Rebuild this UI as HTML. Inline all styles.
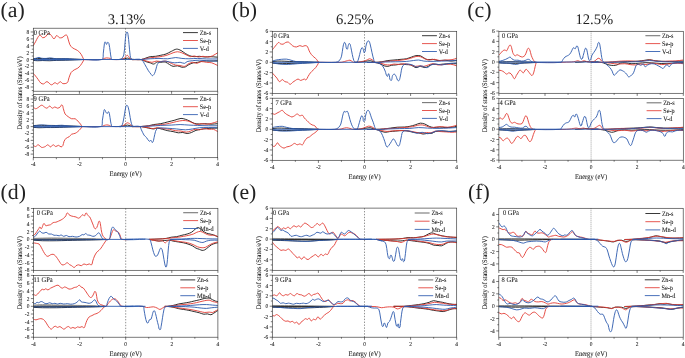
<!DOCTYPE html>
<html><head><meta charset="utf-8"><title>Density of states</title>
<style>html,body{margin:0;padding:0;background:#fff;}svg{display:block;will-change:transform;}text{text-rendering:geometricPrecision;}</style>
</head><body>
<svg width="685" height="358" viewBox="0 0 685 358" font-family='Liberation Serif, serif'>
<rect width="685" height="358" fill="#fff"/>
<g opacity="0.999">
<g id="panel-a">
<clipPath id="clip-a0"><rect x="33.3" y="28.2" width="184.4" height="63"/></clipPath>
<line x1="125.5" y1="28.2" x2="125.5" y2="91.2" stroke="#4a4a4a" stroke-width="0.6" stroke-dasharray="1.4 1.5"/>
<g clip-path="url(#clip-a0)" fill="none" stroke-width="0.9" stroke-linejoin="round" stroke-linecap="round">
<path d="M33.27 58.78C34.48 58.68 36.1 58.46 37.32 58.43C38.9 58.4 41.01 58.61 42.6 58.61C44.71 58.61 47.52 58.41 49.63 58.43C51.75 58.46 54.56 58.74 56.67 58.78C59.31 58.84 62.83 58.73 65.47 58.78C68.11 58.84 71.63 59.03 74.27 59.14C76.91 59.24 80.43 59.38 83.07 59.49" stroke="#151515"/>
<path d="M33.27 60.37C34.48 60.47 36.1 60.7 37.32 60.72C38.9 60.75 41.01 60.54 42.6 60.54C44.71 60.54 47.52 60.75 49.63 60.72C51.75 60.69 54.56 60.44 56.67 60.37C59.31 60.28 62.83 60.27 65.47 60.19C68.11 60.11 71.63 59.95 74.27 59.84C76.91 59.74 80.43 59.59 83.07 59.49" stroke="#151515"/>
<path d="M118.52 59.49C120.37 59.28 122.84 59.08 124.68 58.78C125.49 58.66 126.5 58.05 127.32 58.08C128.15 58.11 129.14 58.8 129.96 58.96C131.26 59.22 133.03 59.43 134.36 59.49C136.47 59.59 139.3 59.75 141.39 59.49C142.77 59.32 144.47 58.5 145.79 58.08C147.11 57.66 148.83 56.92 150.19 56.67C151.75 56.39 153.9 56.53 155.47 56.32C157.07 56.11 159.17 55.61 160.75 55.27C162.34 54.92 164.5 54.59 166.03 54.03C167.69 53.42 169.7 52.14 171.31 51.39C172.87 50.66 174.87 49.26 176.59 49.11C177.97 48.98 179.75 49.9 180.99 50.51C182.41 51.23 184.02 52.68 185.39 53.51C186.66 54.27 188.38 55.29 189.78 55.79C191.05 56.25 192.84 56.6 194.18 56.67C195.77 56.76 197.88 56.27 199.46 56.32C201.06 56.37 203.14 56.97 204.74 57.03C206.33 57.08 208.43 56.65 210.02 56.67C212.3 56.7 215.32 57.04 217.59 57.2" stroke="#151515"/>
<path d="M132.6 59.66C135.24 59.66 138.78 59.28 141.39 59.66C142.82 59.87 144.44 61.11 145.79 61.6C147.08 62.06 148.88 62.43 150.19 62.83C151.26 63.16 152.6 64.2 153.71 64.06C154.93 63.91 156.04 62.25 157.23 61.95C158.26 61.69 159.69 62.3 160.75 62.3C162.07 62.3 163.87 61.62 165.15 61.95C166.64 62.34 168.2 63.84 169.55 64.59C170.58 65.17 171.9 66.17 173.07 66.35C174.38 66.56 176.14 65.69 177.47 65.82C178.85 65.96 180.49 67.05 181.87 67.23C182.92 67.37 184.39 67.25 185.39 66.88C186.56 66.44 187.78 65.16 188.9 64.59C190.17 63.94 191.93 63.19 193.3 62.83C194.59 62.5 196.4 62.54 197.7 62.3C199.3 62.01 201.36 61.23 202.98 61.07C205.08 60.86 207.91 61.12 210.02 61.07C212.29 61.02 215.32 60.83 217.59 60.72" stroke="#151515"/>
<path d="M33.27 45.76C33.96 44.55 34.89 42.94 35.56 41.72C36.21 40.51 36.9 38.8 37.67 37.67C38.23 36.83 38.95 35.21 39.96 35.21C41.04 35.21 41.57 37.33 42.6 37.67C43.37 37.93 44.56 37.43 45.24 36.97C46.47 36.12 47.3 33.78 48.76 33.45C49.74 33.22 50.68 34.84 51.39 35.56C52.27 36.43 52.8 38.73 54.03 38.73C55.27 38.73 55.46 35.8 56.67 35.56C57.67 35.36 58.37 37.29 59.31 37.67C60.05 37.96 61.21 37.95 61.95 37.67C63.39 37.13 64.85 34.69 66.35 35.03C67.64 35.32 67.66 37.83 68.11 39.08C68.72 40.74 69.08 43.12 69.87 44.71C70.42 45.81 71.54 47.1 72.51 47.88C73.43 48.61 75 49.05 76.03 49.63C76.86 50.11 77.97 50.75 78.67 51.39C79.57 52.24 80.63 53.53 81.31 54.56C81.96 55.55 82.53 57.03 83.07 58.08C83.32 58.56 83.68 59.19 83.95 59.66" stroke="#e23a32"/>
<path d="M33.27 73.39C33.96 74.18 34.9 75.21 35.56 76.03C36.38 77.06 37.41 78.49 38.2 79.55C38.99 80.6 39.82 82.22 40.84 83.07C41.48 83.6 42.66 84.13 43.48 83.95C44.7 83.67 45.74 81.52 47 81.66C48.61 81.84 49.78 84.61 51.39 84.83C52.61 84.99 53.69 82.89 54.91 82.72C55.78 82.59 56.7 84.12 57.55 83.95C58.58 83.74 59.15 81.73 60.19 81.66C61.17 81.59 61.86 83.45 62.83 83.6C64.16 83.8 66.25 83.64 67.23 82.72C68.37 81.64 68.43 79.26 68.99 77.79C69.6 76.19 70.16 73.93 71.1 72.51C71.79 71.48 73.24 70.55 74.27 69.87C75.26 69.22 76.83 68.8 77.79 68.11C78.7 67.46 79.73 66.35 80.43 65.47C81.22 64.49 82.06 63.03 82.72 61.95C83.12 61.29 83.58 60.35 83.95 59.66" stroke="#e23a32"/>
<path d="M83.95 59.66C89.33 59.61 96.52 59.82 101.9 59.49C102.65 59.44 103.47 58.69 104.18 58.43C104.8 58.21 105.64 57.96 106.3 57.91C106.98 57.85 107.9 57.99 108.58 58.08C109.12 58.15 109.86 58.2 110.34 58.43C110.78 58.64 111.09 59.44 111.57 59.49C114.36 59.77 118.1 59.49 120.9 59.49" stroke="#e23a32"/>
<path d="M120.28 59.49C121.33 59.28 122.86 59.31 123.8 58.78C124.65 58.31 125.22 57.01 125.91 56.32C126.28 55.95 126.79 55.2 127.32 55.27C127.91 55.34 128.35 56.21 128.73 56.67C129.3 57.38 129.67 58.73 130.48 59.14C131.53 59.66 133.19 59.45 134.36 59.49C136.47 59.56 139.29 59.67 141.39 59.49C143 59.35 145.08 58.72 146.67 58.43C148.25 58.14 150.36 57.77 151.95 57.55C153.53 57.34 155.65 57.21 157.23 57.03C158.82 56.84 160.94 56.63 162.51 56.32C164.12 56 166.23 55.43 167.79 54.91C169.41 54.37 171.45 53.33 173.07 52.8C174.36 52.38 176.11 51.75 177.47 51.75C178.82 51.75 180.59 52.34 181.87 52.8C183.24 53.3 184.93 54.32 186.27 54.91C187.57 55.49 189.26 56.49 190.66 56.67C191.73 56.82 193.11 55.92 194.18 55.97C195.54 56.03 197.23 56.97 198.58 57.03C199.92 57.08 201.65 56.32 202.98 56.32C204.58 56.32 206.67 57.11 208.26 57.03C209.63 56.95 211.41 56.36 212.66 55.79C214.23 55.08 216.11 53.7 217.59 52.8" stroke="#e23a32"/>
<path d="M132.6 59.66C135.24 59.66 138.77 59.4 141.39 59.66C143.03 59.83 145.08 60.67 146.67 61.07C148.25 61.47 150.33 62.3 151.95 62.3C153.32 62.3 154.99 61.18 156.35 61.07C157.68 60.97 159.42 61.6 160.75 61.6C162.34 61.6 164.46 60.81 166.03 61.07C167.73 61.36 169.72 62.69 171.31 63.36C172.62 63.91 174.33 64.79 175.71 65.12C176.99 65.43 178.8 65.29 180.11 65.47C181.44 65.66 183.18 66.59 184.51 66.35C185.75 66.13 186.9 64.64 188.02 64.06C189.29 63.42 191.01 62.42 192.42 62.3C193.78 62.2 195.47 63.47 196.82 63.36C198.24 63.25 199.81 61.75 201.22 61.6C202.81 61.43 204.91 62.12 206.5 62.3C208.08 62.49 210.25 62.39 211.78 62.83C213.62 63.36 215.84 64.68 217.59 65.47" stroke="#e23a32"/>
<path d="M33.27 58.96C34.22 58.7 35.49 58.34 36.44 58.08C37.23 57.87 38.26 57.35 39.08 57.38C39.91 57.41 40.89 58.13 41.72 58.26C43.02 58.45 44.8 58.49 46.12 58.43C47.44 58.38 49.19 57.88 50.51 57.91C51.85 57.93 53.58 58.49 54.91 58.61C56.49 58.75 58.61 58.78 60.19 58.78C62.04 58.78 64.5 58.56 66.35 58.61C68.21 58.66 70.66 59.04 72.51 59.14C75.94 59.31 80.52 59.45 83.95 59.49C89.33 59.55 96.78 61.16 101.9 59.49C103.75 58.88 103 55.08 103.3 53.15C103.74 50.43 103.89 46.73 104.36 44C104.48 43.33 104.56 41.78 105.24 41.89C106.05 42.03 105.65 44.24 106.47 44.36C107.2 44.46 107 42.45 107.7 42.24C108.24 42.09 108.79 43.11 108.93 43.65C109.55 45.92 109.81 49.07 110.17 51.39C110.49 53.5 110.73 56.36 111.22 58.43C111.32 58.83 111.69 59.44 112.1 59.49C114.46 59.77 117.64 59.49 120.02 59.49" stroke="#2b59ad"/>
<path d="M33.27 60.02C36.07 60.07 39.8 60.19 42.6 60.19C47.88 60.19 54.91 60.08 60.19 60.02C67.32 59.93 76.82 59.77 83.95 59.66" stroke="#2b59ad"/>
<path d="M118.52 59.49C119.31 59.38 120.56 59.66 121.16 59.14C122.29 58.16 123.46 56.37 123.8 54.91C124.64 51.3 124.64 46.29 125.03 42.6C125.28 40.22 125.48 37.03 125.91 34.68C126.06 33.84 126.11 32.04 126.97 32.04C127.82 32.04 127.88 33.84 128.02 34.68C128.51 37.56 128.78 41.45 129.08 44.36C129.41 47.63 129.63 52.02 130.13 55.27C130.32 56.47 130.5 58.28 131.36 59.14C132 59.78 133.45 59.46 134.36 59.49C136.47 59.56 139.29 59.58 141.39 59.49C144.04 59.37 147.55 58.94 150.19 58.78C152.83 58.63 156.35 58.43 158.99 58.43C161.63 58.43 165.15 58.92 167.79 58.78C170.19 58.66 173.3 57.61 175.71 57.55C177.57 57.51 180.01 58.26 181.87 58.43C183.97 58.63 186.79 58.78 188.9 58.78C191.55 58.78 195.06 58.41 197.7 58.43C200.35 58.46 203.86 58.89 206.5 58.96C209.83 59.05 214.26 58.96 217.59 58.96" stroke="#2b59ad"/>
<path d="M132.6 59.49C135.24 59.54 138.96 58.65 141.39 59.66C143.07 60.36 143.94 63.06 144.91 64.59C146.05 66.39 147.29 68.96 148.43 70.75C149.14 71.86 150.23 73.25 151.07 74.27C151.45 74.73 151.9 75.82 152.48 75.68C153.39 75.45 154.16 74.22 154.59 73.39C155.24 72.16 155.6 70.32 156 68.99C156.39 67.68 156.67 65.84 157.23 64.59C157.58 63.8 158.22 62.69 158.99 62.3C160.45 61.58 162.64 61.13 164.27 61.07C165.87 61.02 167.96 61.69 169.55 61.95C171.13 62.22 173.22 62.78 174.83 62.83C176.42 62.89 178.52 62.22 180.11 62.3C181.46 62.38 183.16 63.5 184.51 63.36C185.45 63.27 186.24 61.9 187.14 61.6C188.67 61.09 190.83 60.9 192.42 60.72C194.53 60.48 197.34 60.19 199.46 60.19C201.58 60.19 204.39 60.6 206.5 60.72C209.82 60.91 214.26 61.09 217.59 61.25" stroke="#2b59ad"/>
<line x1="33.3" y1="59.5" x2="132.41" y2="59.5" stroke="#2b59ad"/>
</g>
<rect x="33.3" y="28.2" width="184.4" height="63" fill="none" stroke="#333" stroke-width="0.65"/>
<line x1="30.7" y1="87.02" x2="33.3" y2="87.02" stroke="#222" stroke-width="0.6"/>
<text transform="translate(29.2 89.02) scale(0.9 1)" font-size="6.04" text-anchor="end" fill="#1a1a1a" stroke="#1a1a1a" stroke-width="0.08">-8</text>
<line x1="30.7" y1="80.14" x2="33.3" y2="80.14" stroke="#222" stroke-width="0.6"/>
<text transform="translate(29.2 82.14) scale(0.9 1)" font-size="6.04" text-anchor="end" fill="#1a1a1a" stroke="#1a1a1a" stroke-width="0.08">-6</text>
<line x1="30.7" y1="73.26" x2="33.3" y2="73.26" stroke="#222" stroke-width="0.6"/>
<text transform="translate(29.2 75.26) scale(0.9 1)" font-size="6.04" text-anchor="end" fill="#1a1a1a" stroke="#1a1a1a" stroke-width="0.08">-4</text>
<line x1="30.7" y1="66.38" x2="33.3" y2="66.38" stroke="#222" stroke-width="0.6"/>
<text transform="translate(29.2 68.38) scale(0.9 1)" font-size="6.04" text-anchor="end" fill="#1a1a1a" stroke="#1a1a1a" stroke-width="0.08">-2</text>
<line x1="30.7" y1="59.5" x2="33.3" y2="59.5" stroke="#222" stroke-width="0.6"/>
<text transform="translate(29.2 61.5) scale(0.9 1)" font-size="6.04" text-anchor="end" fill="#1a1a1a" stroke="#1a1a1a" stroke-width="0.08">0</text>
<line x1="30.7" y1="52.62" x2="33.3" y2="52.62" stroke="#222" stroke-width="0.6"/>
<text transform="translate(29.2 54.62) scale(0.9 1)" font-size="6.04" text-anchor="end" fill="#1a1a1a" stroke="#1a1a1a" stroke-width="0.08">2</text>
<line x1="30.7" y1="45.74" x2="33.3" y2="45.74" stroke="#222" stroke-width="0.6"/>
<text transform="translate(29.2 47.74) scale(0.9 1)" font-size="6.04" text-anchor="end" fill="#1a1a1a" stroke="#1a1a1a" stroke-width="0.08">4</text>
<line x1="30.7" y1="38.86" x2="33.3" y2="38.86" stroke="#222" stroke-width="0.6"/>
<text transform="translate(29.2 40.86) scale(0.9 1)" font-size="6.04" text-anchor="end" fill="#1a1a1a" stroke="#1a1a1a" stroke-width="0.08">6</text>
<line x1="30.7" y1="31.98" x2="33.3" y2="31.98" stroke="#222" stroke-width="0.6"/>
<text transform="translate(29.2 33.98) scale(0.9 1)" font-size="6.04" text-anchor="end" fill="#1a1a1a" stroke="#1a1a1a" stroke-width="0.08">8</text>
<line x1="31.8" y1="83.58" x2="33.3" y2="83.58" stroke="#222" stroke-width="0.6"/>
<line x1="31.8" y1="76.7" x2="33.3" y2="76.7" stroke="#222" stroke-width="0.6"/>
<line x1="31.8" y1="69.82" x2="33.3" y2="69.82" stroke="#222" stroke-width="0.6"/>
<line x1="31.8" y1="62.94" x2="33.3" y2="62.94" stroke="#222" stroke-width="0.6"/>
<line x1="31.8" y1="56.06" x2="33.3" y2="56.06" stroke="#222" stroke-width="0.6"/>
<line x1="31.8" y1="49.18" x2="33.3" y2="49.18" stroke="#222" stroke-width="0.6"/>
<line x1="31.8" y1="42.3" x2="33.3" y2="42.3" stroke="#222" stroke-width="0.6"/>
<line x1="31.8" y1="35.42" x2="33.3" y2="35.42" stroke="#222" stroke-width="0.6"/>
<line x1="31.8" y1="90.46" x2="33.3" y2="90.46" stroke="#222" stroke-width="0.6"/>
<line x1="33.3" y1="91.2" x2="33.3" y2="93.8" stroke="#222" stroke-width="0.6"/>
<line x1="56.35" y1="91.2" x2="56.35" y2="92.7" stroke="#222" stroke-width="0.6"/>
<line x1="79.4" y1="91.2" x2="79.4" y2="93.8" stroke="#222" stroke-width="0.6"/>
<line x1="102.45" y1="91.2" x2="102.45" y2="92.7" stroke="#222" stroke-width="0.6"/>
<line x1="125.5" y1="91.2" x2="125.5" y2="93.8" stroke="#222" stroke-width="0.6"/>
<line x1="148.55" y1="91.2" x2="148.55" y2="92.7" stroke="#222" stroke-width="0.6"/>
<line x1="171.6" y1="91.2" x2="171.6" y2="93.8" stroke="#222" stroke-width="0.6"/>
<line x1="194.65" y1="91.2" x2="194.65" y2="92.7" stroke="#222" stroke-width="0.6"/>
<line x1="217.7" y1="91.2" x2="217.7" y2="93.8" stroke="#222" stroke-width="0.6"/>
<text transform="translate(33.7 35.1) scale(0.9 1)" font-size="7.22" text-anchor="start" fill="#1a1a1a" stroke="#1a1a1a" stroke-width="0.08">0 GPa</text>
<line x1="183" y1="32.6" x2="197.9" y2="32.6" stroke="#151515" stroke-width="0.85"/>
<text transform="translate(199.7 35) scale(0.9 1)" font-size="6.9" text-anchor="start" fill="#1a1a1a" stroke="#1a1a1a" stroke-width="0.08">Zn-s</text>
<line x1="183" y1="40.5" x2="197.9" y2="40.5" stroke="#e23a32" stroke-width="0.85"/>
<text transform="translate(199.7 42.9) scale(0.9 1)" font-size="6.9" text-anchor="start" fill="#1a1a1a" stroke="#1a1a1a" stroke-width="0.08">Se-p</text>
<line x1="183" y1="48.4" x2="197.9" y2="48.4" stroke="#2b59ad" stroke-width="0.85"/>
<text transform="translate(199.7 50.8) scale(0.9 1)" font-size="6.9" text-anchor="start" fill="#1a1a1a" stroke="#1a1a1a" stroke-width="0.08">V-d</text>
<clipPath id="clip-a1"><rect x="33.3" y="94.4" width="184.4" height="63.3"/></clipPath>
<line x1="125.5" y1="94.4" x2="125.5" y2="157.7" stroke="#4a4a4a" stroke-width="0.6" stroke-dasharray="1.4 1.5"/>
<g clip-path="url(#clip-a1)" fill="none" stroke-width="0.9" stroke-linejoin="round" stroke-linecap="round">
<path d="M33.27 125.61C35.01 125.5 37.33 125.28 39.08 125.26C40.66 125.23 42.77 125.41 44.36 125.43C46.47 125.46 49.28 125.41 51.39 125.43C54.03 125.46 57.55 125.53 60.19 125.61C62.83 125.69 66.35 125.86 68.99 125.96C71.63 126.07 75.15 126.21 77.79 126.31C79.11 126.37 80.87 126.44 82.19 126.49" stroke="#151515"/>
<path d="M33.27 127.37C35.01 127.47 37.33 127.7 39.08 127.72C41.19 127.75 44 127.57 46.12 127.54C48.75 127.52 52.27 127.6 54.91 127.54C57.55 127.49 61.07 127.3 63.71 127.19C66.35 127.09 69.87 126.94 72.51 126.84C75.41 126.73 79.28 126.59 82.19 126.49" stroke="#151515"/>
<path d="M118.52 126.49C120.1 126.33 122.23 126.21 123.8 125.96C124.87 125.79 126.23 125.08 127.32 125.08C128.41 125.08 129.77 125.75 130.84 125.96C131.88 126.17 133.29 126.44 134.36 126.49C136.46 126.59 139.29 126.59 141.39 126.49C143.51 126.38 146.34 126.11 148.43 125.78C150.04 125.53 152.11 124.83 153.71 124.55C155.81 124.19 158.66 124.07 160.75 123.67C162.89 123.27 165.68 122.44 167.79 121.91C169.9 121.39 172.72 120.71 174.83 120.15C176.68 119.66 179.07 118.55 180.99 118.39C182.33 118.28 184.1 118.89 185.39 119.27C186.75 119.68 188.49 120.44 189.78 121.03C191.14 121.66 192.76 122.88 194.18 123.32C195.71 123.79 197.87 123.97 199.46 124.03C201.05 124.08 203.15 123.65 204.74 123.67C206.6 123.7 209.05 124.2 210.9 124.2C212.91 124.2 215.58 123.83 217.59 123.67" stroke="#151515"/>
<path d="M132.6 126.66C135.24 126.66 138.77 126.43 141.39 126.66C143.54 126.86 146.32 127.68 148.43 128.07C150.01 128.37 152.11 128.95 153.71 128.95C154.8 128.95 156.14 128.03 157.23 128.07C158.86 128.14 160.93 128.91 162.51 129.3C164.1 129.7 166.19 130.36 167.79 130.71C169.36 131.05 171.49 131.28 173.07 131.59C174.66 131.91 176.73 132.68 178.35 132.82C179.67 132.94 181.43 132.37 182.75 132.47C184.1 132.58 185.79 133.53 187.14 133.53C188.5 133.53 190.27 132.93 191.54 132.47C192.92 131.98 194.55 130.82 195.94 130.36C197.48 129.86 199.63 129.57 201.22 129.3C202.8 129.04 204.91 128.76 206.5 128.6C208.08 128.44 210.19 128.32 211.78 128.25C213.52 128.17 215.84 128.13 217.59 128.07" stroke="#151515"/>
<path d="M33.27 106.96C33.96 107.48 34.7 108.62 35.56 108.72C36.43 108.81 37.44 107.92 38.2 107.48C39.29 106.86 40.46 105.3 41.72 105.2C42.66 105.12 43.53 106.49 44.36 106.96C45.12 107.39 46.13 108.33 47 108.19C48 108.02 48.62 106.08 49.63 106.08C50.65 106.08 51.27 108.02 52.27 108.19C53.14 108.33 54.04 106.96 54.91 106.96C55.79 106.96 56.68 108.19 57.55 108.19C58.43 108.19 59.5 107.49 60.19 106.96C60.85 106.46 61.23 104.44 61.95 104.85C63.03 105.45 62.96 107.55 63.36 108.72C63.91 110.29 64.26 112.56 65.12 114C65.74 115.02 67.14 115.93 68.11 116.63C69.11 117.36 70.45 118.39 71.63 118.75C72.64 119.05 74.16 118.38 75.15 118.75C76.13 119.11 77.05 120.29 77.79 121.03C78.64 121.88 79.69 123.08 80.43 124.03C81.01 124.78 81.66 125.87 82.19 126.66" stroke="#e23a32"/>
<path d="M33.27 145.32C33.96 145.69 34.78 146.63 35.56 146.55C36.5 146.45 37.26 144.65 38.2 144.79C39.5 144.98 40.44 147.11 41.72 147.43C42.77 147.69 44.24 146.98 45.24 146.55C46.11 146.17 46.93 144.73 47.88 144.79C48.89 144.86 49.5 146.9 50.51 146.9C51.53 146.9 52.14 144.86 53.15 144.79C54.1 144.73 54.85 146.45 55.79 146.55C56.66 146.64 57.56 145.26 58.43 145.32C59.35 145.38 60.15 146.83 61.07 146.9C61.71 146.95 62.53 146.24 62.83 145.67C63.48 144.46 63.49 142.51 64.06 141.27C64.56 140.21 65.48 138.88 66.35 138.1C67 137.52 68.29 137.39 68.99 136.87C69.89 136.21 70.66 134.79 71.63 134.23C72.58 133.69 74.15 133.78 75.15 133.35C76.02 132.98 77.06 132.2 77.79 131.59C78.65 130.87 79.68 129.79 80.43 128.95C81.01 128.31 81.66 127.35 82.19 126.66" stroke="#e23a32"/>
<path d="M82.19 126.66C88.1 126.61 95.99 126.82 101.9 126.49C102.65 126.45 103.46 125.66 104.18 125.43C104.95 125.19 106.02 124.91 106.82 124.91C107.63 124.91 108.7 125.18 109.46 125.43C110.13 125.66 110.87 126.42 111.57 126.49C114.36 126.75 118.1 126.49 120.9 126.49" stroke="#e23a32"/>
<path d="M120.28 126.49C121.07 126.28 122.18 126.13 122.92 125.78C123.68 125.43 124.52 124.67 125.21 124.2C125.84 123.77 126.56 122.89 127.32 122.79C128 122.71 128.86 123.29 129.43 123.67C130.2 124.2 130.95 125.25 131.72 125.78C132.18 126.11 132.91 126.45 133.48 126.49C135.85 126.66 139.02 126.59 141.39 126.49C144.04 126.38 147.56 126.05 150.19 125.78C151.78 125.63 153.88 125.24 155.47 125.08C157.58 124.87 160.41 124.82 162.51 124.55C164.64 124.29 167.45 123.77 169.55 123.32C171.68 122.87 174.46 122.02 176.59 121.56C178.42 121.17 180.87 120.59 182.75 120.51C184.34 120.43 186.48 120.67 188.02 121.03C189.41 121.36 191.1 122.27 192.42 122.79C193.74 123.32 195.41 124.41 196.82 124.55C198.16 124.69 199.88 123.72 201.22 123.67C202.81 123.62 204.91 124.25 206.5 124.2C208.11 124.15 210.22 123.69 211.78 123.32C213.55 122.9 215.84 122.09 217.59 121.56" stroke="#e23a32"/>
<path d="M132.6 126.66C135.24 126.66 138.76 126.49 141.39 126.66C143.52 126.81 146.33 127.36 148.43 127.72C149.76 127.95 151.49 128.6 152.83 128.6C154.18 128.6 155.89 127.72 157.23 127.72C159.1 127.72 161.54 128.36 163.39 128.6C165.23 128.84 167.72 128.99 169.55 129.3C171.42 129.62 173.83 130.42 175.71 130.71C177.28 130.95 179.41 130.85 180.99 131.06C182.59 131.28 184.65 132.12 186.27 132.12C187.62 132.12 189.37 131.48 190.66 131.06C192.02 130.63 193.66 129.5 195.06 129.3C196.38 129.12 198.14 129.94 199.46 129.83C200.83 129.72 202.49 128.68 203.86 128.6C205.46 128.51 207.55 129.19 209.14 129.3C210.46 129.4 212.27 128.96 213.54 129.3C214.89 129.67 216.37 130.91 217.59 131.59" stroke="#e23a32"/>
<path d="M33.27 125.78C34.48 125.68 36.1 125.55 37.32 125.43C38.9 125.28 41 124.91 42.6 124.91C44.19 124.91 46.29 125.34 47.88 125.43C49.98 125.55 52.8 125.64 54.91 125.61C57.03 125.58 59.84 125.2 61.95 125.26C64.07 125.31 66.87 125.83 68.99 125.96C72.95 126.2 78.23 126.42 82.19 126.49C87.84 126.58 95.63 128.18 101.02 126.49C102.87 125.91 102.07 122.07 102.42 120.15C102.91 117.53 103.31 113.98 103.83 111.36C103.94 110.8 104.01 109.38 104.54 109.6C105.36 109.94 105.42 111.51 105.94 112.24C106.27 112.69 106.8 113.59 107.35 113.47C107.95 113.34 107.81 111.56 108.41 111.71C109.14 111.89 109.3 113.26 109.46 114C109.93 116.08 110.14 118.93 110.52 121.03C110.78 122.47 111.09 124.41 111.57 125.78C111.69 126.1 112.12 126.46 112.45 126.49C114.72 126.68 117.75 126.49 120.02 126.49" stroke="#2b59ad"/>
<path d="M33.27 127.02C36.07 127.07 39.8 127.19 42.6 127.19C47.88 127.19 54.91 127.09 60.19 127.02C66.79 126.93 75.59 126.77 82.19 126.66" stroke="#2b59ad"/>
<path d="M118.52 126.49C119.31 126.49 120.55 127 121.16 126.49C122.1 125.7 122.61 123.98 122.92 122.79C123.67 119.94 124.15 116.02 124.68 113.12C125.04 111.11 125.34 108.39 125.91 106.43C126.04 105.96 126.54 104.96 126.97 105.2C127.74 105.64 128.12 106.98 128.37 107.84C128.91 109.64 129.26 112.14 129.6 114C130 116.1 130.39 118.94 130.84 121.03C131.13 122.37 131.54 124.17 132.07 125.43C132.24 125.85 132.68 126.43 133.12 126.49C135.06 126.76 137.68 126.53 139.63 126.49C142.8 126.42 147.03 126.3 150.19 126.14C153.36 125.98 157.58 125.59 160.75 125.43C163.92 125.27 168.14 125.23 171.31 125.08C173.95 124.96 177.46 124.55 180.11 124.55C182.75 124.55 186.26 124.95 188.9 125.08C191.54 125.21 195.06 125.34 197.7 125.43C200.87 125.55 205.09 125.73 208.26 125.78C211.06 125.83 214.79 125.78 217.59 125.78" stroke="#2b59ad"/>
<path d="M132.6 126.49C134.71 126.49 137.66 125.74 139.63 126.49C140.69 126.89 140.88 128.82 141.39 129.83C142.2 131.41 143.05 133.64 144.03 135.11C144.66 136.04 145.94 136.9 146.67 137.75C147.53 138.75 148.18 140.59 149.31 141.27C149.82 141.57 150.52 140.18 151.07 140.39C151.78 140.67 151.91 143.01 152.48 142.5C153.61 141.51 153.67 139.2 154.06 137.75C154.57 135.92 154.85 133.38 155.47 131.59C155.81 130.61 156.38 129.2 157.23 128.6C158.11 127.98 159.67 127.93 160.75 127.9C162.86 127.83 165.68 128.11 167.79 128.25C170.43 128.42 173.95 128.71 176.59 128.95C179.23 129.19 182.73 129.83 185.39 129.83C187.51 129.83 190.32 129.27 192.42 128.95C194.54 128.63 197.33 127.91 199.46 127.72C202.09 127.49 205.62 127.54 208.26 127.54C211.06 127.54 214.79 127.67 217.59 127.72" stroke="#2b59ad"/>
<line x1="33.3" y1="126.6" x2="132.41" y2="126.6" stroke="#2b59ad"/>
</g>
<rect x="33.3" y="94.4" width="184.4" height="63.3" fill="none" stroke="#333" stroke-width="0.65"/>
<line x1="30.7" y1="154.12" x2="33.3" y2="154.12" stroke="#222" stroke-width="0.6"/>
<text transform="translate(29.2 156.12) scale(0.9 1)" font-size="6.04" text-anchor="end" fill="#1a1a1a" stroke="#1a1a1a" stroke-width="0.08">-8</text>
<line x1="30.7" y1="147.24" x2="33.3" y2="147.24" stroke="#222" stroke-width="0.6"/>
<text transform="translate(29.2 149.24) scale(0.9 1)" font-size="6.04" text-anchor="end" fill="#1a1a1a" stroke="#1a1a1a" stroke-width="0.08">-6</text>
<line x1="30.7" y1="140.36" x2="33.3" y2="140.36" stroke="#222" stroke-width="0.6"/>
<text transform="translate(29.2 142.36) scale(0.9 1)" font-size="6.04" text-anchor="end" fill="#1a1a1a" stroke="#1a1a1a" stroke-width="0.08">-4</text>
<line x1="30.7" y1="133.48" x2="33.3" y2="133.48" stroke="#222" stroke-width="0.6"/>
<text transform="translate(29.2 135.48) scale(0.9 1)" font-size="6.04" text-anchor="end" fill="#1a1a1a" stroke="#1a1a1a" stroke-width="0.08">-2</text>
<line x1="30.7" y1="126.6" x2="33.3" y2="126.6" stroke="#222" stroke-width="0.6"/>
<text transform="translate(29.2 128.6) scale(0.9 1)" font-size="6.04" text-anchor="end" fill="#1a1a1a" stroke="#1a1a1a" stroke-width="0.08">0</text>
<line x1="30.7" y1="119.72" x2="33.3" y2="119.72" stroke="#222" stroke-width="0.6"/>
<text transform="translate(29.2 121.72) scale(0.9 1)" font-size="6.04" text-anchor="end" fill="#1a1a1a" stroke="#1a1a1a" stroke-width="0.08">2</text>
<line x1="30.7" y1="112.84" x2="33.3" y2="112.84" stroke="#222" stroke-width="0.6"/>
<text transform="translate(29.2 114.84) scale(0.9 1)" font-size="6.04" text-anchor="end" fill="#1a1a1a" stroke="#1a1a1a" stroke-width="0.08">4</text>
<line x1="30.7" y1="105.96" x2="33.3" y2="105.96" stroke="#222" stroke-width="0.6"/>
<text transform="translate(29.2 107.96) scale(0.9 1)" font-size="6.04" text-anchor="end" fill="#1a1a1a" stroke="#1a1a1a" stroke-width="0.08">6</text>
<line x1="30.7" y1="99.08" x2="33.3" y2="99.08" stroke="#222" stroke-width="0.6"/>
<text transform="translate(29.2 101.08) scale(0.9 1)" font-size="6.04" text-anchor="end" fill="#1a1a1a" stroke="#1a1a1a" stroke-width="0.08">8</text>
<line x1="31.8" y1="150.68" x2="33.3" y2="150.68" stroke="#222" stroke-width="0.6"/>
<line x1="31.8" y1="143.8" x2="33.3" y2="143.8" stroke="#222" stroke-width="0.6"/>
<line x1="31.8" y1="136.92" x2="33.3" y2="136.92" stroke="#222" stroke-width="0.6"/>
<line x1="31.8" y1="130.04" x2="33.3" y2="130.04" stroke="#222" stroke-width="0.6"/>
<line x1="31.8" y1="123.16" x2="33.3" y2="123.16" stroke="#222" stroke-width="0.6"/>
<line x1="31.8" y1="116.28" x2="33.3" y2="116.28" stroke="#222" stroke-width="0.6"/>
<line x1="31.8" y1="109.4" x2="33.3" y2="109.4" stroke="#222" stroke-width="0.6"/>
<line x1="31.8" y1="102.52" x2="33.3" y2="102.52" stroke="#222" stroke-width="0.6"/>
<line x1="31.8" y1="95.64" x2="33.3" y2="95.64" stroke="#222" stroke-width="0.6"/>
<line x1="33.3" y1="157.7" x2="33.3" y2="160.3" stroke="#222" stroke-width="0.6"/>
<line x1="56.35" y1="157.7" x2="56.35" y2="159.2" stroke="#222" stroke-width="0.6"/>
<line x1="79.4" y1="157.7" x2="79.4" y2="160.3" stroke="#222" stroke-width="0.6"/>
<line x1="102.45" y1="157.7" x2="102.45" y2="159.2" stroke="#222" stroke-width="0.6"/>
<line x1="125.5" y1="157.7" x2="125.5" y2="160.3" stroke="#222" stroke-width="0.6"/>
<line x1="148.55" y1="157.7" x2="148.55" y2="159.2" stroke="#222" stroke-width="0.6"/>
<line x1="171.6" y1="157.7" x2="171.6" y2="160.3" stroke="#222" stroke-width="0.6"/>
<line x1="194.65" y1="157.7" x2="194.65" y2="159.2" stroke="#222" stroke-width="0.6"/>
<line x1="217.7" y1="157.7" x2="217.7" y2="160.3" stroke="#222" stroke-width="0.6"/>
<text transform="translate(33.6 101.3) scale(0.9 1)" font-size="7.22" text-anchor="start" fill="#1a1a1a" stroke="#1a1a1a" stroke-width="0.08">9 GPa</text>
<line x1="183" y1="98.8" x2="197.9" y2="98.8" stroke="#151515" stroke-width="0.85"/>
<text transform="translate(199.7 101.2) scale(0.9 1)" font-size="6.9" text-anchor="start" fill="#1a1a1a" stroke="#1a1a1a" stroke-width="0.08">Zn-s</text>
<line x1="183" y1="106.7" x2="197.9" y2="106.7" stroke="#e23a32" stroke-width="0.85"/>
<text transform="translate(199.7 109.1) scale(0.9 1)" font-size="6.9" text-anchor="start" fill="#1a1a1a" stroke="#1a1a1a" stroke-width="0.08">Se-p</text>
<line x1="183" y1="114.6" x2="197.9" y2="114.6" stroke="#2b59ad" stroke-width="0.85"/>
<text transform="translate(199.7 117) scale(0.9 1)" font-size="6.9" text-anchor="start" fill="#1a1a1a" stroke="#1a1a1a" stroke-width="0.08">V-d</text>
<text transform="translate(33.3 166.2) scale(0.9 1)" font-size="6.04" text-anchor="middle" fill="#1a1a1a" stroke="#1a1a1a" stroke-width="0.08">-4</text>
<text transform="translate(79.4 166.2) scale(0.9 1)" font-size="6.04" text-anchor="middle" fill="#1a1a1a" stroke="#1a1a1a" stroke-width="0.08">-2</text>
<text transform="translate(125.5 166.2) scale(0.9 1)" font-size="6.04" text-anchor="middle" fill="#1a1a1a" stroke="#1a1a1a" stroke-width="0.08">0</text>
<text transform="translate(171.6 166.2) scale(0.9 1)" font-size="6.04" text-anchor="middle" fill="#1a1a1a" stroke="#1a1a1a" stroke-width="0.08">2</text>
<text transform="translate(217.7 166.2) scale(0.9 1)" font-size="6.04" text-anchor="middle" fill="#1a1a1a" stroke="#1a1a1a" stroke-width="0.08">4</text>
<text transform="translate(125.5 176.3) scale(0.9 1)" font-size="7.22" text-anchor="middle" fill="#1a1a1a" stroke="#1a1a1a" stroke-width="0.08">Energy (eV)</text>
<text transform="translate(21.7 92.95) rotate(-90) scale(0.9 1)" font-size="7.11" text-anchor="middle" fill="#1a1a1a" stroke="#1a1a1a" stroke-width="0.08">Density of states (States/eV)</text>
<text x="0.5" y="16.9" font-size="21.8" fill="#222">(a)</text>
<text x="126.6" y="24.4" font-size="14.6" text-anchor="middle" fill="#222">3.13%</text>
</g>
<g id="panel-b">
<clipPath id="clip-b0"><rect x="272.3" y="31.3" width="184.4" height="62.1"/></clipPath>
<line x1="364.5" y1="31.3" x2="364.5" y2="93.4" stroke="#4a4a4a" stroke-width="0.6" stroke-dasharray="1.4 1.5"/>
<g clip-path="url(#clip-b0)" fill="none" stroke-width="0.9" stroke-linejoin="round" stroke-linecap="round">
<path d="M272.21 61.61C273.9 61.45 276.14 61.13 277.84 61.08C279.95 61.02 282.76 61.19 284.88 61.26C287.52 61.35 291.03 61.54 293.67 61.61C296.84 61.7 301.06 61.7 304.23 61.78C306.87 61.86 310.39 62.04 313.03 62.14C314.72 62.2 316.97 62.26 318.66 62.31" stroke="#151515"/>
<path d="M272.21 63.02C273.9 63.18 276.14 63.48 277.84 63.54C280.47 63.64 284 63.59 286.63 63.54C289.8 63.49 294.03 63.3 297.19 63.19C300.36 63.09 304.58 62.97 307.75 62.84C311.02 62.71 315.39 62.47 318.66 62.31" stroke="#151515"/>
<path d="M355.28 62.31C356.86 62.21 358.98 62.12 360.56 61.96C362.15 61.8 364.25 61.46 365.84 61.26C367.16 61.09 368.91 60.64 370.24 60.73C371.34 60.8 372.71 61.44 373.76 61.78C374.14 61.91 374.58 62.31 374.99 62.31C377 62.31 379.68 62.06 381.67 61.78C383.54 61.53 385.97 60.82 387.83 60.55C389.67 60.29 392.14 60.2 393.99 60.03C396.1 59.83 398.92 59.53 401.03 59.32C402.61 59.16 404.75 59.13 406.31 58.79C407.94 58.44 410 57.55 411.59 57.03C412.9 56.6 414.61 55.82 415.99 55.63C417.29 55.44 419.12 55.44 420.39 55.8C421.57 56.14 422.83 57.32 423.9 57.91C424.94 58.48 426.26 59.49 427.42 59.67C428.99 59.92 431.12 59.19 432.7 59.32C434.32 59.46 436.36 60.44 437.98 60.55C440.09 60.7 442.91 60.12 445.02 60.2C446.89 60.28 449.31 61.02 451.18 61.08C452.82 61.13 455 60.71 456.63 60.55" stroke="#151515"/>
<path d="M367.6 62.49C369.81 62.49 372.78 62.27 374.99 62.49C376.5 62.64 378.48 63.21 379.91 63.72C381.29 64.21 382.92 65.37 384.31 65.83C385.33 66.17 386.77 66.44 387.83 66.36C388.93 66.28 390.27 65.5 391.35 65.3C392.65 65.07 394.44 65.12 395.75 64.95C397.34 64.75 399.42 64.13 401.03 64.07C402.62 64.02 404.72 64.46 406.31 64.6C407.63 64.72 409.44 64.56 410.71 64.95C412.4 65.48 414.23 67.34 415.99 67.59C417.34 67.79 419.01 66.36 420.39 66.36C421.76 66.36 423.41 67.59 424.78 67.59C425.9 67.59 427.28 66.81 428.3 66.36C429.66 65.76 431.24 64.34 432.7 64.07C434.27 63.79 436.39 64.6 437.98 64.6C439.57 64.6 441.67 64.19 443.26 64.07C445.37 63.92 448.19 63.78 450.3 63.72C452.2 63.67 454.73 63.72 456.63 63.72" stroke="#151515"/>
<path d="M272.21 50C272.84 49.2 273.68 48.15 274.32 47.36C274.95 46.56 275.75 45.47 276.43 44.72C277.08 43.99 277.77 42.64 278.72 42.43C279.38 42.29 279.85 43.59 280.48 43.84C281.22 44.13 282.34 44.39 283.12 44.19C284.04 43.94 284.87 42.78 285.76 42.43C286.5 42.13 287.63 41.85 288.39 42.08C289.19 42.31 289.89 43.29 290.51 43.84C291.21 44.45 291.97 45.5 292.79 45.95C293.76 46.48 295.21 47.06 296.31 47C297.45 46.95 298.7 45.69 299.83 45.6C300.66 45.53 301.64 46.48 302.47 46.48C303.31 46.48 304.28 45.6 305.11 45.6C305.85 45.6 306.95 45.89 307.4 46.48C308.26 47.6 308.53 49.6 309.16 50.88C309.7 51.98 310.52 53.42 311.27 54.39C311.95 55.28 313.09 56.27 313.91 57.03C314.68 57.75 315.88 58.52 316.55 59.32C317.22 60.12 317.78 61.42 318.31 62.31" stroke="#e23a32"/>
<path d="M272.21 72.87C272.84 73.56 273.69 74.46 274.32 75.16C275.12 76.05 276.2 77.22 276.96 78.15C277.79 79.17 278.32 81.33 279.6 81.67C280.58 81.93 281.22 79.56 282.24 79.56C283.25 79.56 283.97 81.22 284.88 81.67C285.6 82.03 286.79 81.84 287.51 82.2C288.42 82.65 289.14 84.31 290.15 84.31C291.17 84.31 291.98 82.8 292.79 82.2C293.56 81.63 294.62 80.93 295.43 80.44C296.2 79.98 297.18 79.03 298.07 79.03C298.97 79.03 299.81 80.44 300.71 80.44C301.85 80.44 303.1 79.14 304.23 79.03C304.82 78.97 305.5 80.24 305.99 79.91C307.01 79.22 307.45 77.43 308.1 76.39C308.77 75.32 309.6 73.85 310.39 72.87C311.09 72 312.24 71.02 313.03 70.23C313.82 69.44 314.97 68.47 315.67 67.59C316.46 66.61 317.34 65.17 317.96 64.07C318.24 63.58 318.45 62.84 318.66 62.31" stroke="#e23a32"/>
<path d="M318.66 62.31C325.42 62.31 334.43 62.54 341.18 62.31C342.27 62.28 343.65 61.7 344.7 61.43C345.5 61.23 346.54 60.92 347.34 60.73C348.13 60.55 349.18 60.08 349.98 60.2C350.71 60.31 351.46 61.06 352.09 61.43C352.52 61.69 353.01 62.24 353.5 62.31C354.81 62.51 356.58 62.31 357.9 62.31" stroke="#e23a32"/>
<path d="M355.28 62.31C356.33 62.26 357.75 62.27 358.8 62.14C359.87 62 361.27 61.67 362.32 61.43C363.38 61.19 364.82 60.94 365.84 60.55C366.94 60.14 368.19 58.96 369.36 58.79C370.18 58.68 371.27 59.26 372 59.67C372.88 60.17 373.78 61.24 374.63 61.78C375.11 62.09 375.83 62.49 376.39 62.49C378.52 62.49 381.32 62 383.43 61.78C385.54 61.57 388.36 61.27 390.47 61.08C392.58 60.9 395.4 60.76 397.51 60.55C399.63 60.34 402.45 60.04 404.55 59.67C406.42 59.35 408.88 58.77 410.71 58.27C412.32 57.82 414.34 56.78 415.99 56.51C417.29 56.29 419.11 56.35 420.39 56.68C421.8 57.05 423.42 58.27 424.78 58.79C426.07 59.28 427.82 59.95 429.18 60.03C430.78 60.11 432.87 59.24 434.46 59.32C436.09 59.4 438.12 60.45 439.74 60.55C441.59 60.67 444.05 60.16 445.9 60.03C447.75 59.89 450.23 59.97 452.06 59.67C453.48 59.44 455.26 58.69 456.63 58.27" stroke="#e23a32"/>
<path d="M367.6 62.49C369.81 62.49 372.77 62.37 374.99 62.49C376.74 62.58 379.08 62.84 380.79 63.19C382.15 63.47 383.83 64.33 385.19 64.6C386.49 64.86 388.27 65.03 389.59 64.95C390.94 64.87 392.65 64.15 393.99 64.07C395.58 63.99 397.68 64.48 399.27 64.42C400.87 64.37 402.95 63.65 404.55 63.72C406.43 63.81 408.88 64.5 410.71 64.95C412.05 65.29 413.73 66.22 415.11 66.36C416.43 66.49 418.18 65.83 419.51 65.83C420.83 65.83 422.58 66.49 423.9 66.36C425.28 66.22 426.98 65.35 428.3 64.95C429.62 64.56 431.33 63.72 432.7 63.72C434.33 63.72 436.36 64.82 437.98 64.95C439.56 65.08 441.68 64.71 443.26 64.6C445.37 64.45 448.19 63.88 450.3 64.07C452.26 64.25 454.73 65.3 456.63 65.83" stroke="#e23a32"/>
<path d="M272.21 61.08C273.37 60.76 274.89 60.25 276.08 60.03C277.65 59.72 279.76 59.45 281.36 59.32C282.94 59.19 285.06 59 286.63 59.15C287.99 59.27 289.72 59.86 291.03 60.2C292.36 60.55 294.08 61.25 295.43 61.43C297.53 61.72 300.36 61.69 302.47 61.78C305.11 61.9 308.63 62.05 311.27 62.14C313.38 62.21 316.2 62.3 318.31 62.31C323.59 62.35 330.64 62.75 335.9 62.31C337.08 62.21 338.63 61.42 339.42 60.55C340.41 59.47 341.16 57.57 341.54 56.15C342.22 53.57 342.41 49.97 342.94 47.36C343.25 45.85 343.43 43.66 344.35 42.43C344.69 41.98 345.38 43.31 345.58 43.84C346.18 45.36 345.63 48.21 346.99 49.12C347.92 49.74 347.77 46.62 348.22 45.6C348.52 44.92 348.84 43.08 349.45 43.48C350.48 44.17 350.55 46.16 350.86 47.36C351.4 49.44 351.79 52.29 352.27 54.39C352.69 56.26 353.18 58.77 353.85 60.55C354.09 61.19 354.67 61.98 355.26 62.31C355.72 62.57 356.49 62.31 357.02 62.31" stroke="#2b59ad"/>
<path d="M272.21 62.84C274.42 63.21 277.36 63.85 279.6 64.07C282.23 64.33 285.75 64.48 288.39 64.42C291.04 64.37 294.55 63.91 297.19 63.72C300.36 63.49 304.58 63.2 307.75 63.02C310.92 62.83 315.14 62.65 318.31 62.49" stroke="#2b59ad"/>
<path d="M355.28 62.31C355.81 62.31 356.71 62.73 357.04 62.31C357.93 61.2 358.38 59.27 358.8 57.91C359.44 55.83 359.91 52.95 360.56 50.88C360.87 49.88 361.1 48.28 361.97 47.71C362.43 47.4 362.95 48.61 363.2 49.12C363.7 50.12 363.64 53.43 364.43 52.63C365.77 51.29 365.36 48.31 365.84 46.48C366.21 45.04 366.58 43.05 367.24 41.73C367.47 41.28 368.25 40.55 368.65 40.85C369.45 41.44 369.79 42.88 370.06 43.84C370.8 46.44 371.38 50 372 52.63C372.49 54.75 373.11 57.59 373.76 59.67C374.01 60.51 374.13 62.14 374.99 62.31C377.99 62.91 382.13 62.04 385.19 61.96C388.36 61.88 392.58 61.86 395.75 61.78C398.92 61.71 403.15 61.65 406.31 61.43C408.43 61.28 411.23 60.79 413.35 60.55C414.93 60.37 417.04 59.95 418.63 60.03C420.24 60.11 422.3 60.9 423.9 61.08C426.01 61.32 428.83 61.43 430.94 61.43C434.11 61.43 438.33 61.18 441.5 61.08C443.61 61.02 446.43 61.03 448.54 60.91C450.97 60.76 454.21 60.41 456.63 60.2" stroke="#2b59ad"/>
<path d="M367.6 62.49C369.81 62.49 372.77 62.35 374.99 62.49C376.22 62.56 377.91 62.69 379.03 63.19C380.24 63.73 381.74 64.79 382.55 65.83C383.64 67.23 384.47 69.5 385.19 71.11C385.89 72.67 385.94 75.37 387.3 76.39C388.02 76.93 388.12 73.07 388.71 73.75C390.09 75.34 388.91 79.57 390.82 80.44C392.25 81.09 391.82 76.88 392.58 75.51C392.91 74.92 393.69 73.94 394.34 74.1C395.18 74.31 395.65 75.65 396.1 76.39C396.87 77.66 396.94 80.47 398.39 80.79C399.54 81.04 399.83 78.41 400.15 77.27C400.73 75.21 400.9 72.32 401.38 70.23C401.69 68.88 402.03 66.99 402.79 65.83C403.31 65.04 404.49 64.2 405.43 64.07C407.26 63.82 409.79 64.13 411.59 64.6C413.28 65.04 415.14 66.82 416.87 67.06C417.97 67.22 419.27 65.89 420.39 65.83C421.47 65.78 422.85 66.45 423.9 66.71C424.96 66.98 426.37 67.86 427.42 67.59C428.7 67.27 429.72 65.44 430.94 64.95C432.43 64.36 434.62 64.07 436.22 64.07C437.83 64.07 439.9 65.02 441.5 64.95C443.65 64.86 446.41 63.84 448.54 63.54C450.95 63.21 454.21 63.05 456.63 62.84" stroke="#2b59ad"/>
<line x1="272.3" y1="62.3" x2="371.42" y2="62.3" stroke="#2b59ad"/>
</g>
<rect x="272.3" y="31.3" width="184.4" height="62.1" fill="none" stroke="#333" stroke-width="0.65"/>
<line x1="269.7" y1="93.32" x2="272.3" y2="93.32" stroke="#222" stroke-width="0.6"/>
<text transform="translate(268.2 95.32) scale(0.9 1)" font-size="6.04" text-anchor="end" fill="#1a1a1a" stroke="#1a1a1a" stroke-width="0.08">-6</text>
<line x1="269.7" y1="82.98" x2="272.3" y2="82.98" stroke="#222" stroke-width="0.6"/>
<text transform="translate(268.2 84.98) scale(0.9 1)" font-size="6.04" text-anchor="end" fill="#1a1a1a" stroke="#1a1a1a" stroke-width="0.08">-4</text>
<line x1="269.7" y1="72.64" x2="272.3" y2="72.64" stroke="#222" stroke-width="0.6"/>
<text transform="translate(268.2 74.64) scale(0.9 1)" font-size="6.04" text-anchor="end" fill="#1a1a1a" stroke="#1a1a1a" stroke-width="0.08">-2</text>
<line x1="269.7" y1="62.3" x2="272.3" y2="62.3" stroke="#222" stroke-width="0.6"/>
<text transform="translate(268.2 64.3) scale(0.9 1)" font-size="6.04" text-anchor="end" fill="#1a1a1a" stroke="#1a1a1a" stroke-width="0.08">0</text>
<line x1="269.7" y1="51.96" x2="272.3" y2="51.96" stroke="#222" stroke-width="0.6"/>
<text transform="translate(268.2 53.96) scale(0.9 1)" font-size="6.04" text-anchor="end" fill="#1a1a1a" stroke="#1a1a1a" stroke-width="0.08">2</text>
<line x1="269.7" y1="41.62" x2="272.3" y2="41.62" stroke="#222" stroke-width="0.6"/>
<text transform="translate(268.2 43.62) scale(0.9 1)" font-size="6.04" text-anchor="end" fill="#1a1a1a" stroke="#1a1a1a" stroke-width="0.08">4</text>
<line x1="269.7" y1="31.28" x2="272.3" y2="31.28" stroke="#222" stroke-width="0.6"/>
<text transform="translate(268.2 33.28) scale(0.9 1)" font-size="6.04" text-anchor="end" fill="#1a1a1a" stroke="#1a1a1a" stroke-width="0.08">6</text>
<line x1="270.8" y1="88.15" x2="272.3" y2="88.15" stroke="#222" stroke-width="0.6"/>
<line x1="270.8" y1="77.81" x2="272.3" y2="77.81" stroke="#222" stroke-width="0.6"/>
<line x1="270.8" y1="67.47" x2="272.3" y2="67.47" stroke="#222" stroke-width="0.6"/>
<line x1="270.8" y1="57.13" x2="272.3" y2="57.13" stroke="#222" stroke-width="0.6"/>
<line x1="270.8" y1="46.79" x2="272.3" y2="46.79" stroke="#222" stroke-width="0.6"/>
<line x1="270.8" y1="36.45" x2="272.3" y2="36.45" stroke="#222" stroke-width="0.6"/>
<line x1="272.3" y1="93.4" x2="272.3" y2="96" stroke="#222" stroke-width="0.6"/>
<line x1="295.35" y1="93.4" x2="295.35" y2="94.9" stroke="#222" stroke-width="0.6"/>
<line x1="318.4" y1="93.4" x2="318.4" y2="96" stroke="#222" stroke-width="0.6"/>
<line x1="341.45" y1="93.4" x2="341.45" y2="94.9" stroke="#222" stroke-width="0.6"/>
<line x1="364.5" y1="93.4" x2="364.5" y2="96" stroke="#222" stroke-width="0.6"/>
<line x1="387.55" y1="93.4" x2="387.55" y2="94.9" stroke="#222" stroke-width="0.6"/>
<line x1="410.6" y1="93.4" x2="410.6" y2="96" stroke="#222" stroke-width="0.6"/>
<line x1="433.65" y1="93.4" x2="433.65" y2="94.9" stroke="#222" stroke-width="0.6"/>
<line x1="456.7" y1="93.4" x2="456.7" y2="96" stroke="#222" stroke-width="0.6"/>
<text transform="translate(273.4 38.2) scale(0.9 1)" font-size="7.22" text-anchor="start" fill="#1a1a1a" stroke="#1a1a1a" stroke-width="0.08">0 GPa</text>
<line x1="422" y1="35.7" x2="436.9" y2="35.7" stroke="#151515" stroke-width="0.85"/>
<text transform="translate(438.7 38.1) scale(0.9 1)" font-size="6.9" text-anchor="start" fill="#1a1a1a" stroke="#1a1a1a" stroke-width="0.08">Zn-s</text>
<line x1="422" y1="43.6" x2="436.9" y2="43.6" stroke="#e23a32" stroke-width="0.85"/>
<text transform="translate(438.7 46) scale(0.9 1)" font-size="6.9" text-anchor="start" fill="#1a1a1a" stroke="#1a1a1a" stroke-width="0.08">Se-p</text>
<line x1="422" y1="51.5" x2="436.9" y2="51.5" stroke="#2b59ad" stroke-width="0.85"/>
<text transform="translate(438.7 53.9) scale(0.9 1)" font-size="6.9" text-anchor="start" fill="#1a1a1a" stroke="#1a1a1a" stroke-width="0.08">V-d</text>
<clipPath id="clip-b1"><rect x="272.3" y="98.2" width="184.4" height="62.1"/></clipPath>
<line x1="364.5" y1="98.2" x2="364.5" y2="160.3" stroke="#4a4a4a" stroke-width="0.6" stroke-dasharray="1.4 1.5"/>
<g clip-path="url(#clip-b1)" fill="none" stroke-width="0.9" stroke-linejoin="round" stroke-linecap="round">
<path d="M272.21 128.61C273.9 128.45 276.14 128.13 277.84 128.08C279.95 128.02 282.76 128.19 284.88 128.26C287.52 128.35 291.03 128.54 293.67 128.61C296.84 128.7 301.06 128.7 304.23 128.78C306.87 128.86 310.39 129.04 313.03 129.14C314.61 129.2 316.72 129.26 318.31 129.31" stroke="#151515"/>
<path d="M272.21 130.02C273.9 130.18 276.14 130.48 277.84 130.54C280.47 130.64 284 130.59 286.63 130.54C289.8 130.49 294.03 130.3 297.19 130.19C300.36 130.09 304.58 129.97 307.75 129.84C310.92 129.71 315.14 129.47 318.31 129.31" stroke="#151515"/>
<path d="M355.28 129.31C356.86 129.21 358.98 129.12 360.56 128.96C362.15 128.8 364.25 128.46 365.84 128.26C367.16 128.09 368.91 127.64 370.24 127.73C371.34 127.8 372.69 128.49 373.76 128.78C374.43 128.97 375.34 129.3 376.04 129.31C378.26 129.35 381.22 129.15 383.43 128.96C385.55 128.78 388.36 128.35 390.47 128.08C392.58 127.82 395.39 127.36 397.51 127.2C399.62 127.04 402.44 127.18 404.55 127.03C406.14 126.91 408.26 126.63 409.83 126.32C411.43 126 413.54 125.38 415.11 124.91C416.71 124.43 418.72 123.31 420.39 123.15C421.73 123.03 423.52 123.58 424.78 124.03C426.18 124.54 427.8 125.77 429.18 126.32C430.46 126.83 432.22 127.46 433.58 127.55C435.43 127.68 437.89 127.03 439.74 127.03C441.6 127.03 444.05 127.53 445.9 127.55C447.75 127.58 450.22 127.41 452.06 127.2C453.45 127.04 455.26 126.59 456.63 126.32" stroke="#151515"/>
<path d="M367.6 129.49C370.13 129.49 373.53 129.19 376.04 129.49C377.53 129.67 379.36 130.63 380.79 131.07C382.1 131.48 383.82 132.22 385.19 132.3C386.53 132.38 388.26 131.76 389.59 131.6C391.43 131.39 393.9 131.22 395.75 131.07C397.86 130.9 400.67 130.54 402.79 130.54C404.38 130.54 406.5 130.81 408.07 131.07C409.67 131.34 411.74 132.04 413.35 132.3C414.92 132.57 417.06 132.55 418.63 132.83C419.97 133.08 421.66 133.98 423.02 134.06C424.36 134.14 426.09 133.47 427.42 133.36C428.74 133.25 430.53 133.65 431.82 133.36C432.98 133.1 434.19 131.87 435.34 131.6C437.15 131.17 439.65 131.1 441.5 131.07C443.61 131.04 446.43 131.42 448.54 131.42C450.97 131.42 454.21 131.18 456.63 131.07" stroke="#151515"/>
<path d="M272.21 113.12C272.84 113.49 273.58 114.36 274.32 114.36C275.19 114.36 276.18 113.52 276.96 113.12C277.76 112.72 278.8 112.14 279.6 111.72C280.39 111.29 281.34 110.2 282.24 110.31C283.01 110.4 283.42 111.71 284 112.24C284.74 112.93 285.79 113.79 286.63 114.36C287.38 114.85 288.47 115.36 289.27 115.76C290.06 116.15 291.04 117 291.91 117C292.79 117 293.79 116.19 294.55 115.76C295.38 115.29 296.24 114 297.19 114C298.14 114 298.91 115.55 299.83 115.76C300.62 115.95 301.74 114.89 302.47 115.24C303.33 115.65 303.62 117.14 304.23 117.88C304.95 118.74 306.08 119.72 306.87 120.51C307.66 121.31 308.65 122.44 309.51 123.15C310.24 123.76 311.3 124.49 312.15 124.91C312.9 125.29 314.12 125.3 314.79 125.79C315.6 126.4 316.2 127.7 316.9 128.43C317.26 128.82 317.89 129.17 318.31 129.49" stroke="#e23a32"/>
<path d="M272.21 145.15C272.73 145.57 273.29 146.56 273.97 146.56C274.64 146.56 275.26 145.64 275.73 145.15C276.32 144.52 276.62 142.86 277.48 142.86C278.35 142.86 278.65 144.52 279.24 145.15C279.81 145.75 280.66 146.47 281.36 146.91C282.1 147.37 283.12 148.14 284 148.14C284.87 148.14 285.81 147.19 286.63 146.91C287.4 146.65 288.51 146.64 289.27 146.38C290.1 146.1 291.15 145.58 291.91 145.15C292.74 144.68 293.6 143.45 294.55 143.39C295.45 143.33 296.3 144.71 297.19 144.8C298.02 144.88 299 143.92 299.83 143.92C300.67 143.92 301.73 145.18 302.47 144.8C303.44 144.3 303.63 142.54 304.23 141.63C304.96 140.53 305.89 138.99 306.87 138.11C307.52 137.53 308.78 137.36 309.51 136.88C310.38 136.3 311.32 135.23 312.15 134.59C312.9 134.01 314.02 133.4 314.79 132.83C315.45 132.34 316.3 131.64 316.9 131.07C317.36 130.63 317.89 129.96 318.31 129.49" stroke="#e23a32"/>
<path d="M318.31 129.49C324.64 129.44 333.09 129.58 339.42 129.31C340.51 129.27 341.88 128.67 342.94 128.43C343.99 128.2 345.39 127.73 346.46 127.73C347.54 127.73 348.94 128.16 349.98 128.43C350.79 128.64 351.79 129.22 352.62 129.31C354.2 129.49 356.32 129.31 357.9 129.31" stroke="#e23a32"/>
<path d="M355.28 129.31C356.23 129.31 357.5 129.43 358.45 129.31C359.63 129.17 361.17 128.76 362.32 128.43C363.39 128.13 364.79 127.59 365.84 127.2C366.64 126.9 367.63 126.23 368.48 126.15C369.38 126.06 370.62 126.34 371.47 126.67C372.39 127.04 373.43 127.91 374.28 128.43C374.81 128.76 375.43 129.47 376.04 129.49C378.79 129.58 382.45 128.96 385.19 128.78C387.3 128.65 390.12 128.56 392.23 128.43C394.34 128.3 397.16 128.06 399.27 127.91C401.38 127.75 404.2 127.57 406.31 127.38C408.16 127.2 410.64 127.01 412.47 126.67C414.08 126.38 416.13 125.56 417.75 125.27C419.05 125.03 420.83 124.78 422.14 124.91C423.51 125.05 425.23 125.75 426.54 126.15C427.87 126.54 429.56 127.43 430.94 127.55C432.53 127.7 434.64 127.16 436.22 127.03C437.8 126.89 439.91 126.65 441.5 126.67C443.36 126.7 445.81 127.26 447.66 127.2C449.26 127.15 451.37 126.66 452.94 126.32C454.07 126.08 455.53 125.58 456.63 125.27" stroke="#e23a32"/>
<path d="M367.6 129.49C370.13 129.49 373.52 129.3 376.04 129.49C377.76 129.62 379.98 130.24 381.67 130.54C383.25 130.83 385.35 131.37 386.95 131.42C388.54 131.48 390.64 131.01 392.23 130.9C394.34 130.75 397.16 130.57 399.27 130.54C401.38 130.52 404.2 130.57 406.31 130.72C407.9 130.83 410.01 131.16 411.59 131.42C413.18 131.69 415.27 132.21 416.87 132.48C418.44 132.74 420.55 133.18 422.14 133.18C423.48 133.18 425.21 132.53 426.54 132.48C427.87 132.43 429.64 133.04 430.94 132.83C432.35 132.61 433.93 131.25 435.34 131.07C436.92 130.87 439.03 131.48 440.62 131.6C442.47 131.74 444.93 131.84 446.78 131.95C448.36 132.05 450.47 132.3 452.06 132.3C453.44 132.3 455.26 132.06 456.63 131.95" stroke="#e23a32"/>
<path d="M272.21 127.55C273.63 127.29 275.52 126.85 276.96 126.67C278.53 126.48 280.65 126.21 282.24 126.32C283.59 126.42 285.31 127.09 286.63 127.38C288.21 127.72 290.31 128.25 291.91 128.43C294.54 128.73 298.07 128.87 300.71 128.96C305.99 129.14 313.03 129.26 318.31 129.31C323.32 129.36 330.03 129.75 335.02 129.31C336.2 129.21 337.67 128.35 338.54 127.55C339.48 126.71 340.41 125.22 340.83 124.03C341.64 121.74 341.95 118.46 342.59 116.12C343.01 114.6 343.36 112.4 344.35 111.19C344.69 110.78 345.23 112.24 345.76 112.24C346.29 112.24 346.74 110.87 347.17 111.19C348 111.81 348.25 113.37 348.57 114.36C349.09 115.91 349.51 118.06 349.98 119.63C350.46 121.23 351.1 123.37 351.74 124.91C352.16 125.92 352.87 127.2 353.5 128.08C353.83 128.54 354.38 129.13 354.91 129.31C355.51 129.52 356.39 129.31 357.02 129.31" stroke="#2b59ad"/>
<path d="M272.21 129.84C274.42 130.16 277.36 130.73 279.6 130.9C282.23 131.1 285.76 131.13 288.39 131.07C291.04 131.02 294.55 130.69 297.19 130.54C300.36 130.37 304.58 130.18 307.75 130.02C310.92 129.86 315.14 129.65 318.31 129.49" stroke="#2b59ad"/>
<path d="M355.28 129.31C355.81 129.31 356.69 129.71 357.04 129.31C357.8 128.47 358.09 126.87 358.45 125.79C359.04 123.97 359.63 121.47 360.21 119.63C360.58 118.46 360.74 116.64 361.61 115.76C361.98 115.39 362.64 116.52 362.85 117C363.39 118.25 362.78 121.83 364.08 121.39C365.63 120.88 365.05 117.7 365.48 116.12C365.89 114.63 366.22 112.57 366.89 111.19C367.11 110.74 367.85 110.09 368.3 110.31C369.02 110.67 369.4 111.85 369.71 112.6C370.35 114.14 370.9 116.31 371.47 117.88C371.95 119.21 372.75 120.94 373.23 122.27C373.7 123.58 374.12 125.39 374.63 126.67C374.97 127.51 375.16 129.17 376.04 129.31C379.8 129.92 384.91 129.08 388.71 128.96C391.88 128.86 396.1 128.69 399.27 128.61C402.44 128.53 406.66 128.61 409.83 128.43C412.48 128.29 415.97 127.61 418.63 127.55C421.27 127.5 424.78 127.96 427.42 128.08C430.59 128.23 434.81 128.43 437.98 128.43C441.15 128.43 445.37 128.23 448.54 128.08C450.97 127.97 454.21 127.71 456.63 127.55" stroke="#2b59ad"/>
<path d="M367.6 129.49C370.13 129.49 373.53 129.17 376.04 129.49C377.29 129.65 378.99 130.22 379.91 131.07C381.05 132.11 381.9 134.08 382.55 135.47C383.39 137.26 384.13 139.79 384.84 141.63C385.45 143.22 385.64 145.82 386.95 146.91C387.59 147.44 388.54 145.78 389.06 145.15C389.87 144.18 390.62 142.65 391.35 141.63C391.94 140.81 392.46 138.87 393.46 138.99C394.63 139.13 395.08 141.2 395.75 142.16C396.56 143.31 396.99 145.92 398.39 146.03C399.57 146.12 399.81 143.64 400.15 142.51C400.77 140.45 401.05 137.56 401.56 135.47C401.84 134.29 401.93 132.46 402.79 131.6C403.56 130.83 405.22 130.72 406.31 130.72C407.91 130.72 410.03 131.21 411.59 131.6C413.21 132.01 415.2 133.25 416.87 133.36C418.48 133.47 420.53 132.25 422.14 132.3C423.78 132.36 425.79 133.62 427.42 133.71C428.77 133.79 430.53 133.22 431.82 132.83C433.18 132.42 434.82 131.33 436.22 131.07C438.3 130.69 441.15 130.64 443.26 130.72C445.39 130.8 448.17 131.6 450.3 131.6C452.22 131.6 454.73 130.98 456.63 130.72" stroke="#2b59ad"/>
<line x1="272.3" y1="129.3" x2="371.42" y2="129.3" stroke="#2b59ad"/>
</g>
<rect x="272.3" y="98.2" width="184.4" height="62.1" fill="none" stroke="#333" stroke-width="0.65"/>
<line x1="269.7" y1="160.32" x2="272.3" y2="160.32" stroke="#222" stroke-width="0.6"/>
<text transform="translate(268.2 162.32) scale(0.9 1)" font-size="6.04" text-anchor="end" fill="#1a1a1a" stroke="#1a1a1a" stroke-width="0.08">-6</text>
<line x1="269.7" y1="149.98" x2="272.3" y2="149.98" stroke="#222" stroke-width="0.6"/>
<text transform="translate(268.2 151.98) scale(0.9 1)" font-size="6.04" text-anchor="end" fill="#1a1a1a" stroke="#1a1a1a" stroke-width="0.08">-4</text>
<line x1="269.7" y1="139.64" x2="272.3" y2="139.64" stroke="#222" stroke-width="0.6"/>
<text transform="translate(268.2 141.64) scale(0.9 1)" font-size="6.04" text-anchor="end" fill="#1a1a1a" stroke="#1a1a1a" stroke-width="0.08">-2</text>
<line x1="269.7" y1="129.3" x2="272.3" y2="129.3" stroke="#222" stroke-width="0.6"/>
<text transform="translate(268.2 131.3) scale(0.9 1)" font-size="6.04" text-anchor="end" fill="#1a1a1a" stroke="#1a1a1a" stroke-width="0.08">0</text>
<line x1="269.7" y1="118.96" x2="272.3" y2="118.96" stroke="#222" stroke-width="0.6"/>
<text transform="translate(268.2 120.96) scale(0.9 1)" font-size="6.04" text-anchor="end" fill="#1a1a1a" stroke="#1a1a1a" stroke-width="0.08">2</text>
<line x1="269.7" y1="108.62" x2="272.3" y2="108.62" stroke="#222" stroke-width="0.6"/>
<text transform="translate(268.2 110.62) scale(0.9 1)" font-size="6.04" text-anchor="end" fill="#1a1a1a" stroke="#1a1a1a" stroke-width="0.08">4</text>
<line x1="269.7" y1="98.28" x2="272.3" y2="98.28" stroke="#222" stroke-width="0.6"/>
<text transform="translate(268.2 100.28) scale(0.9 1)" font-size="6.04" text-anchor="end" fill="#1a1a1a" stroke="#1a1a1a" stroke-width="0.08">6</text>
<line x1="270.8" y1="155.15" x2="272.3" y2="155.15" stroke="#222" stroke-width="0.6"/>
<line x1="270.8" y1="144.81" x2="272.3" y2="144.81" stroke="#222" stroke-width="0.6"/>
<line x1="270.8" y1="134.47" x2="272.3" y2="134.47" stroke="#222" stroke-width="0.6"/>
<line x1="270.8" y1="124.13" x2="272.3" y2="124.13" stroke="#222" stroke-width="0.6"/>
<line x1="270.8" y1="113.79" x2="272.3" y2="113.79" stroke="#222" stroke-width="0.6"/>
<line x1="270.8" y1="103.45" x2="272.3" y2="103.45" stroke="#222" stroke-width="0.6"/>
<line x1="272.3" y1="160.3" x2="272.3" y2="162.9" stroke="#222" stroke-width="0.6"/>
<line x1="295.35" y1="160.3" x2="295.35" y2="161.8" stroke="#222" stroke-width="0.6"/>
<line x1="318.4" y1="160.3" x2="318.4" y2="162.9" stroke="#222" stroke-width="0.6"/>
<line x1="341.45" y1="160.3" x2="341.45" y2="161.8" stroke="#222" stroke-width="0.6"/>
<line x1="364.5" y1="160.3" x2="364.5" y2="162.9" stroke="#222" stroke-width="0.6"/>
<line x1="387.55" y1="160.3" x2="387.55" y2="161.8" stroke="#222" stroke-width="0.6"/>
<line x1="410.6" y1="160.3" x2="410.6" y2="162.9" stroke="#222" stroke-width="0.6"/>
<line x1="433.65" y1="160.3" x2="433.65" y2="161.8" stroke="#222" stroke-width="0.6"/>
<line x1="456.7" y1="160.3" x2="456.7" y2="162.9" stroke="#222" stroke-width="0.6"/>
<text transform="translate(275.5 105.1) scale(0.9 1)" font-size="7.22" text-anchor="start" fill="#1a1a1a" stroke="#1a1a1a" stroke-width="0.08">7 GPa</text>
<line x1="422" y1="102.6" x2="436.9" y2="102.6" stroke="#777" stroke-width="1.1"/>
<text transform="translate(438.7 105) scale(0.9 1)" font-size="6.9" text-anchor="start" fill="#1a1a1a" stroke="#1a1a1a" stroke-width="0.08">Zn-s</text>
<line x1="422" y1="110.5" x2="436.9" y2="110.5" stroke="#e23a32" stroke-width="0.85"/>
<text transform="translate(438.7 112.9) scale(0.9 1)" font-size="6.9" text-anchor="start" fill="#1a1a1a" stroke="#1a1a1a" stroke-width="0.08">Se-p</text>
<line x1="422" y1="118.4" x2="436.9" y2="118.4" stroke="#2b59ad" stroke-width="0.85"/>
<text transform="translate(438.7 120.8) scale(0.9 1)" font-size="6.9" text-anchor="start" fill="#1a1a1a" stroke="#1a1a1a" stroke-width="0.08">V-d</text>
<text transform="translate(272.3 168.8) scale(0.9 1)" font-size="6.04" text-anchor="middle" fill="#1a1a1a" stroke="#1a1a1a" stroke-width="0.08">-4</text>
<text transform="translate(318.4 168.8) scale(0.9 1)" font-size="6.04" text-anchor="middle" fill="#1a1a1a" stroke="#1a1a1a" stroke-width="0.08">-2</text>
<text transform="translate(364.5 168.8) scale(0.9 1)" font-size="6.04" text-anchor="middle" fill="#1a1a1a" stroke="#1a1a1a" stroke-width="0.08">0</text>
<text transform="translate(410.6 168.8) scale(0.9 1)" font-size="6.04" text-anchor="middle" fill="#1a1a1a" stroke="#1a1a1a" stroke-width="0.08">2</text>
<text transform="translate(456.7 168.8) scale(0.9 1)" font-size="6.04" text-anchor="middle" fill="#1a1a1a" stroke="#1a1a1a" stroke-width="0.08">4</text>
<text transform="translate(364.5 178.9) scale(0.9 1)" font-size="7.22" text-anchor="middle" fill="#1a1a1a" stroke="#1a1a1a" stroke-width="0.08">Energy (eV)</text>
<text transform="translate(260.7 95.8) rotate(-90) scale(0.9 1)" font-size="7.11" text-anchor="middle" fill="#1a1a1a" stroke="#1a1a1a" stroke-width="0.08">Density of states (States/eV)</text>
<text x="231.7" y="16.9" font-size="21.8" fill="#222">(b)</text>
<text x="354.9" y="24.4" font-size="14.6" text-anchor="middle" fill="#222">6.25%</text>
</g>
<g id="panel-c">
<clipPath id="clip-c0"><rect x="498.9" y="31.3" width="184.4" height="62"/></clipPath>
<line x1="591.1" y1="31.3" x2="591.1" y2="93.3" stroke="#888" stroke-width="0.8" stroke-dasharray="1 1"/>
<g clip-path="url(#clip-c0)" fill="none" stroke-width="0.9" stroke-linejoin="round" stroke-linecap="round">
<path d="M498.68 61.96C501.05 61.91 504.22 61.81 506.6 61.78C509.24 61.76 512.76 61.76 515.39 61.78C518.03 61.81 521.55 61.89 524.19 61.96C527.78 62.05 532.57 62.21 536.16 62.31" stroke="#151515"/>
<path d="M498.68 62.84C501.05 62.95 504.22 63.12 506.6 63.19C509.24 63.28 512.75 63.4 515.39 63.37C518.04 63.34 521.55 63.13 524.19 63.02C527.78 62.86 532.57 62.65 536.16 62.49" stroke="#151515"/>
<path d="M575.56 62.31C577.67 62.21 580.49 62.14 582.6 61.96C583.66 61.87 585.05 61.43 586.12 61.43C587.18 61.43 588.57 61.93 589.63 61.96C591.75 62.03 594.56 61.69 596.67 61.78C598.27 61.85 600.39 62.15 601.95 62.49C603.04 62.73 604.42 63.35 605.47 63.72C606.53 64.09 607.9 64.71 608.99 64.95C610.29 65.24 612.06 65.48 613.39 65.48C614.46 65.48 615.89 65.28 616.91 64.95C618.03 64.59 619.29 63.5 620.43 63.19C621.71 62.85 623.51 62.78 624.83 62.84C626.95 62.94 629.74 63.67 631.87 63.72C633.98 63.77 636.79 63.35 638.9 63.19C641.02 63.03 643.83 62.66 645.94 62.66C649.11 62.66 653.33 63.03 656.5 63.19C659.67 63.35 663.89 63.78 667.06 63.72C669.71 63.67 673.21 63.01 675.86 62.84C678.07 62.7 681.03 62.72 683.25 62.66" stroke="#151515"/>
<path d="M604.24 62.31C607.25 62.26 611.26 62.22 614.27 62.14C616.91 62.06 620.43 61.89 623.07 61.78C625.71 61.68 629.23 61.55 631.87 61.43C633.98 61.34 636.8 61.26 638.9 61.08C640.5 60.94 642.6 60.59 644.18 60.38C645.77 60.17 647.86 59.67 649.46 59.67C650.54 59.67 651.92 60.21 652.98 60.38C654.56 60.63 656.67 60.94 658.26 61.08C660.37 61.26 663.19 61.39 665.3 61.43C667.94 61.49 671.46 61.48 674.1 61.43C676.84 61.38 680.5 61.19 683.25 61.08" stroke="#151515"/>
<path d="M498.68 55.27C499.21 54.75 499.93 54.06 500.44 53.51C501.15 52.74 501.91 51.53 502.73 50.88C503.26 50.45 504.15 50 504.84 50C505.43 50 506.12 51.23 506.6 50.88C507.54 50.17 507.74 48.37 508.36 47.36C508.8 46.62 509.25 45.07 510.12 45.07C510.92 45.07 511.26 46.6 511.52 47.36C512.06 48.89 512.13 51.13 512.76 52.63C513.21 53.72 513.99 55.3 515.04 55.8C515.68 56.11 516.45 54.69 517.15 54.75C518.05 54.81 518.97 55.8 519.79 56.15C520.56 56.49 521.61 57.17 522.43 57.03C523.37 56.88 524.52 56.05 525.07 55.27C525.9 54.12 526.25 52.17 526.83 50.88C527.2 50.06 527.38 48.49 528.24 48.24C528.92 48.04 529.55 49.34 529.82 50C530.46 51.5 530.7 53.72 531.23 55.27C531.66 56.53 532.36 58.16 532.99 59.32C533.42 60.12 534.11 61.14 534.75 61.78C535.08 62.12 535.74 62.28 536.16 62.49" stroke="#e23a32"/>
<path d="M498.68 70.23C499.47 70.34 500.56 70.33 501.32 70.58C502.17 70.87 503.21 71.49 503.96 71.99C504.8 72.55 505.6 73.92 506.6 74.1C507.32 74.24 507.98 72.93 508.71 72.87C509.44 72.81 510.44 73.27 511 73.75C511.71 74.37 512.2 75.62 512.76 76.39C513.26 77.09 513.67 78.89 514.51 78.68C515.57 78.41 515.71 76.44 516.27 75.51C516.77 74.7 517.51 73.66 518.03 72.87C518.56 72.08 518.94 70.66 519.79 70.23C520.32 69.97 521.08 70.76 521.55 71.11C522.15 71.56 522.62 73.15 523.31 72.87C524.54 72.38 524.71 69.81 525.95 69.35C526.73 69.07 527.5 70.51 528.06 71.11C528.83 71.94 529.59 73.27 530.35 74.1C530.81 74.6 531.53 75.86 532.11 75.51C533.12 74.9 533.49 73.11 533.87 71.99C534.39 70.45 534.72 68.29 535.1 66.71C535.41 65.44 535.84 63.76 536.16 62.49" stroke="#e23a32"/>
<path d="M536.16 62.49C543.13 62.49 552.42 62.57 559.39 62.49C561.5 62.46 564.31 62.23 566.42 62.14C568.01 62.07 570.12 62.09 571.7 61.96C572.77 61.88 574.18 61.64 575.22 61.43C576.03 61.27 577.04 60.67 577.86 60.73C578.71 60.79 579.71 61.47 580.5 61.78" stroke="#e23a32"/>
<path d="M581.72 61.43C582.51 61.22 583.54 60.67 584.36 60.73C585.21 60.79 586.16 61.62 587 61.78C587.77 61.94 588.84 61.78 589.63 61.78C590.69 61.78 592.13 62.05 593.15 61.78C594.05 61.56 595.04 60.74 595.79 60.2C596.53 59.68 597.23 58.56 598.08 58.27C598.6 58.08 599.41 58.45 599.84 58.79C600.52 59.33 600.96 60.5 601.6 61.08C602.14 61.57 602.98 62.27 603.71 62.31C606.35 62.48 609.87 61.97 612.51 61.78C615.15 61.6 618.66 61.21 621.31 61.08C623.94 60.95 627.47 60.85 630.11 60.91C632.22 60.95 635.03 61.46 637.14 61.43C639.27 61.41 642.07 60.95 644.18 60.73C646.03 60.53 648.48 60.03 650.34 60.03C651.68 60.03 653.41 60.57 654.74 60.73C656.85 60.99 659.66 61.38 661.78 61.43C663.89 61.49 666.71 61.16 668.82 61.08C670.93 61 673.75 61.06 675.86 60.91C678.08 60.74 681.03 60.29 683.25 60.03" stroke="#e23a32"/>
<path d="M591.39 62.49C595.25 62.49 600.39 62.35 604.24 62.49C606.2 62.56 608.8 62.96 610.75 63.19C612.86 63.44 615.66 63.99 617.79 64.07C619.9 64.15 622.72 63.63 624.83 63.72C626.43 63.79 628.51 64.41 630.11 64.6C631.68 64.78 633.8 65.03 635.39 64.95C636.99 64.87 639.06 64.13 640.66 64.07C642.25 64.02 644.36 64.73 645.94 64.6C647.58 64.46 649.59 63.33 651.22 63.19C652.81 63.06 654.92 63.51 656.5 63.72C658.09 63.93 660.18 64.55 661.78 64.6C663.37 64.65 665.48 64.23 667.06 64.07C668.64 63.91 670.75 63.68 672.34 63.54C673.92 63.41 676.03 63.17 677.62 63.19C679.31 63.22 681.56 63.56 683.25 63.72" stroke="#e23a32"/>
<path d="M498.68 61.43C499.73 61.17 501.15 60.87 502.2 60.55C503.27 60.23 504.69 59.76 505.72 59.32C506.54 58.97 507.56 58.33 508.36 57.91C508.88 57.64 509.54 56.89 510.12 57.03C510.84 57.22 511.27 58.36 511.88 58.79C512.6 59.32 513.64 60 514.51 60.2C515.54 60.44 516.99 60.07 518.03 60.2C519.11 60.34 520.47 61.03 521.55 61.08C522.62 61.13 524.05 60.85 525.07 60.55C525.91 60.31 526.86 59.49 527.71 59.32C528.24 59.22 529.01 59.4 529.47 59.67C530.11 60.06 530.63 60.99 531.23 61.43C531.7 61.79 532.4 62.3 532.99 62.31C541.43 62.56 552.73 63.06 561.14 62.31C562.09 62.23 562.34 60.44 562.9 59.67C563.5 58.86 564.25 57.7 565.02 57.03C565.6 56.52 566.63 56.19 567.3 55.8C568 55.4 569.05 55 569.59 54.39C570.41 53.48 571.09 51.94 571.7 50.88C572.25 49.93 572.53 48.27 573.46 47.71C573.99 47.39 574.67 49.04 575.22 48.76C576.11 48.32 575.99 45.84 576.98 45.95C578.02 46.06 578.09 48.12 578.39 49.12C578.94 50.93 579.26 53.46 579.8 55.27C580.16 56.53 580.43 58.43 581.38 59.32C581.79 59.71 582.24 58.34 582.61 57.91" stroke="#2b59ad"/>
<path d="M498.68 62.66C500 62.82 501.75 63.12 503.08 63.19C504.66 63.28 506.78 63.05 508.36 63.19C509.7 63.31 511.43 63.87 512.76 64.07C513.8 64.24 515.22 64.5 516.27 64.42C517.36 64.34 518.73 63.76 519.79 63.54C521.1 63.28 522.86 62.96 524.19 62.84C525.77 62.7 527.89 62.73 529.47 62.66C530.53 62.62 531.94 62.54 532.99 62.49" stroke="#2b59ad"/>
<path d="M582.6 57.91C583.02 56.33 583.55 54.21 584 52.63C584.39 51.3 584.58 49.34 585.41 48.24C585.68 47.87 586.49 48.69 586.64 49.12C587.27 50.89 587.45 53.44 587.88 55.27C588.24 56.87 588.4 59.17 589.28 60.55C589.55 60.97 590.47 60.12 590.69 59.67C591.3 58.45 591.39 56.54 591.92 55.27C592.29 54.4 593.15 53.43 593.68 52.63C594.21 51.84 594.97 50.82 595.44 50C596.03 48.97 596.75 47.57 597.2 46.48C597.7 45.29 597.54 43.14 598.61 42.43C599.26 42 599.67 43.96 599.84 44.72C600.47 47.58 600.77 51.5 601.25 54.39C601.56 56.25 601.81 58.79 602.48 60.55C602.74 61.25 603.5 62.2 604.24 62.31C606.69 62.7 610.03 62.18 612.51 62.14C615.68 62.08 619.9 62.01 623.07 61.96C626.76 61.9 631.69 61.94 635.39 61.78C638.03 61.67 641.55 61.31 644.18 61.08C645.77 60.94 647.87 60.55 649.46 60.55C651.05 60.55 653.16 60.94 654.74 61.08C657.38 61.31 660.89 61.66 663.54 61.78C666.7 61.93 670.93 61.96 674.1 61.96C676.84 61.96 680.5 61.84 683.25 61.78" stroke="#2b59ad"/>
<path d="M591.39 62.49C595.25 62.49 600.45 61.81 604.24 62.49C605.45 62.7 606.32 64.48 607.23 65.3C608.01 66.01 609.19 66.79 609.87 67.59C610.69 68.55 611.56 70 612.16 71.11C612.78 72.28 612.91 74.3 613.92 75.16C614.39 75.56 615.22 74.51 615.68 74.1C616.29 73.55 616.85 72.57 617.44 71.99C618.13 71.3 618.97 70.16 619.9 69.88C620.59 69.68 621.54 70.28 622.19 70.58C622.92 70.92 623.85 71.49 624.48 71.99C625.18 72.55 626 73.42 626.59 74.1C627.27 74.9 627.74 76.48 628.7 76.92C629.26 77.17 629.95 76.21 630.46 75.86C631.17 75.37 632.24 74.81 632.75 74.1C633.49 73.07 634.05 71.42 634.51 70.23C635 68.94 635.23 67.04 635.91 65.83C636.32 65.12 637.21 64.16 638.02 64.07C638.89 63.98 639.79 65.3 640.66 65.3C641.54 65.3 642.47 63.81 643.3 64.07C644.21 64.36 644.13 66.53 645.06 66.71C646 66.9 646.85 65.37 647.7 64.95C648.71 64.46 650.11 63.86 651.22 63.72C652.27 63.59 653.73 63.77 654.74 64.07C655.87 64.41 657.22 65.28 658.26 65.83C659.22 66.34 660.47 67.08 661.43 67.59C661.95 67.87 662.65 68.72 663.19 68.47C664.11 68.05 664.52 66.48 665.3 65.83C665.83 65.39 666.74 64.8 667.41 64.95C668.14 65.12 668.44 66.87 669.17 66.71C670.19 66.49 670.61 64.68 671.46 64.07C672.14 63.59 673.28 63.34 674.1 63.19C675.4 62.96 677.17 62.84 678.5 62.84C679.93 62.84 681.82 63.09 683.25 63.19" stroke="#2b59ad"/>
<line x1="498.9" y1="62" x2="598.01" y2="62" stroke="#2b59ad"/>
</g>
<rect x="498.9" y="31.3" width="184.4" height="62" fill="none" stroke="#333" stroke-width="0.65"/>
<line x1="496.3" y1="92.9" x2="498.9" y2="92.9" stroke="#222" stroke-width="0.6"/>
<text transform="translate(494.8 94.9) scale(0.9 1)" font-size="6.04" text-anchor="end" fill="#1a1a1a" stroke="#1a1a1a" stroke-width="0.08">-6</text>
<line x1="496.3" y1="82.6" x2="498.9" y2="82.6" stroke="#222" stroke-width="0.6"/>
<text transform="translate(494.8 84.6) scale(0.9 1)" font-size="6.04" text-anchor="end" fill="#1a1a1a" stroke="#1a1a1a" stroke-width="0.08">-4</text>
<line x1="496.3" y1="72.3" x2="498.9" y2="72.3" stroke="#222" stroke-width="0.6"/>
<text transform="translate(494.8 74.3) scale(0.9 1)" font-size="6.04" text-anchor="end" fill="#1a1a1a" stroke="#1a1a1a" stroke-width="0.08">-2</text>
<line x1="496.3" y1="62" x2="498.9" y2="62" stroke="#222" stroke-width="0.6"/>
<text transform="translate(494.8 64) scale(0.9 1)" font-size="6.04" text-anchor="end" fill="#1a1a1a" stroke="#1a1a1a" stroke-width="0.08">0</text>
<line x1="496.3" y1="51.7" x2="498.9" y2="51.7" stroke="#222" stroke-width="0.6"/>
<text transform="translate(494.8 53.7) scale(0.9 1)" font-size="6.04" text-anchor="end" fill="#1a1a1a" stroke="#1a1a1a" stroke-width="0.08">2</text>
<line x1="496.3" y1="41.4" x2="498.9" y2="41.4" stroke="#222" stroke-width="0.6"/>
<text transform="translate(494.8 43.4) scale(0.9 1)" font-size="6.04" text-anchor="end" fill="#1a1a1a" stroke="#1a1a1a" stroke-width="0.08">4</text>
<line x1="496.3" y1="31.1" x2="498.9" y2="31.1" stroke="#222" stroke-width="0.6"/>
<text transform="translate(494.8 33.1) scale(0.9 1)" font-size="6.04" text-anchor="end" fill="#1a1a1a" stroke="#1a1a1a" stroke-width="0.08">6</text>
<line x1="497.4" y1="87.75" x2="498.9" y2="87.75" stroke="#222" stroke-width="0.6"/>
<line x1="497.4" y1="77.45" x2="498.9" y2="77.45" stroke="#222" stroke-width="0.6"/>
<line x1="497.4" y1="67.15" x2="498.9" y2="67.15" stroke="#222" stroke-width="0.6"/>
<line x1="497.4" y1="56.85" x2="498.9" y2="56.85" stroke="#222" stroke-width="0.6"/>
<line x1="497.4" y1="46.55" x2="498.9" y2="46.55" stroke="#222" stroke-width="0.6"/>
<line x1="497.4" y1="36.25" x2="498.9" y2="36.25" stroke="#222" stroke-width="0.6"/>
<line x1="498.9" y1="93.3" x2="498.9" y2="95.9" stroke="#222" stroke-width="0.6"/>
<line x1="521.95" y1="93.3" x2="521.95" y2="94.8" stroke="#222" stroke-width="0.6"/>
<line x1="545" y1="93.3" x2="545" y2="95.9" stroke="#222" stroke-width="0.6"/>
<line x1="568.05" y1="93.3" x2="568.05" y2="94.8" stroke="#222" stroke-width="0.6"/>
<line x1="591.1" y1="93.3" x2="591.1" y2="95.9" stroke="#222" stroke-width="0.6"/>
<line x1="614.15" y1="93.3" x2="614.15" y2="94.8" stroke="#222" stroke-width="0.6"/>
<line x1="637.2" y1="93.3" x2="637.2" y2="95.9" stroke="#222" stroke-width="0.6"/>
<line x1="660.25" y1="93.3" x2="660.25" y2="94.8" stroke="#222" stroke-width="0.6"/>
<line x1="683.3" y1="93.3" x2="683.3" y2="95.9" stroke="#222" stroke-width="0.6"/>
<text transform="translate(501.9 38.2) scale(0.9 1)" font-size="7.22" text-anchor="start" fill="#1a1a1a" stroke="#1a1a1a" stroke-width="0.08">0 GPa</text>
<line x1="645.4" y1="35.7" x2="660.3" y2="35.7" stroke="#777" stroke-width="1.1"/>
<text transform="translate(662.1 38.1) scale(0.9 1)" font-size="6.9" text-anchor="start" fill="#1a1a1a" stroke="#1a1a1a" stroke-width="0.08">Zn-s</text>
<line x1="645.4" y1="43.6" x2="660.3" y2="43.6" stroke="#e23a32" stroke-width="0.85"/>
<text transform="translate(662.1 46) scale(0.9 1)" font-size="6.9" text-anchor="start" fill="#1a1a1a" stroke="#1a1a1a" stroke-width="0.08">Se-p</text>
<line x1="645.4" y1="51.5" x2="660.3" y2="51.5" stroke="#2b59ad" stroke-width="0.85"/>
<text transform="translate(662.1 53.9) scale(0.9 1)" font-size="6.9" text-anchor="start" fill="#1a1a1a" stroke="#1a1a1a" stroke-width="0.08">V-d</text>
<clipPath id="clip-c1"><rect x="498.9" y="98.4" width="184.4" height="61.8"/></clipPath>
<line x1="591.1" y1="98.4" x2="591.1" y2="160.2" stroke="#888" stroke-width="0.8" stroke-dasharray="1 1"/>
<g clip-path="url(#clip-c1)" fill="none" stroke-width="0.9" stroke-linejoin="round" stroke-linecap="round">
<path d="M498.68 128.96C501.05 128.91 504.22 128.81 506.6 128.78C509.24 128.76 512.76 128.76 515.39 128.78C518.03 128.81 521.55 128.89 524.19 128.96C527.36 129.05 531.58 129.21 534.75 129.31" stroke="#151515"/>
<path d="M498.68 129.84C501.05 129.95 504.22 130.12 506.6 130.19C509.24 130.28 512.75 130.4 515.39 130.37C518.04 130.34 521.55 130.14 524.19 130.02C527.36 129.87 531.58 129.65 534.75 129.49" stroke="#151515"/>
<path d="M575.56 129.31C577.67 129.21 580.49 129.14 582.6 128.96C583.66 128.87 585.05 128.43 586.12 128.43C587.18 128.43 588.57 128.91 589.63 128.96C591.74 129.07 594.56 128.86 596.67 128.96C597.74 129.01 599.14 129.32 600.19 129.49C601.51 129.69 603.29 129.9 604.59 130.19C605.67 130.43 607.06 130.93 608.11 131.25C609.17 131.57 610.53 132.25 611.63 132.3C612.71 132.36 614.12 131.91 615.15 131.6C616.24 131.27 617.55 130.4 618.67 130.19C620.49 129.86 622.98 129.84 624.83 129.84C626.94 129.84 629.75 130.19 631.87 130.19C633.98 130.19 636.79 129.9 638.9 129.84C642.07 129.75 646.3 129.61 649.46 129.66C652.63 129.72 656.85 130.11 660.02 130.19C663.19 130.27 667.41 130.26 670.58 130.19C674.38 130.11 679.45 129.82 683.25 129.66" stroke="#151515"/>
<path d="M604.77 129.31C608.15 129.21 612.65 129.11 616.03 128.96C618.67 128.85 622.19 128.57 624.83 128.43C627.47 128.3 630.99 128.2 633.63 128.08C635.74 127.99 638.56 127.88 640.66 127.73C642.25 127.62 644.36 127.31 645.94 127.2C647.52 127.1 649.64 126.97 651.22 127.03C652.81 127.08 654.92 127.42 656.5 127.55C658.61 127.73 661.42 128.01 663.54 128.08C666.18 128.17 669.7 128.13 672.34 128.08C675.61 128.02 679.97 127.83 683.25 127.73" stroke="#151515"/>
<path d="M498.68 118.76C499.21 118.49 499.85 117.79 500.44 117.88C501.11 117.98 501.54 119.43 502.2 119.28C503.15 119.08 503.9 117.77 504.48 117C505.23 116.01 505.5 114.03 506.6 113.48C507.2 113.17 507.73 114.62 508 115.24C508.69 116.76 509.03 119.01 509.76 120.51C510.21 121.43 510.92 122.8 511.88 123.15C512.66 123.44 513.68 122.21 514.51 122.27C515.29 122.33 516.07 123.24 516.8 123.51C517.51 123.77 518.51 124.03 519.27 124.03C520.13 124.03 521.46 124.1 522.08 123.51C523 122.62 523.31 120.8 523.84 119.63C524.37 118.47 524.62 116.58 525.6 115.76C526.03 115.4 526.77 116.49 527.01 117C527.7 118.5 528.05 120.71 528.59 122.27C529.06 123.62 529.68 125.42 530.35 126.67C530.74 127.4 531.51 128.22 532.11 128.78C532.42 129.08 532.97 129.28 533.34 129.49" stroke="#e23a32"/>
<path d="M498.68 137.23C499.36 137.5 500.39 137.65 500.97 138.11C501.76 138.74 502.08 140.54 503.08 140.75C503.88 140.92 504.48 139.42 505.19 138.99C505.82 138.61 506.79 137.85 507.48 138.11C508.45 138.49 509.13 139.92 509.76 140.75C510.34 141.51 510.6 143.18 511.52 143.39C512.33 143.57 513.12 142.27 513.63 141.63C514.4 140.67 515.02 139.1 515.75 138.11C516.19 137.51 516.78 136.53 517.51 136.35C518.08 136.21 518.77 136.91 519.27 137.23C519.83 137.6 520.39 138.86 521.03 138.64C522.05 138.28 522.42 136.44 523.31 135.82C523.88 135.43 525.04 135.07 525.6 135.47C526.6 136.19 527.02 137.98 527.71 138.99C528.29 139.83 528.83 141.41 529.82 141.63C530.55 141.8 531.25 140.54 531.58 139.87C532.33 138.38 532.78 136.16 533.34 134.59C533.73 133.52 534.29 132.11 534.75 131.07C534.97 130.58 535.37 129.96 535.63 129.49" stroke="#e23a32"/>
<path d="M535.63 129.49C542.76 129.49 552.26 129.53 559.39 129.49C561.5 129.48 564.32 129.43 566.42 129.31C568.01 129.22 570.12 128.99 571.7 128.78C573.03 128.62 574.77 128.08 576.1 128.08C577.18 128.08 578.57 128.57 579.62 128.78" stroke="#e23a32"/>
<path d="M579.96 128.78C581.01 128.57 582.4 128.05 583.48 128.08C584.56 128.11 585.91 128.86 587 128.96C588.31 129.08 590.08 128.93 591.39 128.78C592.46 128.67 593.91 128.48 594.91 128.08C595.8 127.73 596.73 126.79 597.55 126.32C598.21 125.95 599.09 125.19 599.84 125.27C600.44 125.32 600.86 126.22 601.25 126.67C601.76 127.28 602.2 128.31 602.83 128.78C603.31 129.15 604.17 129.3 604.77 129.31C607.09 129.36 610.19 129.08 612.51 128.96C615.15 128.82 618.67 128.51 621.31 128.43C623.95 128.35 627.47 128.43 630.11 128.43C632.22 128.43 635.03 128.51 637.14 128.43C639.26 128.35 642.07 128.06 644.18 127.91C646.3 127.75 649.1 127.38 651.22 127.38C652.81 127.38 654.92 127.77 656.5 127.91C658.61 128.09 661.42 128.41 663.54 128.43C665.65 128.46 668.47 128.19 670.58 128.08C672.69 127.98 675.51 127.88 677.62 127.73C679.31 127.61 681.56 127.36 683.25 127.2" stroke="#e23a32"/>
<path d="M591.39 129.49C595.41 129.49 600.76 129.34 604.77 129.49C606.57 129.55 608.95 130.02 610.75 130.19C612.86 130.39 615.67 130.72 617.79 130.72C619.91 130.72 622.71 130.14 624.83 130.19C626.69 130.24 629.12 130.98 630.99 131.07C632.31 131.14 634.07 130.84 635.39 130.72C636.97 130.58 639.07 130.17 640.66 130.19C642.26 130.22 644.35 130.92 645.94 130.9C647.55 130.87 649.62 130.07 651.22 130.02C652.81 129.96 654.92 130.33 656.5 130.54C658.09 130.76 660.18 131.34 661.78 131.42C663.37 131.5 665.48 131.2 667.06 131.07C668.64 130.94 670.75 130.68 672.34 130.54C673.92 130.41 676.03 130.19 677.62 130.19C679.31 130.19 681.56 130.44 683.25 130.54" stroke="#e23a32"/>
<path d="M498.68 127.55C499.73 127.39 501.2 127.4 502.2 127.03C503.09 126.69 504.02 125.76 504.84 125.27C505.34 124.96 506.01 124.3 506.6 124.39C507.26 124.49 507.78 125.45 508.36 125.79C509.11 126.24 510.14 126.83 511 127.03C512.03 127.26 513.46 127.08 514.51 127.2C515.84 127.35 517.59 127.76 518.91 127.91C519.96 128.02 521.41 128.34 522.43 128.08C523.35 127.84 524.17 126.61 525.07 126.32C525.59 126.16 526.37 126.4 526.83 126.67C527.47 127.06 527.99 127.99 528.59 128.43C529.06 128.79 529.76 129.3 530.35 129.31C539.32 129.56 551.31 129.96 560.27 129.31C561.13 129.25 561.5 127.71 562.02 127.03C562.71 126.13 563.5 124.82 564.31 124.03C564.84 123.53 565.75 123.08 566.42 122.8C567.03 122.55 568.03 122.69 568.54 122.27C569.27 121.67 569.82 120.46 570.3 119.63C570.88 118.61 571.37 117.07 572.05 116.12C572.35 115.71 572.99 115.08 573.46 115.24C574.07 115.44 574.11 117.27 574.69 117C575.59 116.58 575.16 114.3 576.1 114C576.83 113.78 577.22 115.41 577.51 116.12C578.13 117.65 578.61 119.81 579.09 121.39C579.5 122.72 579.64 124.71 580.5 125.79C580.81 126.18 581.49 125.18 581.91 124.91" stroke="#2b59ad"/>
<path d="M498.68 129.66C500.53 129.82 502.99 130.01 504.84 130.19C506.16 130.32 507.92 130.54 509.24 130.72C510.29 130.86 511.69 131.25 512.76 131.25C513.82 131.25 515.22 130.86 516.27 130.72C517.59 130.54 519.35 130.31 520.67 130.19C522.25 130.05 524.37 129.92 525.95 129.84C527.53 129.76 529.65 129.72 531.23 129.66" stroke="#2b59ad"/>
<path d="M581.54 124.91C581.96 123.59 582.51 121.83 582.95 120.51C583.35 119.3 583.58 117.5 584.36 116.47C584.6 116.15 585.43 116.63 585.59 117C586.22 118.49 586.43 120.7 586.82 122.27C587.22 123.86 587.39 126.14 588.23 127.55C588.46 127.94 589.39 127.41 589.63 127.03C590.3 125.98 590.5 124.27 591.04 123.15C591.46 122.3 592.21 121.26 592.8 120.51C593.27 119.93 594.03 119.28 594.56 118.76C595.09 118.23 595.94 117.64 596.32 117C596.91 116.02 597.29 114.52 597.73 113.48C598.13 112.52 598.15 110.64 599.14 110.31C599.88 110.06 600.2 111.84 600.37 112.6C600.95 115.2 601.14 118.77 601.6 121.39C601.93 123.26 602.3 125.79 603.01 127.55C603.29 128.25 604.03 129.21 604.77 129.31C607.59 129.71 611.42 129.19 614.27 129.14C617.44 129.08 621.66 129.07 624.83 128.96C628 128.86 632.22 128.65 635.39 128.43C637.5 128.28 640.31 127.91 642.42 127.73C644.53 127.54 647.34 127.2 649.46 127.2C651.58 127.2 654.39 127.56 656.5 127.73C659.14 127.93 662.65 128.33 665.3 128.43C667.94 128.54 671.46 128.43 674.1 128.43C676.84 128.43 680.5 128.43 683.25 128.43" stroke="#2b59ad"/>
<path d="M591.39 129.49C595.41 129.49 600.8 128.87 604.77 129.49C605.8 129.65 606.49 131.21 607.23 131.95C608.02 132.74 609.28 133.64 609.87 134.59C610.62 135.8 611.05 137.69 611.63 138.99C612.11 140.07 612.48 141.76 613.39 142.51C613.89 142.92 614.96 142.51 615.5 142.16C616.25 141.67 616.84 140.54 617.44 139.87C618.06 139.17 618.76 138.08 619.55 137.58C620.24 137.15 621.37 136.88 622.19 136.88C623.01 136.88 624.08 137.25 624.83 137.58C625.52 137.89 626.49 138.38 626.94 138.99C627.69 140.02 628.07 141.75 628.7 142.86C629.18 143.72 629.66 145.6 630.63 145.5C631.64 145.4 631.84 143.45 632.22 142.51C632.84 140.96 633.46 138.82 633.98 137.23C634.41 135.91 634.78 134.08 635.39 132.83C635.75 132.09 636.41 131.09 637.14 130.72C638.1 130.24 639.6 130.14 640.66 130.19C641.75 130.25 643.16 130.69 644.18 131.07C644.87 131.33 645.56 132.3 646.3 132.3C647.07 132.3 647.85 131.34 648.58 131.07C649.61 130.7 651.01 130.24 652.1 130.19C653.43 130.13 655.2 130.46 656.5 130.72C657.84 130.99 659.65 131.39 660.9 131.95C661.69 132.31 662.62 133.06 663.19 133.71C663.8 134.41 663.85 136.46 664.77 136.35C665.76 136.24 665.54 134.12 666.18 133.36C666.8 132.64 667.89 131.81 668.82 131.6C669.85 131.36 671.28 132.08 672.34 131.95C673.45 131.81 674.77 130.99 675.86 130.72C676.89 130.46 678.31 130.27 679.38 130.19C680.53 130.11 682.09 130.19 683.25 130.19" stroke="#2b59ad"/>
<line x1="498.9" y1="129.2" x2="598.01" y2="129.2" stroke="#2b59ad"/>
</g>
<rect x="498.9" y="98.4" width="184.4" height="61.8" fill="none" stroke="#333" stroke-width="0.65"/>
<line x1="496.3" y1="160.1" x2="498.9" y2="160.1" stroke="#222" stroke-width="0.6"/>
<text transform="translate(494.8 162.1) scale(0.9 1)" font-size="6.04" text-anchor="end" fill="#1a1a1a" stroke="#1a1a1a" stroke-width="0.08">-6</text>
<line x1="496.3" y1="149.8" x2="498.9" y2="149.8" stroke="#222" stroke-width="0.6"/>
<text transform="translate(494.8 151.8) scale(0.9 1)" font-size="6.04" text-anchor="end" fill="#1a1a1a" stroke="#1a1a1a" stroke-width="0.08">-4</text>
<line x1="496.3" y1="139.5" x2="498.9" y2="139.5" stroke="#222" stroke-width="0.6"/>
<text transform="translate(494.8 141.5) scale(0.9 1)" font-size="6.04" text-anchor="end" fill="#1a1a1a" stroke="#1a1a1a" stroke-width="0.08">-2</text>
<line x1="496.3" y1="129.2" x2="498.9" y2="129.2" stroke="#222" stroke-width="0.6"/>
<text transform="translate(494.8 131.2) scale(0.9 1)" font-size="6.04" text-anchor="end" fill="#1a1a1a" stroke="#1a1a1a" stroke-width="0.08">0</text>
<line x1="496.3" y1="118.9" x2="498.9" y2="118.9" stroke="#222" stroke-width="0.6"/>
<text transform="translate(494.8 120.9) scale(0.9 1)" font-size="6.04" text-anchor="end" fill="#1a1a1a" stroke="#1a1a1a" stroke-width="0.08">2</text>
<line x1="496.3" y1="108.6" x2="498.9" y2="108.6" stroke="#222" stroke-width="0.6"/>
<text transform="translate(494.8 110.6) scale(0.9 1)" font-size="6.04" text-anchor="end" fill="#1a1a1a" stroke="#1a1a1a" stroke-width="0.08">4</text>
<line x1="496.3" y1="98.3" x2="498.9" y2="98.3" stroke="#222" stroke-width="0.6"/>
<text transform="translate(494.8 100.3) scale(0.9 1)" font-size="6.04" text-anchor="end" fill="#1a1a1a" stroke="#1a1a1a" stroke-width="0.08">6</text>
<line x1="497.4" y1="154.95" x2="498.9" y2="154.95" stroke="#222" stroke-width="0.6"/>
<line x1="497.4" y1="144.65" x2="498.9" y2="144.65" stroke="#222" stroke-width="0.6"/>
<line x1="497.4" y1="134.35" x2="498.9" y2="134.35" stroke="#222" stroke-width="0.6"/>
<line x1="497.4" y1="124.05" x2="498.9" y2="124.05" stroke="#222" stroke-width="0.6"/>
<line x1="497.4" y1="113.75" x2="498.9" y2="113.75" stroke="#222" stroke-width="0.6"/>
<line x1="497.4" y1="103.45" x2="498.9" y2="103.45" stroke="#222" stroke-width="0.6"/>
<line x1="498.9" y1="160.2" x2="498.9" y2="162.8" stroke="#222" stroke-width="0.6"/>
<line x1="521.95" y1="160.2" x2="521.95" y2="161.7" stroke="#222" stroke-width="0.6"/>
<line x1="545" y1="160.2" x2="545" y2="162.8" stroke="#222" stroke-width="0.6"/>
<line x1="568.05" y1="160.2" x2="568.05" y2="161.7" stroke="#222" stroke-width="0.6"/>
<line x1="591.1" y1="160.2" x2="591.1" y2="162.8" stroke="#222" stroke-width="0.6"/>
<line x1="614.15" y1="160.2" x2="614.15" y2="161.7" stroke="#222" stroke-width="0.6"/>
<line x1="637.2" y1="160.2" x2="637.2" y2="162.8" stroke="#222" stroke-width="0.6"/>
<line x1="660.25" y1="160.2" x2="660.25" y2="161.7" stroke="#222" stroke-width="0.6"/>
<line x1="683.3" y1="160.2" x2="683.3" y2="162.8" stroke="#222" stroke-width="0.6"/>
<text transform="translate(499.6 105.3) scale(0.9 1)" font-size="7.22" text-anchor="start" fill="#1a1a1a" stroke="#1a1a1a" stroke-width="0.08">4 GPa</text>
<line x1="646.6" y1="102.8" x2="661.5" y2="102.8" stroke="#777" stroke-width="1.1"/>
<text transform="translate(663.3 105.2) scale(0.9 1)" font-size="6.9" text-anchor="start" fill="#1a1a1a" stroke="#1a1a1a" stroke-width="0.08">Zn-s</text>
<line x1="646.6" y1="110.7" x2="661.5" y2="110.7" stroke="#e23a32" stroke-width="0.85"/>
<text transform="translate(663.3 113.1) scale(0.9 1)" font-size="6.9" text-anchor="start" fill="#1a1a1a" stroke="#1a1a1a" stroke-width="0.08">Se-p</text>
<line x1="646.6" y1="118.6" x2="661.5" y2="118.6" stroke="#2b59ad" stroke-width="0.85"/>
<text transform="translate(663.3 121) scale(0.9 1)" font-size="6.9" text-anchor="start" fill="#1a1a1a" stroke="#1a1a1a" stroke-width="0.08">V-d</text>
<text transform="translate(498.9 168.7) scale(0.9 1)" font-size="6.04" text-anchor="middle" fill="#1a1a1a" stroke="#1a1a1a" stroke-width="0.08">-4</text>
<text transform="translate(545 168.7) scale(0.9 1)" font-size="6.04" text-anchor="middle" fill="#1a1a1a" stroke="#1a1a1a" stroke-width="0.08">-2</text>
<text transform="translate(591.1 168.7) scale(0.9 1)" font-size="6.04" text-anchor="middle" fill="#1a1a1a" stroke="#1a1a1a" stroke-width="0.08">0</text>
<text transform="translate(637.2 168.7) scale(0.9 1)" font-size="6.04" text-anchor="middle" fill="#1a1a1a" stroke="#1a1a1a" stroke-width="0.08">2</text>
<text transform="translate(683.3 168.7) scale(0.9 1)" font-size="6.04" text-anchor="middle" fill="#1a1a1a" stroke="#1a1a1a" stroke-width="0.08">4</text>
<text transform="translate(591.1 178.8) scale(0.9 1)" font-size="7.22" text-anchor="middle" fill="#1a1a1a" stroke="#1a1a1a" stroke-width="0.08">Energy (eV)</text>
<text transform="translate(487.3 95.75) rotate(-90) scale(0.9 1)" font-size="7.11" text-anchor="middle" fill="#1a1a1a" stroke="#1a1a1a" stroke-width="0.08">Density of states (States/eV)</text>
<text x="467.3" y="16.9" font-size="21.8" fill="#222">(c)</text>
<text x="594.3" y="24.4" font-size="14.6" text-anchor="middle" fill="#222">12.5%</text>
</g>
<g id="panel-d">
<clipPath id="clip-d0"><rect x="33.5" y="208.3" width="184.4" height="62"/></clipPath>
<line x1="125.7" y1="208.3" x2="125.7" y2="270.3" stroke="#4a4a4a" stroke-width="0.6" stroke-dasharray="1.4 1.5"/>
<g clip-path="url(#clip-d0)" fill="none" stroke-width="0.9" stroke-linejoin="round" stroke-linecap="round">
<path d="M33.45 238.43C36.19 238.33 39.85 238.15 42.6 238.08C45.76 238 49.99 237.88 53.15 237.91C57.91 237.94 64.24 238.16 68.99 238.26C74.27 238.37 81.31 238.46 86.59 238.61C92.4 238.77 100.14 239.1 105.94 239.31" stroke="#8a8a8a"/>
<path d="M33.45 238.96C37.25 238.86 42.31 238.63 46.12 238.61C52.98 238.58 62.13 238.71 68.99 238.78C76.91 238.87 87.47 239.03 95.39 239.14" stroke="#8a8a8a"/>
<path d="M33.45 240.19C36.19 240.35 39.85 240.66 42.6 240.72C46.82 240.82 52.45 240.78 56.67 240.72C63.01 240.63 71.45 240.34 77.79 240.19C83.07 240.07 90.11 239.97 95.39 239.84C98.82 239.76 103.39 239.59 106.82 239.49" stroke="#151515"/>
<path d="M149.31 239.31C152.22 239.21 156.09 239.11 158.99 238.96C161.11 238.85 163.93 238.73 166.03 238.43C167.64 238.2 169.7 237.47 171.31 237.2C172.88 236.94 175.02 236.96 176.59 236.67C178.2 236.38 180.28 235.66 181.87 235.27C183.44 234.87 185.59 234.51 187.14 234.03C188.5 233.61 190.33 233.01 191.54 232.27C192.73 231.56 193.97 230.13 195.06 229.28C195.82 228.7 196.76 227.62 197.7 227.52C198.57 227.44 199.62 228.27 200.34 228.76C201.21 229.34 202.13 230.43 202.98 231.04C203.98 231.76 205.37 232.67 206.5 233.15C207.5 233.58 208.96 233.77 210.02 234.03C211.08 234.3 212.51 234.56 213.54 234.91C214.79 235.35 216.37 236.15 217.59 236.67" stroke="#151515"/>
<path d="M149.31 239.49C150.63 239.7 152.39 239.98 153.71 240.19C155.3 240.45 157.39 241.02 158.99 241.07C160.58 241.13 162.68 240.68 164.27 240.54C165.85 240.41 167.96 240.1 169.55 240.19C170.63 240.26 172 240.86 173.07 241.07C174.64 241.39 176.76 241.69 178.35 241.95C179.93 242.22 182.06 242.49 183.63 242.83C184.96 243.12 186.73 243.62 188.02 244.06C189.37 244.52 191.16 245.18 192.42 245.82C193.55 246.4 194.82 247.55 195.94 248.11C196.94 248.61 198.41 248.95 199.46 249.34C200.26 249.64 201.25 250.31 202.1 250.4C202.91 250.48 204.02 250.24 204.74 249.87C205.91 249.27 207.2 248.02 208.26 247.23C209.32 246.44 210.62 245.23 211.78 244.59C212.76 244.05 214.23 243.68 215.3 243.36C215.97 243.16 216.9 242.99 217.59 242.83" stroke="#151515"/>
<path d="M33.45 239.4 L105.94 239.4" stroke="#151515"/>
<path d="M33.45 235.79C33.97 235.27 34.74 234.62 35.21 234.03C35.8 233.29 36.44 232.19 36.97 231.39C37.49 230.6 38.19 229.54 38.73 228.76C39.09 228.22 39.31 227 39.96 227C40.6 227 40.58 228.96 41.19 228.76C42.04 228.47 42.17 226.91 42.6 226.12C43.02 225.32 43.11 223.58 44 223.48C44.86 223.38 44.98 225.41 45.76 225.76C46.36 226.03 47.24 225.38 47.88 225.24C48.66 225.06 49.79 225.07 50.51 224.71C51.42 224.25 52.24 223.03 53.15 222.6C53.88 222.26 55.02 222.45 55.79 222.24C56.62 222.02 57.65 221.53 58.43 221.19C59.23 220.84 60.31 220.39 61.07 219.96C61.9 219.49 62.99 218.81 63.71 218.2C64.42 217.59 65.31 216.69 65.82 215.91C66.37 215.08 66.31 213.28 67.23 212.92C67.93 212.65 68.4 214.22 68.99 214.68C69.57 215.13 70.42 215.64 71.1 215.91C71.76 216.17 72.7 216.29 73.39 216.44C74.18 216.61 75.26 216.71 76.03 216.97C76.86 217.24 77.8 218.29 78.67 218.2C79.53 218.11 80.3 217.01 80.96 216.44C81.52 215.95 81.98 214.79 82.72 214.68C83.35 214.58 83.91 216.21 84.48 215.91C85.37 215.44 85.07 213.14 86.06 212.92C86.87 212.74 87.08 214.59 87.64 215.21C88.2 215.81 89.29 216.29 89.75 216.97C90.48 218.02 91.01 219.66 91.51 220.84C92.07 222.14 92.7 223.94 93.27 225.24C93.75 226.31 94.04 228.11 95.03 228.76C95.57 229.11 96.46 228.08 96.79 227.52C97.45 226.42 97.73 224.67 98.2 223.48C98.47 222.77 98.5 221.19 99.26 221.19C100.01 221.19 100.14 222.74 100.31 223.48C100.73 225.3 100.85 227.8 101.19 229.63C101.49 231.23 101.85 233.39 102.42 234.91C102.76 235.8 103.55 236.84 104.18 237.55C104.73 238.17 105.66 238.78 106.3 239.31" stroke="#e23a32"/>
<path d="M33.45 242.83C34.34 242.99 35.55 243.17 36.44 243.36C37.24 243.54 38.44 243.55 39.08 244.06C39.96 244.79 40.61 246.24 41.19 247.23C41.94 248.52 42.73 250.34 43.48 251.63C44.11 252.72 44.91 254.23 45.76 255.15C46.26 255.69 47.14 256.44 47.88 256.38C48.8 256.31 49.66 255.14 50.51 254.8C51.26 254.5 52.36 254.12 53.15 254.27C53.9 254.41 54.73 255.14 55.27 255.68C56.06 256.48 56.9 257.74 57.55 258.67C58.28 259.7 59.11 261.16 59.84 262.19C60.43 263.01 61.04 264.39 61.95 264.83C62.67 265.17 63.85 264.77 64.59 264.48C65.48 264.12 66.28 262.72 67.23 262.72C68.06 262.72 68.66 264.01 69.34 264.48C69.99 264.91 70.96 265.3 71.63 265.71C72.44 266.2 73.32 267.47 74.27 267.47C75.02 267.47 75.39 266.09 76.03 265.71C76.75 265.28 77.83 264.83 78.67 264.83C79.5 264.83 80.48 265.84 81.31 265.71C82.25 265.55 83.01 264.1 83.95 263.95C84.77 263.81 85.75 264.83 86.59 264.83C87.42 264.83 88.39 263.95 89.23 263.95C89.96 263.95 90.95 265.3 91.51 264.83C92.44 264.04 92.35 262.11 92.75 260.96C93.25 259.47 93.85 257.46 94.51 256.03C95.07 254.8 95.96 253.22 96.79 252.16C97.3 251.51 98.31 250.97 98.9 250.4C99.58 249.75 100.45 248.86 101.02 248.11C101.78 247.11 102.61 245.64 103.3 244.59C103.83 243.8 104.54 242.74 105.06 241.95C105.59 241.16 106.3 240.1 106.82 239.31" stroke="#e23a32"/>
<path d="M106.82 239.49C107.51 239.44 108.6 239.78 109.11 239.31C109.98 238.52 110.41 236.88 110.87 235.79C111.42 234.5 111.84 232.66 112.45 231.39C112.75 230.79 113.19 229.71 113.86 229.63C114.53 229.56 115.02 230.74 115.62 231.04C116.1 231.28 116.92 231.12 117.38 231.39C118.02 231.78 118.76 232.51 119.14 233.15C119.73 234.13 120.1 235.63 120.55 236.67C120.89 237.48 120.94 239.08 121.78 239.31C124.32 240.03 127.94 239.44 130.58 239.49" stroke="#e23a32"/>
<path d="M149.31 239.31C152.74 239.21 157.32 239.12 160.75 238.96C162.87 238.86 165.68 238.64 167.79 238.43C169.38 238.27 171.48 237.91 173.07 237.73C174.65 237.54 176.77 237.41 178.35 237.2C179.94 236.99 182.05 236.61 183.63 236.32C185.21 236.03 187.33 235.64 188.9 235.27C190.24 234.95 192.02 234.52 193.3 234.03C194.41 233.62 195.72 232.69 196.82 232.27C197.84 231.89 199.26 231.31 200.34 231.39C201.48 231.48 202.82 232.34 203.86 232.8C204.94 233.29 206.27 234.17 207.38 234.56C208.4 234.92 209.83 235.16 210.9 235.27C211.95 235.37 213.39 235.05 214.42 235.27C215.44 235.48 216.64 236.25 217.59 236.67" stroke="#e23a32"/>
<path d="M149.31 239.49C150.9 239.81 153 240.28 154.59 240.54C155.9 240.76 157.66 241.04 158.99 241.07C160.05 241.1 161.49 240.43 162.51 240.72C163.49 241 164.14 242.76 165.15 242.83C165.97 242.89 166.58 241.54 167.26 241.07C167.91 240.63 168.77 239.88 169.55 239.84C171.15 239.77 173.24 240.46 174.83 240.72C176.41 240.98 178.52 241.36 180.11 241.6C181.69 241.84 183.81 242.02 185.39 242.3C186.72 242.55 188.49 242.95 189.78 243.36C191.14 243.79 192.88 244.54 194.18 245.12C195.26 245.6 196.58 246.51 197.7 246.88C198.98 247.3 200.76 247.7 202.1 247.76C203.17 247.81 204.62 247.61 205.62 247.23C206.77 246.8 208.06 245.71 209.14 245.12C210.17 244.55 211.55 243.77 212.66 243.36C214.1 242.82 216.11 242.37 217.59 241.95" stroke="#e23a32"/>
<path d="M33.45 237.55C33.97 237.18 34.75 236.78 35.21 236.32C35.82 235.71 36.44 234.72 36.97 234.03C37.49 233.35 38.11 232.36 38.73 231.75C39.03 231.45 39.56 230.9 39.96 231.04C40.66 231.29 41.05 232.46 41.72 232.8C42.33 233.12 43.31 233.24 44 233.15C44.69 233.07 45.44 232.15 46.12 232.27C47.05 232.45 47.85 233.73 48.76 234.03C49.51 234.28 50.62 233.85 51.39 234.03C52.25 234.23 53.18 235.07 54.03 235.27C54.81 235.45 55.89 235.19 56.67 235.27C57.48 235.35 58.51 235.86 59.31 235.79C59.9 235.75 60.49 234.84 61.07 234.91C61.96 235.02 62.82 236.23 63.71 236.32C64.54 236.4 65.52 235.39 66.35 235.44C67.22 235.5 68.13 236.55 68.99 236.67C70.04 236.82 71.45 236.27 72.51 236.32C73.59 236.38 74.95 237.03 76.03 237.03C77.11 237.03 78.55 236.72 79.55 236.32C80.43 235.97 81.28 234.85 82.19 234.56C82.7 234.4 83.43 235.07 83.95 234.91C84.6 234.72 85.03 233.51 85.71 233.51C86.38 233.51 86.84 234.66 87.47 234.91C88.21 235.21 89.33 235.06 90.11 235.27C90.93 235.49 91.9 236.24 92.75 236.32C93.55 236.4 94.69 236.21 95.39 235.79C96.19 235.32 96.79 234.11 97.5 233.51C97.86 233.2 98.46 232.64 98.9 232.8C99.54 233.04 99.97 233.98 100.31 234.56C100.82 235.42 101.19 236.71 101.72 237.55C102.1 238.15 102.61 239.15 103.3 239.31C105 239.72 107.63 240.24 109.11 239.31C110.27 238.59 110.03 236.25 110.34 234.91C110.77 233.08 110.98 230.54 111.57 228.76C111.79 228.11 112.31 227 112.98 227C113.66 227 113.94 228.25 114.39 228.76C114.89 229.31 115.62 229.99 116.15 230.51C116.68 231.04 117.49 231.65 117.91 232.27C118.56 233.26 119.14 234.74 119.67 235.79C120.2 236.85 120.26 239.15 121.43 239.31C128.43 240.29 137.93 239.31 145.01 239.31" stroke="#2b59ad"/>
<path d="M33.45 239.84C38.83 239.89 46.01 240.02 51.39 240.02C59.31 240.02 69.87 239.92 77.79 239.84C86.5 239.76 98.11 239.59 106.82 239.49" stroke="#2b59ad"/>
<path d="M125.56 239.31C132.68 239.31 142.25 238.34 149.31 239.31C150.48 239.47 150.7 241.71 151.07 242.83C151.76 244.9 152.23 247.78 152.83 249.87C153.29 251.48 153.89 253.63 154.59 255.15C154.81 255.62 155.3 256.38 155.82 256.38C156.47 256.38 157.24 255.7 157.58 255.15C158.34 253.94 158.76 252.05 159.34 250.75C159.71 249.93 159.89 248.38 160.75 248.11C161.4 247.91 161.94 249.23 162.16 249.87C162.75 251.66 163.04 254.18 163.39 256.03C163.78 258.14 164.18 260.97 164.62 263.07C164.87 264.25 165.1 265.88 165.68 266.94C165.81 267.19 166.49 266.86 166.56 266.59C167.05 264.52 167.23 261.67 167.44 259.55C167.75 256.39 168 252.15 168.32 248.99C168.53 246.87 168.73 244.03 169.2 241.95C169.37 241.19 169.66 239.77 170.43 239.66C174.87 239.04 180.9 239.57 185.39 239.66C188.03 239.72 191.57 239.77 194.18 240.19C195.83 240.46 197.85 241.53 199.46 241.95C200.5 242.22 201.92 242.61 202.98 242.48C204.11 242.34 205.41 241.39 206.5 241.07C207.79 240.7 209.56 240.3 210.9 240.19C212.9 240.03 215.58 240.19 217.59 240.19" stroke="#2b59ad"/>
<path d="M170.43 239.31C173.86 239.21 178.44 239.11 181.87 238.96C184.51 238.85 188.02 238.52 190.66 238.43C192.77 238.36 195.59 238.39 197.7 238.43C200.34 238.49 203.86 238.71 206.5 238.78C209.83 238.87 214.26 238.91 217.59 238.96" stroke="#2b59ad"/>
<line x1="102.65" y1="239.4" x2="132.62" y2="239.4" stroke="#2b59ad"/>
</g>
<rect x="33.5" y="208.3" width="184.4" height="62" fill="none" stroke="#333" stroke-width="0.65"/>
<line x1="30.9" y1="270.28" x2="33.5" y2="270.28" stroke="#222" stroke-width="0.6"/>
<text transform="translate(29.4 272.28) scale(0.9 1)" font-size="6.04" text-anchor="end" fill="#1a1a1a" stroke="#1a1a1a" stroke-width="0.08">-8</text>
<line x1="30.9" y1="262.56" x2="33.5" y2="262.56" stroke="#222" stroke-width="0.6"/>
<text transform="translate(29.4 264.56) scale(0.9 1)" font-size="6.04" text-anchor="end" fill="#1a1a1a" stroke="#1a1a1a" stroke-width="0.08">-6</text>
<line x1="30.9" y1="254.84" x2="33.5" y2="254.84" stroke="#222" stroke-width="0.6"/>
<text transform="translate(29.4 256.84) scale(0.9 1)" font-size="6.04" text-anchor="end" fill="#1a1a1a" stroke="#1a1a1a" stroke-width="0.08">-4</text>
<line x1="30.9" y1="247.12" x2="33.5" y2="247.12" stroke="#222" stroke-width="0.6"/>
<text transform="translate(29.4 249.12) scale(0.9 1)" font-size="6.04" text-anchor="end" fill="#1a1a1a" stroke="#1a1a1a" stroke-width="0.08">-2</text>
<line x1="30.9" y1="239.4" x2="33.5" y2="239.4" stroke="#222" stroke-width="0.6"/>
<text transform="translate(29.4 241.4) scale(0.9 1)" font-size="6.04" text-anchor="end" fill="#1a1a1a" stroke="#1a1a1a" stroke-width="0.08">0</text>
<line x1="30.9" y1="231.68" x2="33.5" y2="231.68" stroke="#222" stroke-width="0.6"/>
<text transform="translate(29.4 233.68) scale(0.9 1)" font-size="6.04" text-anchor="end" fill="#1a1a1a" stroke="#1a1a1a" stroke-width="0.08">2</text>
<line x1="30.9" y1="223.96" x2="33.5" y2="223.96" stroke="#222" stroke-width="0.6"/>
<text transform="translate(29.4 225.96) scale(0.9 1)" font-size="6.04" text-anchor="end" fill="#1a1a1a" stroke="#1a1a1a" stroke-width="0.08">4</text>
<line x1="30.9" y1="216.24" x2="33.5" y2="216.24" stroke="#222" stroke-width="0.6"/>
<text transform="translate(29.4 218.24) scale(0.9 1)" font-size="6.04" text-anchor="end" fill="#1a1a1a" stroke="#1a1a1a" stroke-width="0.08">6</text>
<line x1="30.9" y1="208.52" x2="33.5" y2="208.52" stroke="#222" stroke-width="0.6"/>
<text transform="translate(29.4 210.52) scale(0.9 1)" font-size="6.04" text-anchor="end" fill="#1a1a1a" stroke="#1a1a1a" stroke-width="0.08">8</text>
<line x1="32" y1="266.42" x2="33.5" y2="266.42" stroke="#222" stroke-width="0.6"/>
<line x1="32" y1="258.7" x2="33.5" y2="258.7" stroke="#222" stroke-width="0.6"/>
<line x1="32" y1="250.98" x2="33.5" y2="250.98" stroke="#222" stroke-width="0.6"/>
<line x1="32" y1="243.26" x2="33.5" y2="243.26" stroke="#222" stroke-width="0.6"/>
<line x1="32" y1="235.54" x2="33.5" y2="235.54" stroke="#222" stroke-width="0.6"/>
<line x1="32" y1="227.82" x2="33.5" y2="227.82" stroke="#222" stroke-width="0.6"/>
<line x1="32" y1="220.1" x2="33.5" y2="220.1" stroke="#222" stroke-width="0.6"/>
<line x1="32" y1="212.38" x2="33.5" y2="212.38" stroke="#222" stroke-width="0.6"/>
<line x1="33.5" y1="270.3" x2="33.5" y2="272.9" stroke="#222" stroke-width="0.6"/>
<line x1="56.55" y1="270.3" x2="56.55" y2="271.8" stroke="#222" stroke-width="0.6"/>
<line x1="79.6" y1="270.3" x2="79.6" y2="272.9" stroke="#222" stroke-width="0.6"/>
<line x1="102.65" y1="270.3" x2="102.65" y2="271.8" stroke="#222" stroke-width="0.6"/>
<line x1="125.7" y1="270.3" x2="125.7" y2="272.9" stroke="#222" stroke-width="0.6"/>
<line x1="148.75" y1="270.3" x2="148.75" y2="271.8" stroke="#222" stroke-width="0.6"/>
<line x1="171.8" y1="270.3" x2="171.8" y2="272.9" stroke="#222" stroke-width="0.6"/>
<line x1="194.85" y1="270.3" x2="194.85" y2="271.8" stroke="#222" stroke-width="0.6"/>
<line x1="217.9" y1="270.3" x2="217.9" y2="272.9" stroke="#222" stroke-width="0.6"/>
<text transform="translate(36.7 215.2) scale(0.9 1)" font-size="7.22" text-anchor="start" fill="#1a1a1a" stroke="#1a1a1a" stroke-width="0.08">0 GPa</text>
<line x1="183.2" y1="212.7" x2="198.1" y2="212.7" stroke="#777" stroke-width="1.1"/>
<text transform="translate(199.9 215.1) scale(0.9 1)" font-size="6.9" text-anchor="start" fill="#1a1a1a" stroke="#1a1a1a" stroke-width="0.08">Zn-s</text>
<line x1="183.2" y1="220.6" x2="198.1" y2="220.6" stroke="#e23a32" stroke-width="0.85"/>
<text transform="translate(199.9 223) scale(0.9 1)" font-size="6.9" text-anchor="start" fill="#1a1a1a" stroke="#1a1a1a" stroke-width="0.08">Se-p</text>
<line x1="183.2" y1="228.5" x2="198.1" y2="228.5" stroke="#2b59ad" stroke-width="0.85"/>
<text transform="translate(199.9 230.9) scale(0.9 1)" font-size="6.9" text-anchor="start" fill="#1a1a1a" stroke="#1a1a1a" stroke-width="0.08">Mn-d</text>
<clipPath id="clip-d1"><rect x="33.5" y="275.5" width="184.4" height="61.7"/></clipPath>
<line x1="125.7" y1="275.5" x2="125.7" y2="337.2" stroke="#4a4a4a" stroke-width="0.6" stroke-dasharray="1.4 1.5"/>
<g clip-path="url(#clip-d1)" fill="none" stroke-width="0.9" stroke-linejoin="round" stroke-linecap="round">
<path d="M33.45 305.08C36.19 304.92 39.85 304.58 42.6 304.55C45.77 304.52 49.99 304.82 53.15 304.91C57.9 305.03 64.24 305.16 68.99 305.26C74.27 305.37 81.31 305.45 86.59 305.61C92.13 305.77 99.52 306.1 105.06 306.31" stroke="#8a8a8a"/>
<path d="M33.45 305.78C37.25 305.68 42.31 305.43 46.12 305.43C52.98 305.43 62.13 305.69 68.99 305.78C76.91 305.9 87.47 306.03 95.39 306.14" stroke="#8a8a8a"/>
<path d="M33.45 307.37C36.19 307.47 39.85 307.68 42.6 307.72C46.82 307.78 52.45 307.78 56.67 307.72C63.01 307.63 71.45 307.34 77.79 307.19C83.07 307.07 90.11 306.98 95.39 306.84C98.29 306.77 102.16 306.59 105.06 306.49" stroke="#151515"/>
<path d="M165.15 306.31C165.94 306.31 167 306.4 167.79 306.31C169.38 306.14 171.5 305.77 173.07 305.43C174.67 305.09 176.74 304.37 178.35 304.03C179.92 303.69 182.04 303.41 183.63 303.15C185.21 302.88 187.33 302.58 188.9 302.27C190.5 301.95 192.6 301.4 194.18 301.03C195.77 300.66 197.88 300.2 199.46 299.8C201.05 299.4 203.13 298.69 204.74 298.39C206.04 298.16 207.84 297.81 209.14 298.04C210.3 298.25 211.6 299.29 212.66 299.8C213.45 300.18 214.48 300.74 215.3 301.03C215.96 301.27 216.9 301.4 217.59 301.56" stroke="#151515"/>
<path d="M165.15 306.49C165.94 306.49 167 306.42 167.79 306.49C169.38 306.63 171.5 306.88 173.07 307.19C174.68 307.51 176.74 308.25 178.35 308.6C179.92 308.94 182.04 309.22 183.63 309.48C185.21 309.74 187.33 310.05 188.9 310.36C190.5 310.68 192.6 311.22 194.18 311.59C195.77 311.96 197.89 312.4 199.46 312.82C200.8 313.19 202.49 314.05 203.86 314.23C204.91 314.37 206.32 313.8 207.38 313.88C208.47 313.96 209.82 314.85 210.9 314.76C211.79 314.68 212.77 313.81 213.54 313.35C214.36 312.86 215.38 312.11 216.18 311.59C216.6 311.32 217.16 310.98 217.59 310.71" stroke="#151515"/>
<path d="M33.45 306.4 L105.06 306.4" stroke="#151515"/>
<path d="M33.45 294C34.08 294.42 34.8 295.4 35.56 295.4C36.32 295.4 37.11 294.51 37.67 294C38.44 293.29 39.23 292.11 39.96 291.36C40.6 290.68 41.36 289.55 42.24 289.24C42.78 289.06 43.44 290.03 44 289.95C44.64 289.85 45.12 288.72 45.76 288.72C46.5 288.72 47.15 290.03 47.88 289.95C48.82 289.84 49.69 288.66 50.51 288.19C51.27 287.76 52.36 287.33 53.15 286.96C53.95 286.59 54.97 286.02 55.79 285.73C56.46 285.49 57.4 285.01 58.08 285.2C58.88 285.42 59.52 286.48 60.19 286.96C60.79 287.38 61.57 288.19 62.3 288.19C63.08 288.19 63.81 287.02 64.59 286.96C65.32 286.9 66.22 287.52 66.88 287.84C67.54 288.15 68.27 288.93 68.99 289.07C69.78 289.21 70.87 288.95 71.63 288.72C72.47 288.47 73.44 287.76 74.27 287.48C75.04 287.23 76.18 287.3 76.91 286.96C77.69 286.59 78.33 285.2 79.2 285.2C79.94 285.2 80.34 286.54 80.96 286.96C81.52 287.34 82.54 287.4 83.07 287.84C83.85 288.49 84.58 289.66 85.18 290.48C85.74 291.24 86.41 292.32 86.94 293.12C87.47 293.91 88.1 295.01 88.7 295.76C89.17 296.34 89.73 297.33 90.46 297.51C91.03 297.66 91.85 297.1 92.22 296.63C92.96 295.71 93.42 294.16 93.98 293.12C94.27 292.57 94.46 291.13 95.03 291.36C95.85 291.67 96.04 293.15 96.27 294C96.68 295.55 96.74 297.72 97.14 299.27C97.43 300.37 97.92 301.85 98.55 302.79C99.01 303.48 99.94 304.15 100.66 304.55C101.39 304.96 102.53 305.12 103.3 305.43C103.85 305.65 104.54 306.05 105.06 306.31" stroke="#e23a32"/>
<path d="M33.45 319.16C34.19 319.37 35.14 319.86 35.91 319.86C36.63 319.86 37.5 319.33 38.2 319.16C38.98 318.96 40.03 318.58 40.84 318.63C41.67 318.69 42.8 319.02 43.48 319.51C44.33 320.12 45.15 321.3 45.76 322.15C46.48 323.15 47.19 324.64 47.88 325.67C48.36 326.39 49.02 327.34 49.63 327.96C50.09 328.41 50.76 329.28 51.39 329.19C52.13 329.08 52.56 327.88 53.15 327.43C53.73 326.98 54.53 326.2 55.27 326.2C56.05 326.2 56.78 327.37 57.55 327.43C58.29 327.48 59.11 326.46 59.84 326.55C60.6 326.64 61.31 327.55 61.95 327.96C62.57 328.35 63.34 329.28 64.06 329.19C64.92 329.08 65.6 327.86 66.35 327.43C66.99 327.06 67.92 326.4 68.64 326.55C69.45 326.71 69.94 328.14 70.75 328.31C71.42 328.45 72.18 327.43 72.86 327.43C73.6 327.43 74.42 328.39 75.15 328.31C75.95 328.22 76.64 327.05 77.44 326.9C78.18 326.76 79.15 327.48 79.9 327.43C80.63 327.37 81.46 326.45 82.19 326.55C82.86 326.64 83.36 328.28 83.95 327.96C84.86 327.45 84.97 325.76 85.36 324.79C85.87 323.48 86.32 321.65 86.94 320.39C87.49 319.26 88.32 317.74 89.23 316.87C89.86 316.26 91.08 316.03 91.87 315.64C92.67 315.24 93.68 314.59 94.51 314.23C95.27 313.9 96.4 313.72 97.14 313.35C98 312.93 99.05 312.2 99.78 311.59C100.53 310.98 101.41 310.02 102.07 309.3C102.63 308.7 103.25 307.78 103.83 307.19C104.15 306.87 104.69 306.58 105.06 306.31" stroke="#e23a32"/>
<path d="M105.06 306.49C105.43 306.44 106.02 306.57 106.3 306.31C106.99 305.66 107.48 304.43 108.05 303.67C108.69 302.84 109.6 301.77 110.34 301.03C110.93 300.45 111.72 299.65 112.45 299.27C113.08 298.95 114.04 298.66 114.74 298.75C115.35 298.83 116.04 299.39 116.5 299.8C117.11 300.35 117.77 301.25 118.26 301.91C118.83 302.68 119.43 303.81 120.02 304.55C120.49 305.14 121.05 306.18 121.78 306.31C124.38 306.79 127.94 306.44 130.58 306.49" stroke="#e23a32"/>
<path d="M165.15 306.31C165.94 306.31 167 306.37 167.79 306.31C169.91 306.16 172.72 305.86 174.83 305.61C176.68 305.39 179.13 304.94 180.99 304.73C182.83 304.52 185.3 304.41 187.14 304.2C189 303.99 191.47 303.66 193.3 303.32C195.17 302.98 197.62 302.34 199.46 301.91C201.05 301.55 203.14 300.97 204.74 300.68C206.05 300.44 207.82 300.01 209.14 300.15C210.27 300.28 211.57 301.24 212.66 301.56C213.69 301.87 215.13 302 216.18 302.27C216.62 302.38 217.16 302.64 217.59 302.79" stroke="#e23a32"/>
<path d="M139.63 306.49C140.69 306.49 142.11 306.33 143.15 306.49C144.24 306.65 145.58 307.43 146.67 307.54C147.73 307.65 149.14 307.3 150.19 307.19C151.25 307.09 152.66 306.71 153.71 306.84C154.82 306.98 156.2 307.63 157.23 308.07C158.06 308.43 158.97 309.48 159.87 309.48C160.77 309.48 161.72 308.49 162.51 308.07C163.3 307.65 164.26 306.81 165.15 306.66C166.97 306.37 169.47 306.52 171.31 306.66C172.91 306.79 175 307.3 176.59 307.54C178.43 307.83 180.9 308.16 182.75 308.42C184.59 308.69 187.06 309.01 188.9 309.3C190.76 309.6 193.23 309.99 195.06 310.36C196.66 310.68 198.75 311.25 200.34 311.59C201.66 311.88 203.4 312.39 204.74 312.47C206.06 312.55 207.82 312.12 209.14 312.12C210.2 312.12 211.61 312.65 212.66 312.47C213.54 312.32 214.51 311.49 215.3 311.06C215.99 310.7 216.9 310.2 217.59 309.83" stroke="#e23a32"/>
<path d="M33.45 303.32C33.97 303.43 34.69 303.83 35.21 303.67C35.85 303.48 36.31 302.43 36.97 302.27C37.5 302.13 38.18 302.89 38.73 302.79C39.45 302.66 40.12 301.72 40.84 301.56C41.36 301.44 42.11 301.69 42.6 301.91C43.29 302.23 44 303.04 44.71 303.32C45.35 303.58 46.31 303.75 47 303.67C47.83 303.58 48.8 302.79 49.63 302.79C50.47 302.79 51.44 303.59 52.27 303.67C53.07 303.75 54.12 303.27 54.91 303.32C55.73 303.38 56.73 304.03 57.55 304.03C58.37 304.03 59.37 303.32 60.19 303.32C61.27 303.32 62.64 303.97 63.71 304.03C64.77 304.08 66.17 303.65 67.23 303.67C68.3 303.7 69.68 304.2 70.75 304.2C71.82 304.2 73.25 303.99 74.27 303.67C75.13 303.4 76.18 302.79 76.91 302.27C77.52 301.83 78.09 300.98 78.67 300.51C79 300.24 79.53 299.6 79.9 299.8C80.57 300.16 80.66 301.52 81.31 301.91C81.99 302.33 83.16 302.13 83.95 302.27C84.74 302.4 85.8 302.64 86.59 302.79C87.38 302.95 88.42 303.4 89.23 303.32C90.08 303.24 91.16 302.74 91.87 302.27C92.61 301.77 93.27 300.7 93.98 300.15C94.24 299.95 94.77 299.6 95.03 299.8C95.61 300.25 95.93 301.26 96.27 301.91C96.67 302.69 97 303.83 97.5 304.55C97.81 305.02 98.41 305.51 98.9 305.78C99.39 306.05 100.11 306.27 100.66 306.31C102.24 306.43 104.54 307.05 105.94 306.31C106.95 305.78 106.93 303.85 107.35 302.79C107.88 301.47 108.43 299.64 109.11 298.39C109.5 297.67 110.12 296.63 110.87 296.28C111.26 296.1 111.8 296.69 112.1 296.99C112.71 297.6 113.22 298.7 113.86 299.27C114.3 299.67 115.15 299.8 115.62 300.15C116.22 300.6 116.88 301.36 117.38 301.91C117.94 302.52 118.63 303.38 119.14 304.03C119.68 304.7 120.04 306.24 120.9 306.31C128.1 306.95 137.77 306.31 145.01 306.31" stroke="#2b59ad"/>
<path d="M33.45 306.84C38.83 306.89 46.01 307.02 51.39 307.02C59.31 307.02 69.87 306.92 77.79 306.84C85.97 306.76 96.88 306.59 105.06 306.49" stroke="#2b59ad"/>
<path d="M125.56 306.31C130.84 306.31 137.97 305.33 143.15 306.31C144.22 306.52 143.82 308.76 144.03 309.83C144.45 311.93 144.82 314.77 145.27 316.87C145.61 318.47 146.03 320.64 146.67 322.15C146.85 322.57 147.56 323.33 147.91 323.03C148.69 322.35 148.65 320.67 149.31 319.86C149.67 319.42 150.79 319.65 151.07 319.16C151.83 317.82 151.97 315.68 152.48 314.23C152.87 313.14 152.95 311.04 154.06 310.71C154.92 310.46 155.2 312.5 155.47 313.35C156.05 315.16 156.43 317.67 156.88 319.51C157.33 321.36 157.93 323.84 158.46 325.67C158.82 326.9 158.65 329.31 159.87 329.72C160.84 330.04 160.88 327.54 161.1 326.55C161.68 323.94 162.07 320.39 162.51 317.75C162.91 315.37 163.35 312.18 163.92 309.83C164.15 308.89 164.42 307.48 165.15 306.84C165.75 306.32 166.99 306.5 167.79 306.49C173.07 306.44 180.11 306.52 185.39 306.66C188.03 306.74 191.55 306.96 194.18 307.19C196.3 307.38 199.1 307.86 201.22 308.07C202.8 308.23 204.91 308.48 206.5 308.42C208.1 308.37 210.19 307.9 211.78 307.72C213.52 307.53 215.84 307.35 217.59 307.19" stroke="#2b59ad"/>
<path d="M167.79 306.31C172.01 306.21 177.64 306.12 181.87 305.96C184.51 305.86 188.03 305.62 190.66 305.43C193.31 305.25 196.82 304.88 199.46 304.73C201.57 304.61 204.39 304.5 206.5 304.55C208.35 304.6 210.81 304.93 212.66 305.08C214.14 305.2 216.11 305.33 217.59 305.43" stroke="#2b59ad"/>
<line x1="102.65" y1="306.3" x2="132.62" y2="306.3" stroke="#2b59ad"/>
</g>
<rect x="33.5" y="275.5" width="184.4" height="61.7" fill="none" stroke="#333" stroke-width="0.65"/>
<line x1="30.9" y1="337.18" x2="33.5" y2="337.18" stroke="#222" stroke-width="0.6"/>
<text transform="translate(29.4 339.18) scale(0.9 1)" font-size="6.04" text-anchor="end" fill="#1a1a1a" stroke="#1a1a1a" stroke-width="0.08">-8</text>
<line x1="30.9" y1="329.46" x2="33.5" y2="329.46" stroke="#222" stroke-width="0.6"/>
<text transform="translate(29.4 331.46) scale(0.9 1)" font-size="6.04" text-anchor="end" fill="#1a1a1a" stroke="#1a1a1a" stroke-width="0.08">-6</text>
<line x1="30.9" y1="321.74" x2="33.5" y2="321.74" stroke="#222" stroke-width="0.6"/>
<text transform="translate(29.4 323.74) scale(0.9 1)" font-size="6.04" text-anchor="end" fill="#1a1a1a" stroke="#1a1a1a" stroke-width="0.08">-4</text>
<line x1="30.9" y1="314.02" x2="33.5" y2="314.02" stroke="#222" stroke-width="0.6"/>
<text transform="translate(29.4 316.02) scale(0.9 1)" font-size="6.04" text-anchor="end" fill="#1a1a1a" stroke="#1a1a1a" stroke-width="0.08">-2</text>
<line x1="30.9" y1="306.3" x2="33.5" y2="306.3" stroke="#222" stroke-width="0.6"/>
<text transform="translate(29.4 308.3) scale(0.9 1)" font-size="6.04" text-anchor="end" fill="#1a1a1a" stroke="#1a1a1a" stroke-width="0.08">0</text>
<line x1="30.9" y1="298.58" x2="33.5" y2="298.58" stroke="#222" stroke-width="0.6"/>
<text transform="translate(29.4 300.58) scale(0.9 1)" font-size="6.04" text-anchor="end" fill="#1a1a1a" stroke="#1a1a1a" stroke-width="0.08">2</text>
<line x1="30.9" y1="290.86" x2="33.5" y2="290.86" stroke="#222" stroke-width="0.6"/>
<text transform="translate(29.4 292.86) scale(0.9 1)" font-size="6.04" text-anchor="end" fill="#1a1a1a" stroke="#1a1a1a" stroke-width="0.08">4</text>
<line x1="30.9" y1="283.14" x2="33.5" y2="283.14" stroke="#222" stroke-width="0.6"/>
<text transform="translate(29.4 285.14) scale(0.9 1)" font-size="6.04" text-anchor="end" fill="#1a1a1a" stroke="#1a1a1a" stroke-width="0.08">6</text>
<line x1="30.9" y1="275.42" x2="33.5" y2="275.42" stroke="#222" stroke-width="0.6"/>
<text transform="translate(29.4 277.42) scale(0.9 1)" font-size="6.04" text-anchor="end" fill="#1a1a1a" stroke="#1a1a1a" stroke-width="0.08">8</text>
<line x1="32" y1="333.32" x2="33.5" y2="333.32" stroke="#222" stroke-width="0.6"/>
<line x1="32" y1="325.6" x2="33.5" y2="325.6" stroke="#222" stroke-width="0.6"/>
<line x1="32" y1="317.88" x2="33.5" y2="317.88" stroke="#222" stroke-width="0.6"/>
<line x1="32" y1="310.16" x2="33.5" y2="310.16" stroke="#222" stroke-width="0.6"/>
<line x1="32" y1="302.44" x2="33.5" y2="302.44" stroke="#222" stroke-width="0.6"/>
<line x1="32" y1="294.72" x2="33.5" y2="294.72" stroke="#222" stroke-width="0.6"/>
<line x1="32" y1="287" x2="33.5" y2="287" stroke="#222" stroke-width="0.6"/>
<line x1="32" y1="279.28" x2="33.5" y2="279.28" stroke="#222" stroke-width="0.6"/>
<line x1="33.5" y1="337.2" x2="33.5" y2="339.8" stroke="#222" stroke-width="0.6"/>
<line x1="56.55" y1="337.2" x2="56.55" y2="338.7" stroke="#222" stroke-width="0.6"/>
<line x1="79.6" y1="337.2" x2="79.6" y2="339.8" stroke="#222" stroke-width="0.6"/>
<line x1="102.65" y1="337.2" x2="102.65" y2="338.7" stroke="#222" stroke-width="0.6"/>
<line x1="125.7" y1="337.2" x2="125.7" y2="339.8" stroke="#222" stroke-width="0.6"/>
<line x1="148.75" y1="337.2" x2="148.75" y2="338.7" stroke="#222" stroke-width="0.6"/>
<line x1="171.8" y1="337.2" x2="171.8" y2="339.8" stroke="#222" stroke-width="0.6"/>
<line x1="194.85" y1="337.2" x2="194.85" y2="338.7" stroke="#222" stroke-width="0.6"/>
<line x1="217.9" y1="337.2" x2="217.9" y2="339.8" stroke="#222" stroke-width="0.6"/>
<text transform="translate(33.6 282.4) scale(0.9 1)" font-size="7.22" text-anchor="start" fill="#1a1a1a" stroke="#1a1a1a" stroke-width="0.08">11 GPa</text>
<line x1="180.3" y1="279.9" x2="195.2" y2="279.9" stroke="#151515" stroke-width="0.85"/>
<text transform="translate(197 282.3) scale(0.9 1)" font-size="6.9" text-anchor="start" fill="#1a1a1a" stroke="#1a1a1a" stroke-width="0.08">Zn-s</text>
<line x1="180.3" y1="287.8" x2="195.2" y2="287.8" stroke="#e23a32" stroke-width="0.85"/>
<text transform="translate(197 290.2) scale(0.9 1)" font-size="6.9" text-anchor="start" fill="#1a1a1a" stroke="#1a1a1a" stroke-width="0.08">Se-p</text>
<line x1="180.3" y1="295.7" x2="195.2" y2="295.7" stroke="#2b59ad" stroke-width="0.85"/>
<text transform="translate(197 298.1) scale(0.9 1)" font-size="6.9" text-anchor="start" fill="#1a1a1a" stroke="#1a1a1a" stroke-width="0.08">Mn-d</text>
<text transform="translate(33.5 345.7) scale(0.9 1)" font-size="6.04" text-anchor="middle" fill="#1a1a1a" stroke="#1a1a1a" stroke-width="0.08">-4</text>
<text transform="translate(79.6 345.7) scale(0.9 1)" font-size="6.04" text-anchor="middle" fill="#1a1a1a" stroke="#1a1a1a" stroke-width="0.08">-2</text>
<text transform="translate(125.7 345.7) scale(0.9 1)" font-size="6.04" text-anchor="middle" fill="#1a1a1a" stroke="#1a1a1a" stroke-width="0.08">0</text>
<text transform="translate(171.8 345.7) scale(0.9 1)" font-size="6.04" text-anchor="middle" fill="#1a1a1a" stroke="#1a1a1a" stroke-width="0.08">2</text>
<text transform="translate(217.9 345.7) scale(0.9 1)" font-size="6.04" text-anchor="middle" fill="#1a1a1a" stroke="#1a1a1a" stroke-width="0.08">4</text>
<text transform="translate(125.7 355.8) scale(0.9 1)" font-size="7.22" text-anchor="middle" fill="#1a1a1a" stroke="#1a1a1a" stroke-width="0.08">Energy (eV)</text>
<text transform="translate(21.9 272.75) rotate(-90) scale(0.9 1)" font-size="7.11" text-anchor="middle" fill="#1a1a1a" stroke="#1a1a1a" stroke-width="0.08">Density of states (States/eV)</text>
<text x="0.5" y="199.4" font-size="21.8" fill="#222">(d)</text>
</g>
<g id="panel-e">
<clipPath id="clip-e0"><rect x="272.3" y="208.1" width="184.4" height="62.2"/></clipPath>
<line x1="364.5" y1="208.1" x2="364.5" y2="270.3" stroke="#4a4a4a" stroke-width="0.6" stroke-dasharray="1.4 1.5"/>
<g clip-path="url(#clip-e0)" fill="none" stroke-width="0.9" stroke-linejoin="round" stroke-linecap="round">
<path d="M272.21 238.43C277.06 238.49 283.54 238.55 288.39 238.61C296.31 238.71 306.87 238.85 314.79 238.96C321.65 239.06 330.8 239.21 337.66 239.31" stroke="#8a8a8a"/>
<path d="M272.21 238.96C277.06 239.07 283.54 239.25 288.39 239.31C296.31 239.41 306.87 239.44 314.79 239.49" stroke="#8a8a8a"/>
<path d="M272.21 240.19C277.06 240.35 283.54 240.59 288.39 240.72C293.67 240.86 300.71 241.15 305.99 241.07C311.28 240.99 318.31 240.46 323.59 240.19C327.81 239.98 333.44 239.7 337.66 239.49" stroke="#151515"/>
<path d="M376.39 239.31C381.67 239.26 388.71 239.31 393.99 239.14C396.64 239.05 400.16 238.73 402.79 238.43C404.38 238.25 406.47 237.66 408.07 237.55C409.65 237.45 411.76 237.78 413.35 237.73C414.94 237.68 417.05 237.41 418.63 237.2C420.22 236.99 422.38 236.82 423.9 236.32C425.32 235.86 426.94 234.64 428.3 234.03C429.33 233.58 430.7 232.8 431.82 232.8C432.94 232.8 434.27 233.7 435.34 234.03C436.65 234.44 438.41 234.95 439.74 235.27C441.31 235.64 443.43 236.06 445.02 236.32C446.6 236.58 448.71 236.86 450.3 237.03C452.2 237.23 454.73 237.39 456.63 237.55" stroke="#151515"/>
<path d="M376.39 239.49C378.51 239.7 381.32 240.01 383.43 240.19C385.54 240.38 388.36 240.59 390.47 240.72C392.58 240.85 395.4 241.07 397.51 241.07C399.1 241.07 401.21 240.88 402.79 240.72C403.85 240.61 405.24 240.19 406.31 240.19C407.9 240.19 410.01 240.53 411.59 240.72C413.44 240.95 415.89 241.36 417.75 241.6C419.59 241.84 422.07 242.02 423.9 242.3C425.5 242.55 427.63 242.91 429.18 243.36C430.55 243.76 432.2 244.79 433.58 245.12C434.87 245.43 436.66 245.35 437.98 245.47C439.04 245.57 440.46 246.03 441.5 245.82C442.66 245.59 443.96 244.59 445.02 244.06C446.08 243.54 447.4 242.61 448.54 242.3C449.82 241.96 451.61 241.95 452.94 241.95C454.05 241.95 455.53 242.2 456.63 242.3" stroke="#151515"/>
<path d="M272.21 239.4 L337.66 239.4" stroke="#151515"/>
<path d="M272.21 231.39C272.73 230.87 273.41 230.14 273.97 229.63C274.58 229.08 275.44 228.4 276.08 227.88C276.6 227.45 277.16 226.47 277.84 226.47C278.51 226.47 279.05 227.48 279.6 227.88C280.21 228.32 280.95 229.28 281.71 229.28C282.38 229.28 282.8 227.96 283.47 227.88C284.2 227.78 285.03 228.89 285.76 228.76C286.61 228.59 287.18 227 288.04 227C288.87 227 289.33 228.76 290.15 228.76C290.98 228.76 291.61 227.5 292.27 227C292.78 226.6 293.38 225.76 294.03 225.76C294.8 225.76 295.53 227 296.31 227C297.09 227 297.82 225.76 298.6 225.76C299.33 225.76 300 227.17 300.71 227C301.62 226.77 302.15 225.35 302.82 224.71C303.37 224.19 304.02 223.25 304.76 223.12C305.44 223.01 306.28 223.65 306.87 224C307.61 224.45 308.48 225.22 309.16 225.76C309.8 226.28 310.48 227.29 311.27 227.52C311.9 227.71 312.83 227.35 313.38 227C314.2 226.47 314.94 225.34 315.67 224.71C316.16 224.29 316.79 223.38 317.43 223.48C318.17 223.59 318.46 225.05 319.19 225.24C319.76 225.38 320.44 224.66 320.95 224.36C321.5 224.02 322.08 222.97 322.71 223.12C323.51 223.32 324.03 224.54 324.47 225.24C325.09 226.24 325.7 227.7 326.23 228.76C326.75 229.81 327.33 231.29 327.99 232.27C328.4 232.9 329.01 233.92 329.75 234.03C330.38 234.13 330.93 233.09 331.51 232.8C332 232.56 332.77 232.03 333.27 232.27C334.04 232.66 334.51 233.87 335.02 234.56C335.57 235.29 336.23 236.31 336.78 237.03C337.13 237.47 337.46 238.51 338.02 238.43C338.69 238.34 339.03 237.22 339.42 236.67C339.98 235.9 340.33 234.46 341.18 234.03C341.71 233.77 342.42 234.65 342.94 234.91C343.47 235.18 344.12 235.85 344.7 235.79C345.34 235.73 345.97 234.98 346.46 234.56C347.03 234.08 347.6 233.21 348.22 232.8C348.68 232.5 349.43 232.27 349.98 232.27C350.53 232.27 351.22 232.64 351.74 232.8C352.38 233 353.27 233.18 353.85 233.51C354.61 233.93 355.49 234.69 356.14 235.27C356.87 235.91 357.74 236.87 358.43 237.55C358.96 238.08 359.46 239.16 360.19 239.31C362.36 239.77 365.36 239.44 367.58 239.49" stroke="#e23a32"/>
<path d="M272.21 241.95C272.84 242.74 273.66 243.82 274.32 244.59C274.93 245.3 275.74 246.25 276.43 246.88C277.07 247.47 278.03 248.11 278.72 248.64C279.4 249.17 280.17 250.17 281 250.4C281.63 250.57 282.46 249.87 283.12 249.87C283.92 249.87 284.96 250.53 285.76 250.4C286.64 250.25 287.5 248.92 288.39 248.99C289.22 249.05 289.92 250.17 290.51 250.75C291.25 251.49 292.08 252.62 292.79 253.39C293.45 254.1 294.39 254.99 295.08 255.68C295.71 256.31 296.33 257.54 297.19 257.79C297.85 257.98 298.65 256.7 299.3 256.91C300.23 257.2 300.62 259.2 301.59 259.2C302.56 259.2 302.92 257.02 303.88 256.91C304.7 256.81 305.29 258.23 305.99 258.67C306.57 259.03 307.43 259.68 308.1 259.55C308.95 259.38 309.69 258.29 310.39 257.79C311.16 257.24 312.21 256.52 313.03 256.03C313.8 255.57 314.78 254.47 315.67 254.62C316.7 254.79 317.26 256.98 318.31 256.91C319.43 256.83 319.86 254.54 320.95 254.27C321.73 254.07 322.43 255.74 323.24 255.68C324.06 255.61 324.55 254.12 325.35 253.92C325.99 253.76 326.94 255.04 327.46 254.62C328.58 253.72 328.99 251.62 329.75 250.4C330.36 249.4 331.25 248.11 332.03 247.23C332.58 246.62 333.66 246.14 334.14 245.47C334.84 244.52 335.32 242.98 335.9 241.95C336.38 241.13 337.14 240.1 337.66 239.31" stroke="#e23a32"/>
<path d="M376.39 239.31C382.2 239.21 389.94 239.12 395.75 238.96C397.86 238.9 400.68 238.76 402.79 238.61C404.38 238.5 406.48 238.19 408.07 238.08C409.65 237.98 411.77 238.03 413.35 237.91C415.2 237.76 417.66 237.46 419.51 237.2C421.1 236.98 423.22 236.69 424.78 236.32C426.13 236 427.84 235.26 429.18 234.91C430.49 234.58 432.24 234.03 433.58 234.03C434.93 234.03 436.67 234.6 437.98 234.91C439.58 235.29 441.65 236 443.26 236.32C444.83 236.63 446.95 236.92 448.54 237.03C450.96 237.18 454.21 237.15 456.63 237.2" stroke="#e23a32"/>
<path d="M376.39 239.49C379.03 239.7 382.56 239.93 385.19 240.19C387.31 240.4 390.12 240.83 392.23 241.07C393.81 241.25 395.94 241.35 397.51 241.6C398.58 241.77 399.94 242.48 401.03 242.48C401.86 242.48 402.9 241.93 403.67 241.6C404.49 241.24 405.42 240.35 406.31 240.19C407.87 239.92 410.01 240.08 411.59 240.19C413.71 240.34 416.52 240.79 418.63 241.07C420.48 241.32 422.94 241.67 424.78 241.95C426.37 242.2 428.49 242.49 430.06 242.83C431.4 243.12 433.12 243.8 434.46 244.06C435.77 244.32 437.53 244.59 438.86 244.59C440.19 244.59 441.98 244.41 443.26 244.06C444.38 243.77 445.65 242.75 446.78 242.48C448.33 242.11 450.47 241.9 452.06 241.95C453.46 242 455.26 242.57 456.63 242.83" stroke="#e23a32"/>
<path d="M272.21 233.15C272.73 232.63 273.46 231.95 273.97 231.39C274.52 230.78 275.17 229.89 275.73 229.28C276.23 228.73 276.75 227.63 277.48 227.52C278.12 227.43 278.75 228.34 279.24 228.76C279.81 229.24 280.3 230.27 281 230.51C281.52 230.7 282.23 229.86 282.76 229.99C283.51 230.16 284.21 231.03 284.88 231.39C285.48 231.72 286.4 231.92 286.99 232.27C287.73 232.72 288.66 233.42 289.27 234.03C289.89 234.65 290.23 236 291.03 236.32C291.78 236.62 292.88 235.95 293.67 235.79C294.47 235.64 295.51 235.19 296.31 235.27C297.16 235.35 298.13 236.1 298.95 236.32C299.72 236.53 300.8 236.75 301.59 236.67C302.42 236.59 303.42 236.01 304.23 235.79C305.01 235.59 306.07 235.19 306.87 235.27C307.72 235.35 308.66 236.32 309.51 236.32C310.36 236.32 311.37 235.6 312.15 235.27C312.95 234.92 314.05 234.5 314.79 234.03C315.49 233.59 316.11 232.5 316.9 232.27C317.58 232.08 318.5 232.65 319.19 232.8C319.71 232.92 320.43 233.31 320.95 233.15C321.6 232.96 322.03 231.75 322.71 231.75C323.51 231.75 324.28 232.78 324.99 233.15C325.6 233.47 326.42 233.98 327.11 234.03C327.91 234.09 328.96 233.7 329.75 233.51C330.44 233.33 331.34 232.63 332.03 232.8C332.84 232.99 333.56 233.98 334.14 234.56C334.73 235.14 335.32 236.09 335.9 236.67C336.38 237.15 337.01 238.25 337.66 238.08C338.5 237.87 338.98 236.53 339.42 235.79C340.04 234.78 340.24 232.98 341.18 232.27C341.66 231.92 342.42 232.89 342.94 233.15C343.47 233.42 344.13 234.18 344.7 234.03C345.43 233.85 345.93 232.8 346.46 232.27C346.99 231.75 347.52 230.76 348.22 230.51C348.74 230.33 349.49 230.8 349.98 231.04C350.56 231.33 351.23 231.88 351.74 232.27C352.39 232.78 353.21 233.52 353.85 234.03C354.53 234.57 355.49 235.22 356.14 235.79C356.87 236.44 357.7 237.44 358.43 238.08C358.91 238.5 359.54 239.27 360.19 239.31C365.03 239.65 371.52 239.13 376.38 239.31C377.2 239.34 378.23 239.79 379.02 240.02C379.92 240.27 381.11 240.63 382.01 240.9" stroke="#2b59ad"/>
<path d="M272.21 239.66C275.48 239.82 279.84 240.01 283.12 240.19C287.34 240.43 292.97 240.86 297.19 241.07C300.36 241.23 304.58 241.5 307.75 241.42C310.93 241.34 315.14 240.75 318.31 240.54C322.53 240.27 328.16 240.07 332.39 239.84C333.97 239.75 336.08 239.51 337.66 239.49C344.53 239.4 353.68 239.49 360.54 239.49" stroke="#2b59ad"/>
<path d="M364.43 239.49C368.02 239.49 372.81 239.22 376.39 239.49C377.76 239.59 379.47 240.37 380.79 240.72C381.85 241 383.44 240.96 384.31 241.6C385.15 242.22 385.8 243.59 386.07 244.59C386.71 246.91 386.89 250.14 387.3 252.51C387.58 254.1 387.8 256.28 388.36 257.79C388.52 258.21 389.28 259 389.59 258.67C390.35 257.85 389.76 255.5 390.82 255.15C391.67 254.87 391.86 256.97 392.23 257.79C392.7 258.82 392.5 261.31 393.64 261.31C394.78 261.31 394.77 258.89 395.05 257.79C395.57 255.71 395.79 252.84 396.28 250.75C396.53 249.66 396.39 247.23 397.51 247.23C398.65 247.23 398.64 249.65 398.92 250.75C399.44 252.83 399.62 255.71 400.15 257.79C400.37 258.64 400.57 260.11 401.38 260.43C401.96 260.65 401.9 258.38 402.44 258.67C403.29 259.13 402.75 261.99 403.67 261.66C404.82 261.25 404.68 258.99 404.9 257.79C405.37 255.17 405.62 251.63 405.96 248.99C406.2 247.14 406.4 244.65 406.84 242.83C407.04 241.98 407.39 240.75 408.07 240.19C408.69 239.68 409.9 239.69 410.71 239.66C413.61 239.58 417.49 239.68 420.39 239.84C423.03 239.99 426.55 240.43 429.18 240.72C431.3 240.96 434.1 241.39 436.22 241.6C437.8 241.76 439.92 242.03 441.5 241.95C443.1 241.87 445.18 241.17 446.78 241.07C449.73 240.9 453.68 241.07 456.63 241.07" stroke="#2b59ad"/>
<path d="M408.07 239.31C411.76 239.21 416.69 239.11 420.39 238.96C423.03 238.85 426.54 238.58 429.18 238.43C431.29 238.32 434.11 238.08 436.22 238.08C438.86 238.08 442.38 238.32 445.02 238.43C448.5 238.58 453.15 238.8 456.63 238.96" stroke="#2b59ad"/>
<line x1="336.84" y1="239.1" x2="371.42" y2="239.1" stroke="#2b59ad"/>
</g>
<rect x="272.3" y="208.1" width="184.4" height="62.2" fill="none" stroke="#333" stroke-width="0.65"/>
<line x1="269.7" y1="270.12" x2="272.3" y2="270.12" stroke="#222" stroke-width="0.6"/>
<text transform="translate(268.2 272.12) scale(0.9 1)" font-size="6.04" text-anchor="end" fill="#1a1a1a" stroke="#1a1a1a" stroke-width="0.08">-6</text>
<line x1="269.7" y1="259.78" x2="272.3" y2="259.78" stroke="#222" stroke-width="0.6"/>
<text transform="translate(268.2 261.78) scale(0.9 1)" font-size="6.04" text-anchor="end" fill="#1a1a1a" stroke="#1a1a1a" stroke-width="0.08">-4</text>
<line x1="269.7" y1="249.44" x2="272.3" y2="249.44" stroke="#222" stroke-width="0.6"/>
<text transform="translate(268.2 251.44) scale(0.9 1)" font-size="6.04" text-anchor="end" fill="#1a1a1a" stroke="#1a1a1a" stroke-width="0.08">-2</text>
<line x1="269.7" y1="239.1" x2="272.3" y2="239.1" stroke="#222" stroke-width="0.6"/>
<text transform="translate(268.2 241.1) scale(0.9 1)" font-size="6.04" text-anchor="end" fill="#1a1a1a" stroke="#1a1a1a" stroke-width="0.08">0</text>
<line x1="269.7" y1="228.76" x2="272.3" y2="228.76" stroke="#222" stroke-width="0.6"/>
<text transform="translate(268.2 230.76) scale(0.9 1)" font-size="6.04" text-anchor="end" fill="#1a1a1a" stroke="#1a1a1a" stroke-width="0.08">2</text>
<line x1="269.7" y1="218.42" x2="272.3" y2="218.42" stroke="#222" stroke-width="0.6"/>
<text transform="translate(268.2 220.42) scale(0.9 1)" font-size="6.04" text-anchor="end" fill="#1a1a1a" stroke="#1a1a1a" stroke-width="0.08">4</text>
<line x1="269.7" y1="208.08" x2="272.3" y2="208.08" stroke="#222" stroke-width="0.6"/>
<text transform="translate(268.2 210.08) scale(0.9 1)" font-size="6.04" text-anchor="end" fill="#1a1a1a" stroke="#1a1a1a" stroke-width="0.08">6</text>
<line x1="270.8" y1="264.95" x2="272.3" y2="264.95" stroke="#222" stroke-width="0.6"/>
<line x1="270.8" y1="254.61" x2="272.3" y2="254.61" stroke="#222" stroke-width="0.6"/>
<line x1="270.8" y1="244.27" x2="272.3" y2="244.27" stroke="#222" stroke-width="0.6"/>
<line x1="270.8" y1="233.93" x2="272.3" y2="233.93" stroke="#222" stroke-width="0.6"/>
<line x1="270.8" y1="223.59" x2="272.3" y2="223.59" stroke="#222" stroke-width="0.6"/>
<line x1="270.8" y1="213.25" x2="272.3" y2="213.25" stroke="#222" stroke-width="0.6"/>
<line x1="272.3" y1="270.3" x2="272.3" y2="272.9" stroke="#222" stroke-width="0.6"/>
<line x1="295.35" y1="270.3" x2="295.35" y2="271.8" stroke="#222" stroke-width="0.6"/>
<line x1="318.4" y1="270.3" x2="318.4" y2="272.9" stroke="#222" stroke-width="0.6"/>
<line x1="341.45" y1="270.3" x2="341.45" y2="271.8" stroke="#222" stroke-width="0.6"/>
<line x1="364.5" y1="270.3" x2="364.5" y2="272.9" stroke="#222" stroke-width="0.6"/>
<line x1="387.55" y1="270.3" x2="387.55" y2="271.8" stroke="#222" stroke-width="0.6"/>
<line x1="410.6" y1="270.3" x2="410.6" y2="272.9" stroke="#222" stroke-width="0.6"/>
<line x1="433.65" y1="270.3" x2="433.65" y2="271.8" stroke="#222" stroke-width="0.6"/>
<line x1="456.7" y1="270.3" x2="456.7" y2="272.9" stroke="#222" stroke-width="0.6"/>
<text transform="translate(273.1 215) scale(0.9 1)" font-size="7.22" text-anchor="start" fill="#1a1a1a" stroke="#1a1a1a" stroke-width="0.08">0 GPa</text>
<line x1="414.7" y1="213" x2="429.6" y2="213" stroke="#777" stroke-width="1.1"/>
<text transform="translate(431.4 215.4) scale(0.9 1)" font-size="6.9" text-anchor="start" fill="#1a1a1a" stroke="#1a1a1a" stroke-width="0.08">Zn-s</text>
<line x1="414.7" y1="221.2" x2="429.6" y2="221.2" stroke="#e23a32" stroke-width="0.85"/>
<text transform="translate(431.4 223.6) scale(0.9 1)" font-size="6.9" text-anchor="start" fill="#1a1a1a" stroke="#1a1a1a" stroke-width="0.08">Se-p</text>
<line x1="414.7" y1="229.4" x2="429.6" y2="229.4" stroke="#2b59ad" stroke-width="0.85"/>
<text transform="translate(431.4 231.8) scale(0.9 1)" font-size="6.9" text-anchor="start" fill="#1a1a1a" stroke="#1a1a1a" stroke-width="0.08">Mn-d</text>
<clipPath id="clip-e1"><rect x="272.3" y="275.2" width="184.4" height="62"/></clipPath>
<line x1="364.5" y1="275.2" x2="364.5" y2="337.2" stroke="#4a4a4a" stroke-width="0.6" stroke-dasharray="1.4 1.5"/>
<g clip-path="url(#clip-e1)" fill="none" stroke-width="0.9" stroke-linejoin="round" stroke-linecap="round">
<path d="M272.21 305.43C277.06 305.49 283.54 305.55 288.39 305.61C296.31 305.71 306.87 305.84 314.79 305.96C320.49 306.05 328.09 306.21 333.79 306.31" stroke="#8a8a8a"/>
<path d="M272.21 305.96C277.06 306.07 283.54 306.25 288.39 306.31C296.31 306.41 306.87 306.44 314.79 306.49" stroke="#8a8a8a"/>
<path d="M272.21 307.19C277.06 307.35 283.54 307.62 288.39 307.72C293.67 307.83 300.71 307.98 305.99 307.9C311.27 307.82 318.31 307.46 323.59 307.19C326.65 307.04 330.73 306.7 333.79 306.49" stroke="#151515"/>
<path d="M393.99 306.31C397.16 306.31 401.39 306.47 404.55 306.31C406.67 306.21 409.48 305.7 411.59 305.43C413.7 305.17 416.52 304.85 418.63 304.55C420.22 304.33 422.34 304.01 423.9 303.67C425.51 303.33 427.62 302.75 429.18 302.27C430.52 301.85 432.18 300.79 433.58 300.68C434.92 300.57 436.66 301.32 437.98 301.56C439.3 301.8 441.07 302 442.38 302.27C443.71 302.53 445.45 303.06 446.78 303.32C448.35 303.64 450.47 304 452.06 304.2C453.42 304.37 455.26 304.45 456.63 304.55" stroke="#151515"/>
<path d="M393.99 306.49C397.16 306.49 401.38 306.36 404.55 306.49C406.67 306.57 409.48 306.94 411.59 307.19C413.44 307.42 415.89 307.84 417.75 308.07C419.33 308.27 421.44 308.42 423.02 308.6C424.61 308.79 426.73 309.04 428.3 309.3C429.9 309.57 431.99 310.09 433.58 310.36C435.16 310.62 437.28 310.86 438.86 311.06C440.18 311.23 441.94 311.7 443.26 311.59C444.63 311.48 446.35 310.75 447.66 310.36C448.99 309.96 450.7 309.22 452.06 308.95C453.41 308.69 455.26 308.71 456.63 308.6" stroke="#151515"/>
<path d="M272.21 306.4 L333.79 306.4" stroke="#151515"/>
<path d="M272.21 295.76C272.84 295.49 273.63 294.88 274.32 294.88C275 294.88 275.75 295.82 276.43 295.76C277.07 295.7 277.72 294.97 278.19 294.52C278.68 294.06 278.92 292.69 279.6 292.76C280.42 292.85 280.7 294.37 281.36 294.88C281.9 295.29 282.78 295.81 283.47 295.76C284.24 295.69 284.98 294.61 285.76 294.52C286.47 294.44 287.34 295.39 288.04 295.23C288.84 295.03 289.33 293.54 290.15 293.47C290.91 293.4 291.59 294.52 292.27 294.88C292.92 295.21 293.85 295.97 294.55 295.76C295.48 295.47 295.91 293.73 296.84 293.47C297.52 293.28 298.27 294.32 298.95 294.52C299.72 294.75 300.83 294.62 301.59 294.88C302.44 295.16 303.33 296.28 304.23 296.28C305.13 296.28 306.09 295.32 306.87 294.88C307.57 294.48 308.37 293.31 309.16 293.47C310.07 293.65 310.36 295.53 311.27 295.76C311.98 295.93 312.7 294.8 313.38 294.52C314.04 294.26 315 294.2 315.67 294C316.37 293.78 317.25 292.9 317.96 293.12C318.75 293.36 319.24 294.56 319.72 295.23C320.29 296.04 320.92 297.21 321.48 298.04C321.98 298.8 322.59 299.86 323.24 300.51C323.67 300.94 324.39 301.47 324.99 301.56C325.54 301.64 326.26 301.28 326.75 301.03C327.33 300.75 327.88 299.71 328.51 299.8C329.25 299.91 329.77 301.01 330.27 301.56C330.83 302.17 331.45 303.09 332.03 303.67C332.51 304.15 333.14 304.92 333.79 305.08C334.33 305.21 335.05 304.78 335.55 304.55C336.22 304.25 336.94 303.46 337.66 303.32C338.45 303.18 339.5 303.67 340.3 303.67C341.1 303.67 342.26 303.73 342.94 303.32C343.69 302.88 344.06 301.61 344.7 301.03C345.14 300.64 345.91 300.35 346.46 300.15C346.97 299.98 347.7 299.67 348.22 299.8C348.85 299.96 349.35 300.92 349.98 301.03C350.62 301.15 351.44 300.51 352.09 300.51C352.64 300.51 353.37 300.76 353.85 301.03C354.61 301.46 355.49 302.22 356.14 302.79C356.87 303.44 357.7 304.44 358.43 305.08C358.91 305.5 359.55 306.21 360.19 306.31C362.38 306.65 365.36 306.44 367.58 306.49" stroke="#e23a32"/>
<path d="M272.21 315.11C272.84 315.37 273.64 316.08 274.32 315.99C275.07 315.9 275.67 314.64 276.43 314.58C277.18 314.52 278.1 315.21 278.72 315.64C279.48 316.17 280.33 317.1 281 317.75C281.65 318.37 282.4 319.33 283.12 319.86C283.84 320.4 284.88 321.08 285.76 321.27C286.43 321.42 287.36 320.78 288.04 320.92C288.76 321.06 289.42 322.09 290.15 322.15C290.84 322.21 291.59 321.14 292.27 321.27C293.11 321.44 293.7 322.87 294.55 323.03C295.28 323.17 296.14 321.93 296.84 322.15C297.73 322.43 298.02 324.44 298.95 324.44C299.89 324.44 300.38 322.78 301.06 322.15C301.7 321.56 302.67 320.92 303.35 320.39C304.04 319.86 304.79 318.81 305.64 318.63C306.22 318.5 306.81 319.6 307.4 319.51C308.07 319.41 308.52 317.87 309.16 318.1C310.15 318.46 310.25 320.66 311.27 320.92C312.07 321.12 312.58 319.35 313.38 319.16C314.08 318.99 315.03 320.18 315.67 319.86C316.68 319.36 316.84 317.05 317.96 316.87C318.88 316.72 319.14 319.04 320.07 319.16C320.89 319.26 321.57 317.96 322.18 317.4C322.89 316.74 323.74 315.75 324.47 315.11C325.12 314.54 326.04 313.84 326.75 313.35C327.36 312.94 328.29 312.57 328.87 312.12C329.46 311.66 330.14 310.92 330.63 310.36C331.19 309.71 331.85 308.75 332.39 308.07C332.8 307.54 333.37 306.84 333.79 306.31" stroke="#e23a32"/>
<path d="M393.99 306.31C397.16 306.31 401.38 306.43 404.55 306.31C407.19 306.22 410.71 305.84 413.35 305.61C415.46 305.42 418.28 305.15 420.39 304.91C421.97 304.72 424.09 304.46 425.66 304.2C426.99 303.98 428.75 303.61 430.06 303.32C431.39 303.03 433.11 302.35 434.46 302.27C435.79 302.19 437.54 302.64 438.86 302.79C440.18 302.95 441.94 303.14 443.26 303.32C444.58 303.51 446.33 303.86 447.66 304.03C449.24 304.23 451.35 304.52 452.94 304.55C454.05 304.58 455.53 304.31 456.63 304.2" stroke="#e23a32"/>
<path d="M367.6 306.49C370.24 306.54 373.76 306.43 376.39 306.66C378 306.81 380.06 307.62 381.67 307.72C382.74 307.78 384.13 307.31 385.19 307.19C386.51 307.05 388.27 306.84 389.59 306.84C390.92 306.84 392.72 306.84 393.99 307.19C395.04 307.48 396.08 308.8 397.16 308.95C398.08 309.08 399.27 308.4 400.15 308.07C400.97 307.77 401.92 306.95 402.79 306.84C404.88 306.57 407.72 306.74 409.83 306.84C411.95 306.95 414.75 307.35 416.87 307.54C418.71 307.72 421.18 307.86 423.02 308.07C424.88 308.28 427.34 308.67 429.18 308.95C430.77 309.2 432.87 309.62 434.46 309.83C436.04 310.04 438.16 310.23 439.74 310.36C441.32 310.49 443.44 310.88 445.02 310.71C446.4 310.56 448.08 309.65 449.42 309.3C450.72 308.97 452.47 308.49 453.82 308.42C454.68 308.38 455.79 308.79 456.63 308.95" stroke="#e23a32"/>
<path d="M272.21 298.04C272.73 298.15 273.48 298.17 273.97 298.39C274.66 298.71 275.43 299.4 276.08 299.8C276.7 300.19 277.62 300.58 278.19 301.03C278.95 301.64 279.56 303 280.48 303.32C281.24 303.59 282.31 302.74 283.12 302.79C283.95 302.85 284.92 303.62 285.76 303.67C286.56 303.73 287.59 303.15 288.39 303.15C289.2 303.15 290.24 303.52 291.03 303.67C291.83 303.83 292.87 304.26 293.67 304.2C294.51 304.15 295.48 303.39 296.31 303.32C297.37 303.23 298.77 303.7 299.83 303.67C300.9 303.65 302.28 303.15 303.35 303.15C304.16 303.15 305.19 303.73 305.99 303.67C306.82 303.62 307.89 303.19 308.63 302.79C309.39 302.38 310.26 301.6 310.92 301.03C311.48 300.54 311.95 299.46 312.68 299.27C313.25 299.13 313.85 300.15 314.44 300.15C315.12 300.15 315.89 299.47 316.55 299.27C317.17 299.09 318.03 298.8 318.66 298.92C319.42 299.08 320.27 299.76 320.95 300.15C321.65 300.56 322.45 301.4 323.24 301.56C323.88 301.69 324.72 301.22 325.35 301.03C326.15 300.8 327.16 300.01 327.99 300.15C328.84 300.31 329.6 301.37 330.27 301.91C330.92 302.43 331.7 303.21 332.39 303.67C332.87 304.01 333.56 304.61 334.14 304.55C334.79 304.49 335.39 303.72 335.9 303.32C336.56 302.82 337.23 301.81 338.02 301.56C338.68 301.35 339.61 301.91 340.3 301.91C341.1 301.91 342.26 301.97 342.94 301.56C343.69 301.12 344.09 299.89 344.7 299.27C345.16 298.82 345.85 298.26 346.46 298.04C346.96 297.87 347.76 297.79 348.22 298.04C348.81 298.37 349.11 299.36 349.63 299.8C350.19 300.28 351.07 300.73 351.74 301.03C352.24 301.26 353.01 301.31 353.5 301.56C354.35 302 355.39 302.73 356.14 303.32C356.87 303.9 357.68 304.88 358.43 305.43C358.9 305.78 359.6 306.26 360.19 306.31C362.39 306.53 365.36 306.31 367.58 306.31" stroke="#2b59ad"/>
<path d="M272.21 306.84C275.48 307.1 279.84 307.48 283.12 307.72C286.28 307.95 290.5 308.27 293.67 308.42C295.78 308.53 298.6 308.73 300.71 308.6C302.84 308.47 305.62 307.72 307.75 307.54C311.96 307.19 317.6 307.01 321.83 306.84C325.42 306.7 330.2 306.52 333.79 306.49C341.82 306.42 352.52 306.49 360.54 306.49" stroke="#2b59ad"/>
<path d="M360.56 306.49C362.67 306.49 365.5 306.24 367.6 306.49C368.71 306.62 370.02 307.48 371.12 307.72C372.15 307.95 373.58 308.01 374.63 308.07C375.43 308.12 376.54 307.78 377.27 308.07C377.97 308.35 378.77 309.13 379.03 309.83C379.7 311.59 379.92 314.14 380.27 315.99C380.71 318.36 381.09 321.57 381.67 323.91C381.89 324.76 382.08 326.82 382.91 326.55C383.98 326.19 383.23 323.39 384.31 323.03C385.14 322.75 385.14 324.89 385.54 325.67C385.83 326.22 386.2 327.89 386.6 327.43C387.5 326.39 387.23 324.26 387.83 323.03C388.16 322.36 389.21 321.91 389.59 321.27C390.18 320.29 390.62 318.82 391 317.75C391.41 316.6 391.78 315.01 392.23 313.88C392.52 313.16 392.89 311.06 393.46 311.59C394.46 312.51 394.25 314.66 394.52 315.99C394.94 318.09 395.23 320.95 395.75 323.03C396.03 324.13 396.09 326.17 397.16 326.55C397.96 326.84 397.5 323.44 398.21 323.91C399.26 324.61 398.28 328.72 399.27 327.96C400.68 326.87 400.21 323.91 400.5 322.15C400.9 319.79 401.17 316.6 401.56 314.23C401.86 312.37 402.1 309.82 402.79 308.07C403.04 307.44 403.88 306.77 404.55 306.66C406.63 306.33 409.48 306.61 411.59 306.66C415.28 306.77 420.21 306.95 423.9 307.19C426.55 307.37 430.07 307.78 432.7 308.07C434.82 308.31 437.62 308.74 439.74 308.95C441.32 309.11 443.44 309.44 445.02 309.3C446.64 309.17 448.7 308.36 450.3 308.07C452.19 307.73 454.73 307.46 456.63 307.19" stroke="#2b59ad"/>
<path d="M404.55 306.31C409.3 306.21 415.64 306.2 420.39 305.96C423.03 305.83 426.54 305.32 429.18 305.08C431.29 304.89 434.1 304.55 436.22 304.55C438.34 304.55 441.15 304.95 443.26 305.08C445.37 305.21 448.19 305.38 450.3 305.43C452.2 305.48 454.73 305.43 456.63 305.43" stroke="#2b59ad"/>
<line x1="336.84" y1="306.2" x2="371.42" y2="306.2" stroke="#2b59ad"/>
</g>
<rect x="272.3" y="275.2" width="184.4" height="62" fill="none" stroke="#333" stroke-width="0.65"/>
<line x1="269.7" y1="337.22" x2="272.3" y2="337.22" stroke="#222" stroke-width="0.6"/>
<text transform="translate(268.2 339.22) scale(0.9 1)" font-size="6.04" text-anchor="end" fill="#1a1a1a" stroke="#1a1a1a" stroke-width="0.08">-6</text>
<line x1="269.7" y1="326.88" x2="272.3" y2="326.88" stroke="#222" stroke-width="0.6"/>
<text transform="translate(268.2 328.88) scale(0.9 1)" font-size="6.04" text-anchor="end" fill="#1a1a1a" stroke="#1a1a1a" stroke-width="0.08">-4</text>
<line x1="269.7" y1="316.54" x2="272.3" y2="316.54" stroke="#222" stroke-width="0.6"/>
<text transform="translate(268.2 318.54) scale(0.9 1)" font-size="6.04" text-anchor="end" fill="#1a1a1a" stroke="#1a1a1a" stroke-width="0.08">-2</text>
<line x1="269.7" y1="306.2" x2="272.3" y2="306.2" stroke="#222" stroke-width="0.6"/>
<text transform="translate(268.2 308.2) scale(0.9 1)" font-size="6.04" text-anchor="end" fill="#1a1a1a" stroke="#1a1a1a" stroke-width="0.08">0</text>
<line x1="269.7" y1="295.86" x2="272.3" y2="295.86" stroke="#222" stroke-width="0.6"/>
<text transform="translate(268.2 297.86) scale(0.9 1)" font-size="6.04" text-anchor="end" fill="#1a1a1a" stroke="#1a1a1a" stroke-width="0.08">2</text>
<line x1="269.7" y1="285.52" x2="272.3" y2="285.52" stroke="#222" stroke-width="0.6"/>
<text transform="translate(268.2 287.52) scale(0.9 1)" font-size="6.04" text-anchor="end" fill="#1a1a1a" stroke="#1a1a1a" stroke-width="0.08">4</text>
<line x1="269.7" y1="275.18" x2="272.3" y2="275.18" stroke="#222" stroke-width="0.6"/>
<text transform="translate(268.2 277.18) scale(0.9 1)" font-size="6.04" text-anchor="end" fill="#1a1a1a" stroke="#1a1a1a" stroke-width="0.08">6</text>
<line x1="270.8" y1="332.05" x2="272.3" y2="332.05" stroke="#222" stroke-width="0.6"/>
<line x1="270.8" y1="321.71" x2="272.3" y2="321.71" stroke="#222" stroke-width="0.6"/>
<line x1="270.8" y1="311.37" x2="272.3" y2="311.37" stroke="#222" stroke-width="0.6"/>
<line x1="270.8" y1="301.03" x2="272.3" y2="301.03" stroke="#222" stroke-width="0.6"/>
<line x1="270.8" y1="290.69" x2="272.3" y2="290.69" stroke="#222" stroke-width="0.6"/>
<line x1="270.8" y1="280.35" x2="272.3" y2="280.35" stroke="#222" stroke-width="0.6"/>
<line x1="272.3" y1="337.2" x2="272.3" y2="339.8" stroke="#222" stroke-width="0.6"/>
<line x1="295.35" y1="337.2" x2="295.35" y2="338.7" stroke="#222" stroke-width="0.6"/>
<line x1="318.4" y1="337.2" x2="318.4" y2="339.8" stroke="#222" stroke-width="0.6"/>
<line x1="341.45" y1="337.2" x2="341.45" y2="338.7" stroke="#222" stroke-width="0.6"/>
<line x1="364.5" y1="337.2" x2="364.5" y2="339.8" stroke="#222" stroke-width="0.6"/>
<line x1="387.55" y1="337.2" x2="387.55" y2="338.7" stroke="#222" stroke-width="0.6"/>
<line x1="410.6" y1="337.2" x2="410.6" y2="339.8" stroke="#222" stroke-width="0.6"/>
<line x1="433.65" y1="337.2" x2="433.65" y2="338.7" stroke="#222" stroke-width="0.6"/>
<line x1="456.7" y1="337.2" x2="456.7" y2="339.8" stroke="#222" stroke-width="0.6"/>
<text transform="translate(275.2 282.1) scale(0.9 1)" font-size="7.22" text-anchor="start" fill="#1a1a1a" stroke="#1a1a1a" stroke-width="0.08">9 GPa</text>
<line x1="418.3" y1="279.9" x2="433.2" y2="279.9" stroke="#777" stroke-width="1.1"/>
<text transform="translate(435 282.3) scale(0.9 1)" font-size="6.9" text-anchor="start" fill="#1a1a1a" stroke="#1a1a1a" stroke-width="0.08">Zn-s</text>
<line x1="418.3" y1="287.8" x2="433.2" y2="287.8" stroke="#e23a32" stroke-width="0.85"/>
<text transform="translate(435 290.2) scale(0.9 1)" font-size="6.9" text-anchor="start" fill="#1a1a1a" stroke="#1a1a1a" stroke-width="0.08">Se-p</text>
<line x1="418.3" y1="295.7" x2="433.2" y2="295.7" stroke="#2b59ad" stroke-width="0.85"/>
<text transform="translate(435 298.1) scale(0.9 1)" font-size="6.9" text-anchor="start" fill="#1a1a1a" stroke="#1a1a1a" stroke-width="0.08">Mn-d</text>
<text transform="translate(272.3 345.7) scale(0.9 1)" font-size="6.04" text-anchor="middle" fill="#1a1a1a" stroke="#1a1a1a" stroke-width="0.08">-4</text>
<text transform="translate(318.4 345.7) scale(0.9 1)" font-size="6.04" text-anchor="middle" fill="#1a1a1a" stroke="#1a1a1a" stroke-width="0.08">-2</text>
<text transform="translate(364.5 345.7) scale(0.9 1)" font-size="6.04" text-anchor="middle" fill="#1a1a1a" stroke="#1a1a1a" stroke-width="0.08">0</text>
<text transform="translate(410.6 345.7) scale(0.9 1)" font-size="6.04" text-anchor="middle" fill="#1a1a1a" stroke="#1a1a1a" stroke-width="0.08">2</text>
<text transform="translate(456.7 345.7) scale(0.9 1)" font-size="6.04" text-anchor="middle" fill="#1a1a1a" stroke="#1a1a1a" stroke-width="0.08">4</text>
<text transform="translate(364.5 355.8) scale(0.9 1)" font-size="7.22" text-anchor="middle" fill="#1a1a1a" stroke="#1a1a1a" stroke-width="0.08">Energy (eV)</text>
<text transform="translate(260.7 272.65) rotate(-90) scale(0.9 1)" font-size="7.11" text-anchor="middle" fill="#1a1a1a" stroke="#1a1a1a" stroke-width="0.08">Density of states (States/eV)</text>
<text x="232.2" y="199.4" font-size="21.8" fill="#222">(e)</text>
</g>
<g id="panel-f">
<clipPath id="clip-f0"><rect x="498.8" y="208.3" width="184.4" height="62"/></clipPath>
<line x1="591" y1="208.3" x2="591" y2="270.3" stroke="#888" stroke-width="0.8" stroke-dasharray="1 1"/>
<g clip-path="url(#clip-f0)" fill="none" stroke-width="0.9" stroke-linejoin="round" stroke-linecap="round">
<path d="M498.68 238.96C506.33 238.96 516.54 238.94 524.19 238.96C534.75 238.99 548.83 239.08 559.39 239.14C568.1 239.18 579.71 239.26 588.42 239.31" stroke="#151515"/>
<path d="M498.68 239.66C503.69 239.82 510.38 240.17 515.39 240.19C520.67 240.22 527.71 239.94 532.99 239.84C538.8 239.73 546.54 239.59 552.35 239.49" stroke="#151515"/>
<path d="M624.83 239.49C627.2 239.44 630.37 239.43 632.75 239.31C634.6 239.22 637.06 238.96 638.9 238.78C641.02 238.59 643.84 238.38 645.94 238.08C647.54 237.85 649.65 237.4 651.22 237.03C652.56 236.71 654.26 235.91 655.62 235.79C656.68 235.7 658.09 236.13 659.14 236.32C660.47 236.56 662.22 236.96 663.54 237.2C665.12 237.49 667.22 237.97 668.82 238.08C670.92 238.23 673.75 238.11 675.86 238.08C678.07 238.05 681.03 237.96 683.25 237.91" stroke="#151515"/>
<path d="M591.39 239.49C592.45 239.49 593.86 239.4 594.91 239.49C596.51 239.62 598.61 240.01 600.19 240.19C601.77 240.38 603.89 240.52 605.47 240.72C606.8 240.89 608.55 241.22 609.87 241.42C610.93 241.59 612.33 242.06 613.39 241.95C614.5 241.84 615.82 240.96 616.91 240.72C618.21 240.43 619.98 240.09 621.31 240.19C622.67 240.3 624.35 241.25 625.71 241.42C626.5 241.52 627.58 241.3 628.35 241.07C629.18 240.82 630.12 239.94 630.99 239.84C633.35 239.57 636.53 239.8 638.9 239.84C642.07 239.9 646.3 240.01 649.46 240.19C652.64 240.38 656.88 240.58 660.02 241.07C661.92 241.37 664.26 242.74 666.18 242.83C667.55 242.9 669.23 241.87 670.58 241.6C672.67 241.18 675.49 240.78 677.62 240.54C679.3 240.36 681.56 240.3 683.25 240.19" stroke="#151515"/>
<path d="M498.68 227.88C499.36 228.14 500.28 228.48 500.97 228.76C501.6 229.01 502.4 229.54 503.08 229.63C503.61 229.71 504.34 229.08 504.84 229.28C505.53 229.56 506.04 230.54 506.6 231.04C507.21 231.6 507.96 232.45 508.71 232.8C509.33 233.1 510.31 233.24 511 233.15C511.58 233.08 512.17 232.33 512.76 232.27C513.3 232.22 514.09 232.45 514.51 232.8C515.21 233.39 515.59 234.67 516.27 235.27C516.84 235.76 517.81 236.23 518.56 236.32C519.21 236.4 520.02 235.73 520.67 235.79C521.26 235.85 521.91 236.94 522.43 236.67C523.28 236.25 523.66 234.83 524.19 234.03C524.72 233.24 525.03 231.63 525.95 231.39C526.68 231.21 527.1 232.73 527.71 233.15C528.28 233.54 529.19 233.78 529.82 234.03C530.51 234.31 531.44 235.21 532.11 234.91C532.98 234.53 533.29 233.03 533.87 232.27C534.19 231.86 534.59 230.95 535.1 231.04C535.84 231.17 536.2 232.46 536.86 232.8C537.48 233.12 538.46 233.15 539.15 233.15C539.95 233.15 540.99 232.74 541.79 232.8C542.45 232.85 543.32 233.18 543.9 233.51C544.66 233.93 545.5 234.74 546.19 235.27C546.87 235.79 547.63 236.82 548.48 237.03C549.12 237.18 549.94 236.49 550.59 236.32C551.37 236.12 552.43 235.95 553.23 235.79C554.02 235.64 555.06 235.19 555.87 235.27C556.71 235.35 557.68 236.1 558.51 236.32C559.28 236.53 560.35 236.57 561.14 236.67C561.94 236.78 562.99 237.08 563.78 237.03C564.6 236.97 565.68 236.67 566.42 236.32C567.29 235.92 568.32 235.16 569.06 234.56C569.65 234.1 570.24 233.27 570.82 232.8C571.3 232.42 571.97 231.67 572.58 231.75C573.14 231.81 573.48 232.71 573.81 233.15C574.27 233.76 574.66 234.76 575.22 235.27C575.75 235.74 576.66 236.1 577.33 236.32C578.26 236.63 579.55 236.82 580.5 237.03C581.29 237.19 582.36 237.35 583.14 237.55C583.95 237.77 584.99 238.17 585.78 238.43C586.57 238.7 587.59 239.21 588.42 239.31C590.25 239.53 592.73 239.44 594.58 239.49" stroke="#e23a32"/>
<path d="M498.68 244.59C499.47 244.59 500.55 244.41 501.32 244.59C502.17 244.79 503.18 245.43 503.96 245.82C504.76 246.22 505.72 247.06 506.6 247.23C507.38 247.39 508.44 246.88 509.24 246.88C510.03 246.88 511.18 246.84 511.88 247.23C512.85 247.78 513.72 249.08 514.51 249.87C515.31 250.66 516.21 251.91 517.15 252.51C517.7 252.85 518.79 252.43 519.27 252.86C520.07 253.59 520.41 255.14 521.03 256.03C521.37 256.52 521.86 257.6 522.43 257.44C523.27 257.21 523.74 255.89 524.19 255.15C524.8 254.14 525.37 252.66 525.95 251.63C526.42 250.8 527.08 249.71 527.71 248.99C528.26 248.37 529.02 247.41 529.82 247.23C530.4 247.1 531.08 247.81 531.58 248.11C532.14 248.44 532.72 249.5 533.34 249.34C534.14 249.14 534.44 247.72 535.1 247.23C535.69 246.79 536.67 246.49 537.39 246.35C538.06 246.22 539.04 246.1 539.68 246.35C540.44 246.66 541.24 247.49 541.79 248.11C542.52 248.93 543.17 250.28 543.9 251.1C544.35 251.61 545.17 252.97 545.66 252.51C546.67 251.56 546.68 249.44 547.07 248.11C547.53 246.54 547.87 244.35 548.48 242.83C548.83 241.95 549.56 240.87 550.24 240.19C550.65 239.78 551.47 239.58 551.99 239.31" stroke="#e23a32"/>
<path d="M624.83 239.49C627.2 239.44 630.38 239.47 632.75 239.31C635.13 239.15 638.29 238.68 640.66 238.43C642.77 238.21 645.6 238.03 647.7 237.73C649.3 237.5 651.39 236.93 652.98 236.67C654.29 236.46 656.05 236.15 657.38 236.15C658.71 236.15 660.46 236.48 661.78 236.67C663.37 236.9 665.46 237.37 667.06 237.55C669.16 237.79 671.98 238.02 674.1 238.08C675.68 238.13 677.79 238 679.38 237.91C680.54 237.84 682.09 237.66 683.25 237.55" stroke="#e23a32"/>
<path d="M591.39 239.49C592.45 239.49 593.86 239.42 594.91 239.49C597.03 239.63 599.84 239.96 601.95 240.19C604.07 240.43 606.87 240.86 608.99 241.07C610.57 241.23 612.69 241.58 614.27 241.42C615.38 241.31 616.67 240.29 617.79 240.19C619.11 240.07 620.9 240.38 622.19 240.72C623.31 241.02 624.56 242.18 625.71 242.3C626.64 242.4 627.85 241.81 628.7 241.42C629.61 241.01 630.53 239.8 631.51 239.66C634.24 239.3 637.92 239.72 640.66 239.84C643.84 239.98 648.06 240.29 651.22 240.54C653.87 240.76 657.39 241.1 660.02 241.42C661.61 241.62 663.69 242.33 665.3 242.3C666.91 242.28 668.98 241.45 670.58 241.25C672.68 240.98 675.5 240.81 677.62 240.72C679.3 240.65 681.56 240.72 683.25 240.72" stroke="#e23a32"/>
<path d="M498.68 222.6C499.21 223.39 499.84 224.49 500.44 225.24C500.9 225.82 501.46 226.88 502.2 227C502.83 227.09 503.32 225.67 503.96 225.76C504.7 225.87 505.32 226.89 505.72 227.52C506.39 228.61 506.87 230.27 507.48 231.39C507.93 232.23 508.64 233.29 509.24 234.03C509.7 234.62 510.33 235.45 511 235.79C511.71 236.17 512.84 236.19 513.63 236.32C514.42 236.45 515.48 236.57 516.27 236.67C517.07 236.78 518.11 237.03 518.91 237.03C519.71 237.03 520.84 237.03 521.55 236.67C522.39 236.26 523.27 235.3 523.84 234.56C524.5 233.7 524.66 231.95 525.6 231.39C526.08 231.11 526.41 232.43 526.83 232.8C527.32 233.23 528.06 233.66 528.59 234.03C529.12 234.4 529.76 235.01 530.35 235.27C531 235.55 531.96 235.98 532.64 235.79C533.43 235.57 534.12 234.56 534.75 234.03C535.38 233.51 536.25 232.83 536.86 232.27C537.41 231.77 538.08 231.03 538.62 230.51C539.03 230.13 539.48 229.19 540.03 229.28C540.77 229.41 541.22 230.56 541.79 231.04C542.28 231.46 543.02 231.9 543.55 232.27C544.08 232.64 544.82 233.09 545.31 233.51C545.88 233.99 546.35 235.05 547.07 235.27C547.61 235.43 548.39 234.93 548.83 234.56C549.49 234 550.08 232.98 550.59 232.27C551.14 231.5 551.76 230.38 552.35 229.63C552.71 229.16 553.16 228.16 553.75 228.23C554.5 228.31 555.02 229.42 555.51 229.99C556.08 230.64 556.71 231.62 557.27 232.27C557.76 232.84 558.44 233.58 559.03 234.03C559.61 234.48 560.48 234.96 561.14 235.27C561.65 235.49 562.36 235.85 562.9 235.79C563.49 235.73 564.08 235 564.66 234.91C565.2 234.83 565.9 235.4 566.42 235.27C567.05 235.11 567.69 234.45 568.18 234.03C568.75 233.55 569.42 232.8 569.94 232.27C570.47 231.75 570.98 230.71 571.7 230.51C572.18 230.38 572.8 231.01 573.11 231.39C573.67 232.1 574.01 233.29 574.52 234.03C574.92 234.62 575.54 235.35 576.1 235.79C576.57 236.16 577.31 236.45 577.86 236.67C578.64 236.98 579.69 237.34 580.5 237.55C581.28 237.76 582.35 237.9 583.14 238.08C583.94 238.27 584.98 238.6 585.78 238.78C586.57 238.97 587.61 239.26 588.42 239.31C590.26 239.42 592.73 239.31 594.58 239.31" stroke="#2b59ad"/>
<path d="M498.68 239.66C501.05 239.72 504.22 239.7 506.6 239.84C508.71 239.97 511.54 240.19 513.63 240.54C515.25 240.82 517.33 241.52 518.91 241.95C520.24 242.31 521.94 243.18 523.31 243.18C524.43 243.18 525.74 242.19 526.83 241.95C528.13 241.66 529.91 241.54 531.23 241.42C532.81 241.28 534.92 241.07 536.51 241.07C538.1 241.07 540.21 241.27 541.79 241.42C542.85 241.53 544.25 242.07 545.31 241.95C546.18 241.85 547.15 241.07 547.95 240.72C548.73 240.38 549.76 239.86 550.59 239.66C551.36 239.48 552.43 239.49 553.23 239.49C565.63 239.44 582.17 239.49 594.58 239.49" stroke="#2b59ad"/>
<path d="M591.39 239.49C592.45 239.49 593.88 239.28 594.91 239.49C595.77 239.66 596.87 240.17 597.55 240.72C598.49 241.47 599.37 242.84 600.19 243.71C600.96 244.53 601.9 245.73 602.83 246.35C603.53 246.81 604.82 246.71 605.47 247.23C606.21 247.83 606.88 248.99 607.23 249.87C607.94 251.65 608.43 254.19 608.99 256.03C609.48 257.62 610.18 259.74 610.75 261.31C611.24 262.64 611.81 264.47 612.51 265.71C612.79 266.2 613.51 267.32 613.92 266.94C614.82 266.09 615.07 264.28 615.33 263.07C615.98 259.93 616.38 255.67 616.91 252.51C617.28 250.28 617.69 247.29 618.32 245.12C618.5 244.5 619.05 242.96 619.55 243.36C620.51 244.13 620.62 246.04 620.96 247.23C621.47 249.06 621.88 251.56 622.36 253.39C622.78 254.99 623.39 257.11 623.95 258.67C624.29 259.6 624.57 261.06 625.36 261.66C625.77 261.98 626.7 261.42 626.94 260.96C627.66 259.6 628.02 257.53 628.35 256.03C628.86 253.67 629.31 250.48 629.75 248.11C630.1 246.26 630.35 243.72 630.99 241.95C631.27 241.18 631.95 240.07 632.75 239.84C634.52 239.33 637.06 239.63 638.9 239.66C642.08 239.73 646.3 239.96 649.46 240.19C652.11 240.39 655.64 240.68 658.26 241.07C659.87 241.31 662 241.79 663.54 242.3C664.39 242.59 665.28 243.71 666.18 243.71C667.08 243.71 667.97 242.59 668.82 242.3C670.36 241.79 672.5 241.39 674.1 241.07C675.67 240.76 677.79 240.41 679.38 240.19C680.53 240.04 682.09 239.95 683.25 239.84" stroke="#2b59ad"/>
<path d="M632.75 239.31C636.18 239.15 640.75 238.99 644.18 238.78C646.83 238.62 650.34 238.2 652.98 238.08C655.09 237.99 657.91 238.03 660.02 238.08C662.13 238.13 664.95 238.34 667.06 238.43C669.7 238.55 673.22 238.73 675.86 238.78C678.07 238.83 681.03 238.78 683.25 238.78" stroke="#2b59ad"/>
<line x1="561.03" y1="239.2" x2="597.91" y2="239.2" stroke="#2b59ad"/>
</g>
<rect x="498.8" y="208.3" width="184.4" height="62" fill="none" stroke="#333" stroke-width="0.65"/>
<line x1="496.2" y1="263.92" x2="498.8" y2="263.92" stroke="#222" stroke-width="0.6"/>
<text transform="translate(494.7 265.92) scale(0.9 1)" font-size="6.04" text-anchor="end" fill="#1a1a1a" stroke="#1a1a1a" stroke-width="0.08">-4</text>
<line x1="496.2" y1="251.56" x2="498.8" y2="251.56" stroke="#222" stroke-width="0.6"/>
<text transform="translate(494.7 253.56) scale(0.9 1)" font-size="6.04" text-anchor="end" fill="#1a1a1a" stroke="#1a1a1a" stroke-width="0.08">-2</text>
<line x1="496.2" y1="239.2" x2="498.8" y2="239.2" stroke="#222" stroke-width="0.6"/>
<text transform="translate(494.7 241.2) scale(0.9 1)" font-size="6.04" text-anchor="end" fill="#1a1a1a" stroke="#1a1a1a" stroke-width="0.08">0</text>
<line x1="496.2" y1="226.84" x2="498.8" y2="226.84" stroke="#222" stroke-width="0.6"/>
<text transform="translate(494.7 228.84) scale(0.9 1)" font-size="6.04" text-anchor="end" fill="#1a1a1a" stroke="#1a1a1a" stroke-width="0.08">2</text>
<line x1="496.2" y1="214.48" x2="498.8" y2="214.48" stroke="#222" stroke-width="0.6"/>
<text transform="translate(494.7 216.48) scale(0.9 1)" font-size="6.04" text-anchor="end" fill="#1a1a1a" stroke="#1a1a1a" stroke-width="0.08">4</text>
<line x1="497.3" y1="257.74" x2="498.8" y2="257.74" stroke="#222" stroke-width="0.6"/>
<line x1="497.3" y1="245.38" x2="498.8" y2="245.38" stroke="#222" stroke-width="0.6"/>
<line x1="497.3" y1="233.02" x2="498.8" y2="233.02" stroke="#222" stroke-width="0.6"/>
<line x1="497.3" y1="220.66" x2="498.8" y2="220.66" stroke="#222" stroke-width="0.6"/>
<line x1="498.8" y1="270.3" x2="498.8" y2="272.9" stroke="#222" stroke-width="0.6"/>
<line x1="521.85" y1="270.3" x2="521.85" y2="271.8" stroke="#222" stroke-width="0.6"/>
<line x1="544.9" y1="270.3" x2="544.9" y2="272.9" stroke="#222" stroke-width="0.6"/>
<line x1="567.95" y1="270.3" x2="567.95" y2="271.8" stroke="#222" stroke-width="0.6"/>
<line x1="591" y1="270.3" x2="591" y2="272.9" stroke="#222" stroke-width="0.6"/>
<line x1="614.05" y1="270.3" x2="614.05" y2="271.8" stroke="#222" stroke-width="0.6"/>
<line x1="637.1" y1="270.3" x2="637.1" y2="272.9" stroke="#222" stroke-width="0.6"/>
<line x1="660.15" y1="270.3" x2="660.15" y2="271.8" stroke="#222" stroke-width="0.6"/>
<line x1="683.2" y1="270.3" x2="683.2" y2="272.9" stroke="#222" stroke-width="0.6"/>
<text transform="translate(502.9 215.2) scale(0.9 1)" font-size="7.22" text-anchor="start" fill="#1a1a1a" stroke="#1a1a1a" stroke-width="0.08">0 GPa</text>
<line x1="645.4" y1="213.5" x2="660.3" y2="213.5" stroke="#151515" stroke-width="0.85"/>
<text transform="translate(662.1 215.9) scale(0.9 1)" font-size="6.9" text-anchor="start" fill="#1a1a1a" stroke="#1a1a1a" stroke-width="0.08">Zn-s</text>
<line x1="645.4" y1="221.7" x2="660.3" y2="221.7" stroke="#e23a32" stroke-width="0.85"/>
<text transform="translate(662.1 224.1) scale(0.9 1)" font-size="6.9" text-anchor="start" fill="#1a1a1a" stroke="#1a1a1a" stroke-width="0.08">Se-p</text>
<line x1="645.4" y1="229.9" x2="660.3" y2="229.9" stroke="#2b59ad" stroke-width="0.85"/>
<text transform="translate(662.1 232.3) scale(0.9 1)" font-size="6.9" text-anchor="start" fill="#1a1a1a" stroke="#1a1a1a" stroke-width="0.08">Mn-d</text>
<clipPath id="clip-f1"><rect x="498.8" y="275.4" width="184.4" height="61.8"/></clipPath>
<line x1="591" y1="275.4" x2="591" y2="337.2" stroke="#888" stroke-width="0.8" stroke-dasharray="1 1"/>
<g clip-path="url(#clip-f1)" fill="none" stroke-width="0.9" stroke-linejoin="round" stroke-linecap="round">
<path d="M498.68 305.96C506.33 305.96 516.54 305.94 524.19 305.96C534.75 305.99 548.83 306.08 559.39 306.14C569.15 306.19 582.17 306.26 591.94 306.31" stroke="#151515"/>
<path d="M498.68 306.66C503.69 306.82 510.38 307.17 515.39 307.19C520.67 307.22 527.71 306.95 532.99 306.84C537.85 306.74 544.32 306.59 549.18 306.49" stroke="#151515"/>
<path d="M624.83 306.49C626.94 306.44 629.76 306.41 631.87 306.31C634.51 306.2 638.03 305.99 640.66 305.78C642.78 305.62 645.59 305.27 647.7 305.08C649.81 304.9 652.64 304.79 654.74 304.55C656.34 304.37 658.42 303.73 660.02 303.67C661.35 303.63 663.09 304.2 664.42 304.2C665.23 304.2 666.25 303.64 667.06 303.67C668.66 303.74 670.74 304.37 672.34 304.55C673.91 304.74 676.03 304.85 677.62 304.91C679.3 304.96 681.56 304.91 683.25 304.91" stroke="#151515"/>
<path d="M591.39 306.49C591.66 306.49 592.01 306.47 592.27 306.49C594.65 306.68 597.82 307 600.19 307.19C602.3 307.37 605.13 307.49 607.23 307.72C608.56 307.86 610.3 308.51 611.63 308.42C612.75 308.35 614.04 307.33 615.15 307.19C616.98 306.96 619.47 306.98 621.31 307.19C622.67 307.35 624.34 308.32 625.71 308.42C626.52 308.49 627.57 307.98 628.35 307.72C629.16 307.45 630.14 306.74 630.99 306.66C633.88 306.42 637.76 306.59 640.66 306.66C643.83 306.75 648.06 307.02 651.22 307.19C653.86 307.34 657.39 307.49 660.02 307.72C662.14 307.91 664.95 308.33 667.06 308.6C668.64 308.8 670.74 309.38 672.34 309.3C673.96 309.22 676.02 308.38 677.62 308.07C679.3 307.75 681.56 307.46 683.25 307.19" stroke="#151515"/>
<path d="M498.68 297.51C499.36 297.78 500.36 297.98 500.97 298.39C501.71 298.9 502.23 300.22 503.08 300.51C503.71 300.72 504.53 299.72 505.19 299.8C505.96 299.9 506.81 300.63 507.48 301.03C508.29 301.53 509.24 302.42 510.12 302.79C510.86 303.11 511.95 303.32 512.76 303.32C513.56 303.32 514.59 302.74 515.39 302.79C516.23 302.85 517.22 303.88 518.03 303.67C518.94 303.45 519.75 302.3 520.32 301.56C520.98 300.7 521.07 298.8 522.08 298.39C522.77 298.12 523.21 299.76 523.84 300.15C524.51 300.57 525.57 300.76 526.3 301.03C526.99 301.29 527.91 302.18 528.59 301.91C529.57 301.54 529.91 299.66 530.88 299.27C531.52 299.02 532.39 299.83 532.99 300.15C533.66 300.52 534.38 301.32 535.1 301.56C536.01 301.86 537.31 301.91 538.27 301.91C539.33 301.91 540.74 301.43 541.79 301.56C542.9 301.7 544.28 302.35 545.31 302.79C546.13 303.15 547.05 304.11 547.95 304.2C548.78 304.28 549.77 303.51 550.59 303.32C551.63 303.08 553.04 302.79 554.11 302.79C555.17 302.79 556.57 303.14 557.63 303.32C558.69 303.51 560.07 303.97 561.14 304.03C562.2 304.08 563.62 303.86 564.66 303.67C565.74 303.49 567.15 303.15 568.18 302.79C569.01 302.51 570.05 301.97 570.82 301.56C571.53 301.18 572.37 300.48 573.11 300.15C573.6 299.94 574.4 299.54 574.87 299.8C575.54 300.17 575.77 301.35 576.28 301.91C576.83 302.52 577.64 303.34 578.39 303.67C579.22 304.05 580.48 304.08 581.38 304.2C582.43 304.34 583.85 304.37 584.9 304.55C585.97 304.74 587.37 305.14 588.42 305.43C589.48 305.73 590.88 306.17 591.94 306.49" stroke="#e23a32"/>
<path d="M498.68 312.47C499.47 312.89 500.43 313.73 501.32 313.88C502.11 314.01 503.16 313.24 503.96 313.35C504.82 313.47 505.87 314.1 506.6 314.58C507.47 315.16 508.43 316.21 509.24 316.87C509.9 317.42 510.66 318.63 511.52 318.63C512.35 318.63 512.82 316.76 513.63 316.87C514.49 316.99 514.82 318.51 515.39 319.16C515.99 319.83 516.75 320.79 517.51 321.27C517.96 321.56 518.84 321.94 519.27 321.62C520.1 321 520.53 319.55 521.03 318.63C521.59 317.59 522.11 316.08 522.78 315.11C523.34 314.31 524.12 313.01 525.07 312.82C525.86 312.67 526.65 313.86 527.36 314.23C527.97 314.55 528.81 315.31 529.47 315.11C530.48 314.81 531.22 313.37 532.11 312.82C532.72 312.45 533.69 312.03 534.4 312.12C535.13 312.21 535.95 312.88 536.51 313.35C537.23 313.95 537.93 315.01 538.62 315.64C539.26 316.23 540.17 316.95 540.91 317.4C541.39 317.69 542.25 318.48 542.67 318.1C543.62 317.25 544.02 315.44 544.43 314.23C544.92 312.79 545.06 310.71 545.66 309.3C545.98 308.55 546.79 307.73 547.42 307.19C547.87 306.81 548.65 306.58 549.18 306.31" stroke="#e23a32"/>
<path d="M624.83 306.49C626.94 306.44 629.76 306.42 631.87 306.31C635.04 306.15 639.26 305.83 642.42 305.61C644.54 305.46 647.36 305.29 649.46 305.08C651.58 304.87 654.39 304.44 656.5 304.2C658.08 304.02 660.19 303.82 661.78 303.67C663.1 303.55 664.86 303.24 666.18 303.32C667.52 303.4 669.25 304.01 670.58 304.2C672.15 304.43 674.27 304.68 675.86 304.73C678.07 304.79 681.03 304.61 683.25 304.55" stroke="#e23a32"/>
<path d="M591.39 306.49C591.66 306.49 592.01 306.48 592.27 306.49C595.18 306.63 599.05 306.79 601.95 307.02C603.81 307.16 606.28 307.42 608.11 307.72C609.19 307.9 610.55 308.68 611.63 308.6C612.76 308.52 614.02 307.3 615.15 307.19C617 307.02 619.51 307.27 621.31 307.72C622.73 308.08 624.25 309.76 625.71 309.83C626.66 309.88 627.53 308.56 628.35 308.07C629.12 307.61 630.09 306.74 630.99 306.66C634.4 306.37 638.99 306.7 642.42 306.84C645.6 306.97 649.81 307.34 652.98 307.54C655.62 307.71 659.15 307.82 661.78 308.07C663.64 308.25 666.07 308.87 667.94 308.95C669.52 309.03 671.64 308.73 673.22 308.6C674.8 308.47 676.91 308.16 678.5 308.07C679.92 308 681.82 308.07 683.25 308.07" stroke="#e23a32"/>
<path d="M498.68 294C499.21 294.26 499.97 294.52 500.44 294.88C501.03 295.32 501.76 296.03 502.2 296.63C502.83 297.52 503.42 298.86 503.96 299.8C504.47 300.71 505.05 301.99 505.72 302.79C506.13 303.29 506.84 303.95 507.48 304.03C508.29 304.12 509.3 303.29 510.12 303.32C510.95 303.35 511.94 304.01 512.76 304.2C513.53 304.38 514.6 304.63 515.39 304.55C516.23 304.47 517.28 304.02 518.03 303.67C518.76 303.33 519.74 302.82 520.32 302.27C520.98 301.64 521.22 300.1 522.08 299.8C522.69 299.59 523.3 300.69 523.84 301.03C524.46 301.43 525.26 302.01 525.95 302.27C526.71 302.55 527.79 302.85 528.59 302.79C529.42 302.74 530.48 302.29 531.23 301.91C532.08 301.49 533.12 300.74 533.87 300.15C534.61 299.58 535.42 298.62 536.16 298.04C536.64 297.66 537.31 296.88 537.92 296.99C538.73 297.13 539.29 298.39 540.03 298.75C540.76 299.1 541.91 299 542.67 299.27C543.4 299.54 544.29 300.11 544.96 300.51C545.61 300.9 546.31 301.83 547.07 301.91C547.9 302.01 549.01 301.49 549.71 301.03C550.52 300.51 551.34 299.46 551.99 298.75C552.55 298.14 553.13 297.17 553.75 296.63C554.2 296.25 554.99 295.49 555.51 295.76C556.37 296.18 556.75 297.6 557.27 298.39C557.8 299.19 558.33 300.39 559.03 301.03C559.54 301.5 560.48 301.74 561.14 301.91C561.92 302.11 562.99 302.27 563.78 302.27C564.58 302.27 565.67 302.17 566.42 301.91C567.28 301.63 568.26 300.91 569.06 300.51C569.84 300.12 570.94 299.7 571.7 299.27C572.27 298.96 572.82 298.04 573.46 298.04C574.11 298.04 574.84 298.76 575.22 299.27C575.82 300.07 576.01 301.49 576.63 302.27C577.11 302.86 578.04 303.39 578.74 303.67C579.49 303.98 580.59 304.04 581.38 304.2C582.44 304.41 583.85 304.67 584.9 304.91C585.96 305.14 587.36 305.55 588.42 305.78C589.47 306.02 590.88 306.28 591.94 306.49" stroke="#2b59ad"/>
<path d="M498.68 306.66C501.05 306.82 504.24 306.85 506.6 307.19C508.22 307.43 510.29 308.17 511.88 308.6C513.2 308.96 514.91 309.68 516.27 309.83C517.33 309.95 518.76 309.71 519.79 309.48C521.15 309.18 522.82 308.22 524.19 308.07C525.77 307.9 527.89 308.48 529.47 308.42C531.07 308.37 533.15 307.72 534.75 307.72C536.35 307.72 538.44 308.27 540.03 308.42C541.08 308.53 542.51 308.81 543.55 308.6C544.43 308.42 545.35 307.53 546.19 307.19C546.95 306.89 548.01 306.5 548.83 306.49C562.02 306.29 579.62 306.49 592.82 306.49" stroke="#2b59ad"/>
<path d="M591.39 306.49C591.66 306.49 592.03 306.38 592.27 306.49C593.12 306.87 594.25 307.43 594.91 308.07C595.86 308.99 596.69 310.59 597.55 311.59C598.28 312.44 599.19 313.73 600.19 314.23C600.9 314.59 602.21 313.74 602.83 314.23C603.75 314.97 604.11 316.67 604.59 317.75C605.17 319.05 605.72 320.88 606.35 322.15C606.78 323 607.77 323.9 608.11 324.79C608.69 326.31 608.77 328.55 609.34 330.07C609.58 330.7 610.18 332.19 610.75 331.83C611.71 331.22 611.9 329.42 612.16 328.31C612.75 325.7 613.08 322.14 613.57 319.51C613.98 317.28 614.48 314.29 615.15 312.12C615.39 311.35 615.77 309.99 616.56 309.83C617.19 309.71 617.54 311 617.79 311.59C618.44 313.13 618.93 315.32 619.55 316.87C619.99 317.97 620.72 319.37 621.31 320.39C621.78 321.22 622.6 322.2 623.07 323.03C623.65 324.05 624.25 325.52 624.83 326.55C625.15 327.11 625.67 328.82 626.06 328.31C627.04 327 627.15 324.64 627.47 323.03C627.94 320.67 628.26 317.47 628.7 315.11C629.05 313.25 629.43 310.72 630.11 308.95C630.4 308.18 631.06 307.02 631.87 306.84C634.45 306.28 638.02 306.61 640.66 306.66C643.31 306.72 646.83 306.98 649.46 307.19C652.11 307.4 655.62 307.84 658.26 308.07C660.37 308.26 663.2 308.36 665.3 308.6C666.89 308.78 668.97 309.48 670.58 309.48C671.92 309.48 673.66 308.86 674.98 308.6C676.3 308.34 678.05 307.95 679.38 307.72C680.53 307.52 682.09 307.35 683.25 307.19" stroke="#2b59ad"/>
<path d="M631.87 306.31C635.56 306.15 640.49 306 644.18 305.78C646.83 305.63 650.34 305.22 652.98 305.08C655.35 304.96 658.52 304.91 660.9 304.91C663.28 304.91 666.44 305.01 668.82 305.08C671.46 305.16 674.98 305.3 677.62 305.43C679.31 305.52 681.56 305.68 683.25 305.78" stroke="#2b59ad"/>
<line x1="561.03" y1="306.2" x2="597.91" y2="306.2" stroke="#2b59ad"/>
</g>
<rect x="498.8" y="275.4" width="184.4" height="61.8" fill="none" stroke="#333" stroke-width="0.65"/>
<line x1="496.2" y1="330.92" x2="498.8" y2="330.92" stroke="#222" stroke-width="0.6"/>
<text transform="translate(494.7 332.92) scale(0.9 1)" font-size="6.04" text-anchor="end" fill="#1a1a1a" stroke="#1a1a1a" stroke-width="0.08">-4</text>
<line x1="496.2" y1="318.56" x2="498.8" y2="318.56" stroke="#222" stroke-width="0.6"/>
<text transform="translate(494.7 320.56) scale(0.9 1)" font-size="6.04" text-anchor="end" fill="#1a1a1a" stroke="#1a1a1a" stroke-width="0.08">-2</text>
<line x1="496.2" y1="306.2" x2="498.8" y2="306.2" stroke="#222" stroke-width="0.6"/>
<text transform="translate(494.7 308.2) scale(0.9 1)" font-size="6.04" text-anchor="end" fill="#1a1a1a" stroke="#1a1a1a" stroke-width="0.08">0</text>
<line x1="496.2" y1="293.84" x2="498.8" y2="293.84" stroke="#222" stroke-width="0.6"/>
<text transform="translate(494.7 295.84) scale(0.9 1)" font-size="6.04" text-anchor="end" fill="#1a1a1a" stroke="#1a1a1a" stroke-width="0.08">2</text>
<line x1="496.2" y1="281.48" x2="498.8" y2="281.48" stroke="#222" stroke-width="0.6"/>
<text transform="translate(494.7 283.48) scale(0.9 1)" font-size="6.04" text-anchor="end" fill="#1a1a1a" stroke="#1a1a1a" stroke-width="0.08">4</text>
<line x1="497.3" y1="324.74" x2="498.8" y2="324.74" stroke="#222" stroke-width="0.6"/>
<line x1="497.3" y1="312.38" x2="498.8" y2="312.38" stroke="#222" stroke-width="0.6"/>
<line x1="497.3" y1="300.02" x2="498.8" y2="300.02" stroke="#222" stroke-width="0.6"/>
<line x1="497.3" y1="287.66" x2="498.8" y2="287.66" stroke="#222" stroke-width="0.6"/>
<line x1="498.8" y1="337.2" x2="498.8" y2="339.8" stroke="#222" stroke-width="0.6"/>
<line x1="521.85" y1="337.2" x2="521.85" y2="338.7" stroke="#222" stroke-width="0.6"/>
<line x1="544.9" y1="337.2" x2="544.9" y2="339.8" stroke="#222" stroke-width="0.6"/>
<line x1="567.95" y1="337.2" x2="567.95" y2="338.7" stroke="#222" stroke-width="0.6"/>
<line x1="591" y1="337.2" x2="591" y2="339.8" stroke="#222" stroke-width="0.6"/>
<line x1="614.05" y1="337.2" x2="614.05" y2="338.7" stroke="#222" stroke-width="0.6"/>
<line x1="637.1" y1="337.2" x2="637.1" y2="339.8" stroke="#222" stroke-width="0.6"/>
<line x1="660.15" y1="337.2" x2="660.15" y2="338.7" stroke="#222" stroke-width="0.6"/>
<line x1="683.2" y1="337.2" x2="683.2" y2="339.8" stroke="#222" stroke-width="0.6"/>
<text transform="translate(501.6 282.3) scale(0.9 1)" font-size="7.22" text-anchor="start" fill="#1a1a1a" stroke="#1a1a1a" stroke-width="0.08">8 GPa</text>
<line x1="644.8" y1="279.8" x2="659.7" y2="279.8" stroke="#151515" stroke-width="0.85"/>
<text transform="translate(661.5 282.2) scale(0.9 1)" font-size="6.9" text-anchor="start" fill="#1a1a1a" stroke="#1a1a1a" stroke-width="0.08">Zn-s</text>
<line x1="644.8" y1="287.7" x2="659.7" y2="287.7" stroke="#e23a32" stroke-width="0.85"/>
<text transform="translate(661.5 290.1) scale(0.9 1)" font-size="6.9" text-anchor="start" fill="#1a1a1a" stroke="#1a1a1a" stroke-width="0.08">Se-p</text>
<line x1="644.8" y1="295.6" x2="659.7" y2="295.6" stroke="#2b59ad" stroke-width="0.85"/>
<text transform="translate(661.5 298) scale(0.9 1)" font-size="6.9" text-anchor="start" fill="#1a1a1a" stroke="#1a1a1a" stroke-width="0.08">Mn-d</text>
<text transform="translate(498.8 345.7) scale(0.9 1)" font-size="6.04" text-anchor="middle" fill="#1a1a1a" stroke="#1a1a1a" stroke-width="0.08">-4</text>
<text transform="translate(544.9 345.7) scale(0.9 1)" font-size="6.04" text-anchor="middle" fill="#1a1a1a" stroke="#1a1a1a" stroke-width="0.08">-2</text>
<text transform="translate(591 345.7) scale(0.9 1)" font-size="6.04" text-anchor="middle" fill="#1a1a1a" stroke="#1a1a1a" stroke-width="0.08">0</text>
<text transform="translate(637.1 345.7) scale(0.9 1)" font-size="6.04" text-anchor="middle" fill="#1a1a1a" stroke="#1a1a1a" stroke-width="0.08">2</text>
<text transform="translate(683.2 345.7) scale(0.9 1)" font-size="6.04" text-anchor="middle" fill="#1a1a1a" stroke="#1a1a1a" stroke-width="0.08">4</text>
<text transform="translate(591 355.8) scale(0.9 1)" font-size="7.22" text-anchor="middle" fill="#1a1a1a" stroke="#1a1a1a" stroke-width="0.08">Energy (eV)</text>
<text transform="translate(487.2 272.75) rotate(-90) scale(0.9 1)" font-size="7.11" text-anchor="middle" fill="#1a1a1a" stroke="#1a1a1a" stroke-width="0.08">Density of states (States/eV)</text>
<text x="468" y="199.4" font-size="21.8" fill="#222">(f)</text>
</g>
</g>
</svg>
</body></html>
